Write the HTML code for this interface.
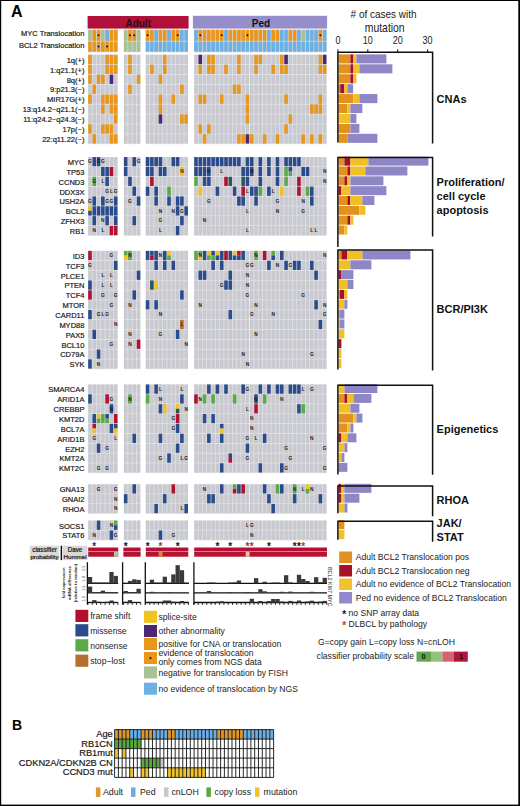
<!DOCTYPE html>
<html><head><meta charset="utf-8"><title>Figure</title>
<style>
html,body{margin:0;padding:0;background:#fff;}
body{width:520px;height:806px;overflow:hidden;position:relative;font-family:"Liberation Sans", sans-serif;}
svg{position:absolute;left:0;top:0;display:block;}
svg text{font-family:"Liberation Sans", sans-serif;}
.lb{stroke:#1a1a1a;stroke-width:0.2px;}
</style></head>
<body>
<svg width="520" height="806" viewBox="0 0 520 806">
<rect x="0" y="0" width="520" height="806" fill="#fff"/>
<rect x="87.60" y="16.00" width="101.00" height="12.60" fill="#b1103b"/>
<text x="138.20" y="27.20" font-size="10" text-anchor="middle" font-weight="bold" fill="#2a0a10">Adult</text>
<rect x="192.90" y="15.80" width="134.20" height="12.80" fill="#958ecb"/>
<text x="261.00" y="27.20" font-size="10" text-anchor="middle" font-weight="bold" fill="#111">Ped</text>
<rect x="88.20" y="29.70" width="29.29" height="11.75" fill="#e2e2e8"/>
<rect x="123.90" y="29.70" width="16.42" height="11.75" fill="#e2e2e8"/>
<rect x="145.80" y="29.70" width="42.16" height="11.75" fill="#e2e2e8"/>
<rect x="194.20" y="29.70" width="132.25" height="11.75" fill="#e2e2e8"/>
<rect x="249.13" y="29.70" width="0.94" height="11.75" fill="#f6f6f8"/>
<rect x="88.20" y="29.80" width="3.55" height="11.00" fill="#c9c9d0"/>
<rect x="92.49" y="29.80" width="3.55" height="11.00" fill="#c9c9d0"/>
<rect x="96.78" y="29.80" width="3.55" height="11.00" fill="#c9c9d0"/>
<rect x="101.07" y="29.80" width="3.55" height="11.00" fill="#c9c9d0"/>
<rect x="105.36" y="29.80" width="3.55" height="11.00" fill="#c9c9d0"/>
<rect x="109.65" y="29.80" width="3.55" height="11.00" fill="#c9c9d0"/>
<rect x="113.94" y="29.80" width="3.55" height="11.00" fill="#c9c9d0"/>
<rect x="123.90" y="29.80" width="3.55" height="11.00" fill="#c9c9d0"/>
<rect x="128.19" y="29.80" width="3.55" height="11.00" fill="#c9c9d0"/>
<rect x="132.48" y="29.80" width="3.55" height="11.00" fill="#c9c9d0"/>
<rect x="136.77" y="29.80" width="3.55" height="11.00" fill="#c9c9d0"/>
<rect x="145.80" y="29.80" width="3.55" height="11.00" fill="#c9c9d0"/>
<rect x="150.09" y="29.80" width="3.55" height="11.00" fill="#c9c9d0"/>
<rect x="154.38" y="29.80" width="3.55" height="11.00" fill="#c9c9d0"/>
<rect x="158.67" y="29.80" width="3.55" height="11.00" fill="#c9c9d0"/>
<rect x="162.96" y="29.80" width="3.55" height="11.00" fill="#c9c9d0"/>
<rect x="167.25" y="29.80" width="3.55" height="11.00" fill="#c9c9d0"/>
<rect x="171.54" y="29.80" width="3.55" height="11.00" fill="#c9c9d0"/>
<rect x="175.83" y="29.80" width="3.55" height="11.00" fill="#c9c9d0"/>
<rect x="180.12" y="29.80" width="3.55" height="11.00" fill="#c9c9d0"/>
<rect x="184.41" y="29.80" width="3.55" height="11.00" fill="#c9c9d0"/>
<rect x="194.20" y="29.80" width="3.55" height="11.00" fill="#c9c9d0"/>
<rect x="198.49" y="29.80" width="3.55" height="11.00" fill="#c9c9d0"/>
<rect x="202.78" y="29.80" width="3.55" height="11.00" fill="#c9c9d0"/>
<rect x="207.07" y="29.80" width="3.55" height="11.00" fill="#c9c9d0"/>
<rect x="211.36" y="29.80" width="3.55" height="11.00" fill="#c9c9d0"/>
<rect x="215.65" y="29.80" width="3.55" height="11.00" fill="#c9c9d0"/>
<rect x="219.94" y="29.80" width="3.55" height="11.00" fill="#c9c9d0"/>
<rect x="224.23" y="29.80" width="3.55" height="11.00" fill="#c9c9d0"/>
<rect x="228.52" y="29.80" width="3.55" height="11.00" fill="#c9c9d0"/>
<rect x="232.81" y="29.80" width="3.55" height="11.00" fill="#c9c9d0"/>
<rect x="237.10" y="29.80" width="3.55" height="11.00" fill="#c9c9d0"/>
<rect x="241.39" y="29.80" width="3.55" height="11.00" fill="#c9c9d0"/>
<rect x="245.68" y="29.80" width="3.55" height="11.00" fill="#c9c9d0"/>
<rect x="249.97" y="29.80" width="3.55" height="11.00" fill="#c9c9d0"/>
<rect x="254.26" y="29.80" width="3.55" height="11.00" fill="#c9c9d0"/>
<rect x="258.55" y="29.80" width="3.55" height="11.00" fill="#c9c9d0"/>
<rect x="262.84" y="29.80" width="3.55" height="11.00" fill="#c9c9d0"/>
<rect x="267.13" y="29.80" width="3.55" height="11.00" fill="#c9c9d0"/>
<rect x="271.42" y="29.80" width="3.55" height="11.00" fill="#c9c9d0"/>
<rect x="275.71" y="29.80" width="3.55" height="11.00" fill="#c9c9d0"/>
<rect x="280.00" y="29.80" width="3.55" height="11.00" fill="#c9c9d0"/>
<rect x="284.29" y="29.80" width="3.55" height="11.00" fill="#c9c9d0"/>
<rect x="288.58" y="29.80" width="3.55" height="11.00" fill="#c9c9d0"/>
<rect x="292.87" y="29.80" width="3.55" height="11.00" fill="#c9c9d0"/>
<rect x="297.16" y="29.80" width="3.55" height="11.00" fill="#c9c9d0"/>
<rect x="301.45" y="29.80" width="3.55" height="11.00" fill="#c9c9d0"/>
<rect x="305.74" y="29.80" width="3.55" height="11.00" fill="#c9c9d0"/>
<rect x="310.03" y="29.80" width="3.55" height="11.00" fill="#c9c9d0"/>
<rect x="314.32" y="29.80" width="3.55" height="11.00" fill="#c9c9d0"/>
<rect x="318.61" y="29.80" width="3.55" height="11.00" fill="#c9c9d0"/>
<rect x="322.90" y="29.80" width="3.55" height="11.00" fill="#c9c9d0"/>
<rect x="88.20" y="29.80" width="3.55" height="11.00" fill="#a9c293"/>
<rect x="92.49" y="29.80" width="3.55" height="11.00" fill="#e8961c"/>
<rect x="96.78" y="29.80" width="3.55" height="11.00" fill="#e8961c"/>
<circle cx="98.56" cy="35.30" r="1.0" fill="#201010"/>
<rect x="101.07" y="29.80" width="3.55" height="11.00" fill="#a9c293"/>
<rect x="105.36" y="29.80" width="3.55" height="11.00" fill="#6cb0e4"/>
<rect x="109.65" y="29.80" width="3.55" height="11.00" fill="#e8961c"/>
<rect x="113.94" y="29.80" width="3.55" height="11.00" fill="#e8961c"/>
<rect x="123.90" y="29.80" width="3.55" height="11.00" fill="#a9c293"/>
<rect x="128.19" y="29.80" width="3.55" height="11.00" fill="#e8961c"/>
<circle cx="129.97" cy="35.30" r="1.0" fill="#201010"/>
<rect x="132.48" y="29.80" width="3.55" height="11.00" fill="#e8961c"/>
<circle cx="134.26" cy="35.30" r="1.0" fill="#201010"/>
<rect x="136.77" y="29.80" width="3.55" height="11.00" fill="#a9c293"/>
<rect x="145.80" y="29.80" width="3.55" height="11.00" fill="#e8961c"/>
<circle cx="147.58" cy="35.30" r="1.0" fill="#201010"/>
<rect x="150.09" y="29.80" width="3.55" height="11.00" fill="#e8961c"/>
<rect x="154.38" y="29.80" width="3.55" height="11.00" fill="#6cb0e4"/>
<rect x="158.67" y="29.80" width="3.55" height="11.00" fill="#e8961c"/>
<rect x="162.96" y="29.80" width="3.55" height="11.00" fill="#e8961c"/>
<rect x="167.25" y="29.80" width="3.55" height="11.00" fill="#6cb0e4"/>
<rect x="171.54" y="29.80" width="3.55" height="11.00" fill="#e8961c"/>
<rect x="175.83" y="29.80" width="3.55" height="11.00" fill="#e8961c"/>
<circle cx="177.61" cy="35.30" r="1.0" fill="#201010"/>
<rect x="180.12" y="29.80" width="3.55" height="11.00" fill="#6cb0e4"/>
<rect x="184.41" y="29.80" width="3.55" height="11.00" fill="#6cb0e4"/>
<rect x="194.20" y="29.80" width="3.55" height="11.00" fill="#6cb0e4"/>
<rect x="198.49" y="29.80" width="3.55" height="11.00" fill="#e8961c"/>
<circle cx="200.26" cy="35.30" r="1.0" fill="#201010"/>
<rect x="202.78" y="29.80" width="3.55" height="11.00" fill="#e8961c"/>
<rect x="207.07" y="29.80" width="3.55" height="11.00" fill="#e8961c"/>
<rect x="211.36" y="29.80" width="3.55" height="11.00" fill="#e8961c"/>
<rect x="215.65" y="29.80" width="3.55" height="11.00" fill="#e8961c"/>
<rect x="219.94" y="29.80" width="3.55" height="11.00" fill="#e8961c"/>
<circle cx="221.72" cy="35.30" r="1.0" fill="#201010"/>
<rect x="224.23" y="29.80" width="3.55" height="11.00" fill="#6cb0e4"/>
<rect x="228.52" y="29.80" width="3.55" height="11.00" fill="#e8961c"/>
<rect x="232.81" y="29.80" width="3.55" height="11.00" fill="#e8961c"/>
<rect x="237.10" y="29.80" width="3.55" height="11.00" fill="#e8961c"/>
<rect x="241.39" y="29.80" width="3.55" height="11.00" fill="#e8961c"/>
<rect x="245.68" y="29.80" width="3.55" height="11.00" fill="#e8961c"/>
<circle cx="247.46" cy="35.30" r="1.0" fill="#201010"/>
<rect x="249.97" y="29.80" width="3.55" height="11.00" fill="#e8961c"/>
<rect x="254.26" y="29.80" width="3.55" height="11.00" fill="#e8961c"/>
<rect x="258.55" y="29.80" width="3.55" height="11.00" fill="#e8961c"/>
<rect x="262.84" y="29.80" width="3.55" height="11.00" fill="#e8961c"/>
<rect x="267.13" y="29.80" width="3.55" height="11.00" fill="#6cb0e4"/>
<rect x="271.42" y="29.80" width="3.55" height="11.00" fill="#e8961c"/>
<rect x="275.71" y="29.80" width="3.55" height="11.00" fill="#e8961c"/>
<rect x="280.00" y="29.80" width="3.55" height="11.00" fill="#6cb0e4"/>
<rect x="284.29" y="29.80" width="3.55" height="11.00" fill="#6cb0e4"/>
<rect x="288.58" y="29.80" width="3.55" height="11.00" fill="#e8961c"/>
<rect x="292.87" y="29.80" width="3.55" height="11.00" fill="#e8961c"/>
<rect x="297.16" y="29.80" width="3.55" height="11.00" fill="#6cb0e4"/>
<rect x="301.45" y="29.80" width="3.55" height="11.00" fill="#a9c293"/>
<rect x="305.74" y="29.80" width="3.55" height="11.00" fill="#6cb0e4"/>
<rect x="310.03" y="29.80" width="3.55" height="11.00" fill="#6cb0e4"/>
<rect x="314.32" y="29.80" width="3.55" height="11.00" fill="#6cb0e4"/>
<rect x="318.61" y="29.80" width="3.55" height="11.00" fill="#e8961c"/>
<circle cx="320.38" cy="35.30" r="1.0" fill="#201010"/>
<rect x="322.90" y="29.80" width="3.55" height="11.00" fill="#6cb0e4"/>
<text x="84.40" y="36.00" font-size="7.5" text-anchor="end" fill="#1a1a1a" class="lb">MYC Translocation</text>
<rect x="88.20" y="41.40" width="29.29" height="10.95" fill="#e2e2e8"/>
<rect x="123.90" y="41.40" width="16.42" height="10.95" fill="#e2e2e8"/>
<rect x="145.80" y="41.40" width="42.16" height="10.95" fill="#e2e2e8"/>
<rect x="194.20" y="41.40" width="132.25" height="10.95" fill="#e2e2e8"/>
<rect x="249.13" y="41.40" width="0.94" height="10.95" fill="#f6f6f8"/>
<rect x="88.20" y="41.50" width="3.55" height="10.20" fill="#c9c9d0"/>
<rect x="92.49" y="41.50" width="3.55" height="10.20" fill="#c9c9d0"/>
<rect x="96.78" y="41.50" width="3.55" height="10.20" fill="#c9c9d0"/>
<rect x="101.07" y="41.50" width="3.55" height="10.20" fill="#c9c9d0"/>
<rect x="105.36" y="41.50" width="3.55" height="10.20" fill="#c9c9d0"/>
<rect x="109.65" y="41.50" width="3.55" height="10.20" fill="#c9c9d0"/>
<rect x="113.94" y="41.50" width="3.55" height="10.20" fill="#c9c9d0"/>
<rect x="123.90" y="41.50" width="3.55" height="10.20" fill="#c9c9d0"/>
<rect x="128.19" y="41.50" width="3.55" height="10.20" fill="#c9c9d0"/>
<rect x="132.48" y="41.50" width="3.55" height="10.20" fill="#c9c9d0"/>
<rect x="136.77" y="41.50" width="3.55" height="10.20" fill="#c9c9d0"/>
<rect x="145.80" y="41.50" width="3.55" height="10.20" fill="#c9c9d0"/>
<rect x="150.09" y="41.50" width="3.55" height="10.20" fill="#c9c9d0"/>
<rect x="154.38" y="41.50" width="3.55" height="10.20" fill="#c9c9d0"/>
<rect x="158.67" y="41.50" width="3.55" height="10.20" fill="#c9c9d0"/>
<rect x="162.96" y="41.50" width="3.55" height="10.20" fill="#c9c9d0"/>
<rect x="167.25" y="41.50" width="3.55" height="10.20" fill="#c9c9d0"/>
<rect x="171.54" y="41.50" width="3.55" height="10.20" fill="#c9c9d0"/>
<rect x="175.83" y="41.50" width="3.55" height="10.20" fill="#c9c9d0"/>
<rect x="180.12" y="41.50" width="3.55" height="10.20" fill="#c9c9d0"/>
<rect x="184.41" y="41.50" width="3.55" height="10.20" fill="#c9c9d0"/>
<rect x="194.20" y="41.50" width="3.55" height="10.20" fill="#c9c9d0"/>
<rect x="198.49" y="41.50" width="3.55" height="10.20" fill="#c9c9d0"/>
<rect x="202.78" y="41.50" width="3.55" height="10.20" fill="#c9c9d0"/>
<rect x="207.07" y="41.50" width="3.55" height="10.20" fill="#c9c9d0"/>
<rect x="211.36" y="41.50" width="3.55" height="10.20" fill="#c9c9d0"/>
<rect x="215.65" y="41.50" width="3.55" height="10.20" fill="#c9c9d0"/>
<rect x="219.94" y="41.50" width="3.55" height="10.20" fill="#c9c9d0"/>
<rect x="224.23" y="41.50" width="3.55" height="10.20" fill="#c9c9d0"/>
<rect x="228.52" y="41.50" width="3.55" height="10.20" fill="#c9c9d0"/>
<rect x="232.81" y="41.50" width="3.55" height="10.20" fill="#c9c9d0"/>
<rect x="237.10" y="41.50" width="3.55" height="10.20" fill="#c9c9d0"/>
<rect x="241.39" y="41.50" width="3.55" height="10.20" fill="#c9c9d0"/>
<rect x="245.68" y="41.50" width="3.55" height="10.20" fill="#c9c9d0"/>
<rect x="249.97" y="41.50" width="3.55" height="10.20" fill="#c9c9d0"/>
<rect x="254.26" y="41.50" width="3.55" height="10.20" fill="#c9c9d0"/>
<rect x="258.55" y="41.50" width="3.55" height="10.20" fill="#c9c9d0"/>
<rect x="262.84" y="41.50" width="3.55" height="10.20" fill="#c9c9d0"/>
<rect x="267.13" y="41.50" width="3.55" height="10.20" fill="#c9c9d0"/>
<rect x="271.42" y="41.50" width="3.55" height="10.20" fill="#c9c9d0"/>
<rect x="275.71" y="41.50" width="3.55" height="10.20" fill="#c9c9d0"/>
<rect x="280.00" y="41.50" width="3.55" height="10.20" fill="#c9c9d0"/>
<rect x="284.29" y="41.50" width="3.55" height="10.20" fill="#c9c9d0"/>
<rect x="288.58" y="41.50" width="3.55" height="10.20" fill="#c9c9d0"/>
<rect x="292.87" y="41.50" width="3.55" height="10.20" fill="#c9c9d0"/>
<rect x="297.16" y="41.50" width="3.55" height="10.20" fill="#c9c9d0"/>
<rect x="301.45" y="41.50" width="3.55" height="10.20" fill="#c9c9d0"/>
<rect x="305.74" y="41.50" width="3.55" height="10.20" fill="#c9c9d0"/>
<rect x="310.03" y="41.50" width="3.55" height="10.20" fill="#c9c9d0"/>
<rect x="314.32" y="41.50" width="3.55" height="10.20" fill="#c9c9d0"/>
<rect x="318.61" y="41.50" width="3.55" height="10.20" fill="#c9c9d0"/>
<rect x="322.90" y="41.50" width="3.55" height="10.20" fill="#c9c9d0"/>
<rect x="88.20" y="41.50" width="3.55" height="10.20" fill="#e8961c"/>
<rect x="92.49" y="41.50" width="3.55" height="10.20" fill="#e8961c"/>
<rect x="96.78" y="41.50" width="3.55" height="10.20" fill="#e8961c"/>
<circle cx="98.56" cy="46.60" r="1.0" fill="#201010"/>
<rect x="101.07" y="41.50" width="3.55" height="10.20" fill="#e8961c"/>
<rect x="105.36" y="41.50" width="3.55" height="10.20" fill="#e8961c"/>
<circle cx="107.14" cy="46.60" r="1.0" fill="#201010"/>
<rect x="109.65" y="41.50" width="3.55" height="10.20" fill="#e8961c"/>
<rect x="113.94" y="41.50" width="3.55" height="10.20" fill="#e8961c"/>
<rect x="123.90" y="41.50" width="3.55" height="10.20" fill="#a9c293"/>
<rect x="128.19" y="41.50" width="3.55" height="10.20" fill="#a9c293"/>
<rect x="132.48" y="41.50" width="3.55" height="10.20" fill="#a9c293"/>
<rect x="136.77" y="41.50" width="3.55" height="10.20" fill="#a9c293"/>
<rect x="145.80" y="41.50" width="3.55" height="10.20" fill="#6cb0e4"/>
<rect x="150.09" y="41.50" width="3.55" height="10.20" fill="#6cb0e4"/>
<rect x="154.38" y="41.50" width="3.55" height="10.20" fill="#6cb0e4"/>
<rect x="158.67" y="41.50" width="3.55" height="10.20" fill="#6cb0e4"/>
<rect x="162.96" y="41.50" width="3.55" height="10.20" fill="#6cb0e4"/>
<rect x="167.25" y="41.50" width="3.55" height="10.20" fill="#6cb0e4"/>
<rect x="171.54" y="41.50" width="3.55" height="10.20" fill="#6cb0e4"/>
<rect x="175.83" y="41.50" width="3.55" height="10.20" fill="#6cb0e4"/>
<rect x="180.12" y="41.50" width="3.55" height="10.20" fill="#6cb0e4"/>
<rect x="184.41" y="41.50" width="3.55" height="10.20" fill="#6cb0e4"/>
<rect x="194.20" y="41.50" width="3.55" height="10.20" fill="#6cb0e4"/>
<rect x="198.49" y="41.50" width="3.55" height="10.20" fill="#6cb0e4"/>
<rect x="202.78" y="41.50" width="3.55" height="10.20" fill="#6cb0e4"/>
<rect x="207.07" y="41.50" width="3.55" height="10.20" fill="#6cb0e4"/>
<rect x="211.36" y="41.50" width="3.55" height="10.20" fill="#6cb0e4"/>
<rect x="215.65" y="41.50" width="3.55" height="10.20" fill="#6cb0e4"/>
<rect x="219.94" y="41.50" width="3.55" height="10.20" fill="#6cb0e4"/>
<rect x="224.23" y="41.50" width="3.55" height="10.20" fill="#6cb0e4"/>
<rect x="228.52" y="41.50" width="3.55" height="10.20" fill="#6cb0e4"/>
<rect x="232.81" y="41.50" width="3.55" height="10.20" fill="#6cb0e4"/>
<rect x="237.10" y="41.50" width="3.55" height="10.20" fill="#6cb0e4"/>
<rect x="241.39" y="41.50" width="3.55" height="10.20" fill="#6cb0e4"/>
<rect x="245.68" y="41.50" width="3.55" height="10.20" fill="#6cb0e4"/>
<rect x="249.97" y="41.50" width="3.55" height="10.20" fill="#6cb0e4"/>
<rect x="254.26" y="41.50" width="3.55" height="10.20" fill="#6cb0e4"/>
<rect x="258.55" y="41.50" width="3.55" height="10.20" fill="#6cb0e4"/>
<rect x="262.84" y="41.50" width="3.55" height="10.20" fill="#6cb0e4"/>
<rect x="267.13" y="41.50" width="3.55" height="10.20" fill="#6cb0e4"/>
<rect x="271.42" y="41.50" width="3.55" height="10.20" fill="#6cb0e4"/>
<rect x="275.71" y="41.50" width="3.55" height="10.20" fill="#6cb0e4"/>
<rect x="280.00" y="41.50" width="3.55" height="10.20" fill="#6cb0e4"/>
<rect x="284.29" y="41.50" width="3.55" height="10.20" fill="#6cb0e4"/>
<rect x="288.58" y="41.50" width="3.55" height="10.20" fill="#6cb0e4"/>
<rect x="292.87" y="41.50" width="3.55" height="10.20" fill="#6cb0e4"/>
<rect x="297.16" y="41.50" width="3.55" height="10.20" fill="#6cb0e4"/>
<rect x="301.45" y="41.50" width="3.55" height="10.20" fill="#6cb0e4"/>
<rect x="305.74" y="41.50" width="3.55" height="10.20" fill="#6cb0e4"/>
<rect x="310.03" y="41.50" width="3.55" height="10.20" fill="#6cb0e4"/>
<rect x="314.32" y="41.50" width="3.55" height="10.20" fill="#6cb0e4"/>
<rect x="318.61" y="41.50" width="3.55" height="10.20" fill="#6cb0e4"/>
<rect x="322.90" y="41.50" width="3.55" height="10.20" fill="#6cb0e4"/>
<text x="84.40" y="47.70" font-size="7.5" text-anchor="end" fill="#1a1a1a" class="lb">BCL2 Translocation</text>
<rect x="88.20" y="54.70" width="29.29" height="10.03" fill="#e2e2e8"/>
<rect x="123.90" y="54.70" width="16.42" height="10.03" fill="#e2e2e8"/>
<rect x="145.80" y="54.70" width="42.16" height="10.03" fill="#e2e2e8"/>
<rect x="194.20" y="54.70" width="132.25" height="10.03" fill="#e2e2e8"/>
<rect x="249.13" y="54.70" width="0.94" height="10.03" fill="#f6f6f8"/>
<rect x="88.20" y="54.80" width="3.55" height="9.28" fill="#c9c9d0"/>
<rect x="92.49" y="54.80" width="3.55" height="9.28" fill="#c9c9d0"/>
<rect x="96.78" y="54.80" width="3.55" height="9.28" fill="#c9c9d0"/>
<rect x="101.07" y="54.80" width="3.55" height="9.28" fill="#c9c9d0"/>
<rect x="105.36" y="54.80" width="3.55" height="9.28" fill="#c9c9d0"/>
<rect x="109.65" y="54.80" width="3.55" height="9.28" fill="#c9c9d0"/>
<rect x="113.94" y="54.80" width="3.55" height="9.28" fill="#c9c9d0"/>
<rect x="123.90" y="54.80" width="3.55" height="9.28" fill="#c9c9d0"/>
<rect x="128.19" y="54.80" width="3.55" height="9.28" fill="#c9c9d0"/>
<rect x="132.48" y="54.80" width="3.55" height="9.28" fill="#c9c9d0"/>
<rect x="136.77" y="54.80" width="3.55" height="9.28" fill="#c9c9d0"/>
<rect x="145.80" y="54.80" width="3.55" height="9.28" fill="#c9c9d0"/>
<rect x="150.09" y="54.80" width="3.55" height="9.28" fill="#c9c9d0"/>
<rect x="154.38" y="54.80" width="3.55" height="9.28" fill="#c9c9d0"/>
<rect x="158.67" y="54.80" width="3.55" height="9.28" fill="#c9c9d0"/>
<rect x="162.96" y="54.80" width="3.55" height="9.28" fill="#c9c9d0"/>
<rect x="167.25" y="54.80" width="3.55" height="9.28" fill="#c9c9d0"/>
<rect x="171.54" y="54.80" width="3.55" height="9.28" fill="#c9c9d0"/>
<rect x="175.83" y="54.80" width="3.55" height="9.28" fill="#c9c9d0"/>
<rect x="180.12" y="54.80" width="3.55" height="9.28" fill="#c9c9d0"/>
<rect x="184.41" y="54.80" width="3.55" height="9.28" fill="#c9c9d0"/>
<rect x="194.20" y="54.80" width="3.55" height="9.28" fill="#c9c9d0"/>
<rect x="198.49" y="54.80" width="3.55" height="9.28" fill="#c9c9d0"/>
<rect x="202.78" y="54.80" width="3.55" height="9.28" fill="#c9c9d0"/>
<rect x="207.07" y="54.80" width="3.55" height="9.28" fill="#c9c9d0"/>
<rect x="211.36" y="54.80" width="3.55" height="9.28" fill="#c9c9d0"/>
<rect x="215.65" y="54.80" width="3.55" height="9.28" fill="#c9c9d0"/>
<rect x="219.94" y="54.80" width="3.55" height="9.28" fill="#c9c9d0"/>
<rect x="224.23" y="54.80" width="3.55" height="9.28" fill="#c9c9d0"/>
<rect x="228.52" y="54.80" width="3.55" height="9.28" fill="#c9c9d0"/>
<rect x="232.81" y="54.80" width="3.55" height="9.28" fill="#c9c9d0"/>
<rect x="237.10" y="54.80" width="3.55" height="9.28" fill="#c9c9d0"/>
<rect x="241.39" y="54.80" width="3.55" height="9.28" fill="#c9c9d0"/>
<rect x="245.68" y="54.80" width="3.55" height="9.28" fill="#c9c9d0"/>
<rect x="249.97" y="54.80" width="3.55" height="9.28" fill="#c9c9d0"/>
<rect x="254.26" y="54.80" width="3.55" height="9.28" fill="#c9c9d0"/>
<rect x="258.55" y="54.80" width="3.55" height="9.28" fill="#c9c9d0"/>
<rect x="262.84" y="54.80" width="3.55" height="9.28" fill="#c9c9d0"/>
<rect x="267.13" y="54.80" width="3.55" height="9.28" fill="#c9c9d0"/>
<rect x="271.42" y="54.80" width="3.55" height="9.28" fill="#c9c9d0"/>
<rect x="275.71" y="54.80" width="3.55" height="9.28" fill="#c9c9d0"/>
<rect x="280.00" y="54.80" width="3.55" height="9.28" fill="#c9c9d0"/>
<rect x="284.29" y="54.80" width="3.55" height="9.28" fill="#c9c9d0"/>
<rect x="288.58" y="54.80" width="3.55" height="9.28" fill="#c9c9d0"/>
<rect x="292.87" y="54.80" width="3.55" height="9.28" fill="#c9c9d0"/>
<rect x="297.16" y="54.80" width="3.55" height="9.28" fill="#c9c9d0"/>
<rect x="301.45" y="54.80" width="3.55" height="9.28" fill="#c9c9d0"/>
<rect x="305.74" y="54.80" width="3.55" height="9.28" fill="#c9c9d0"/>
<rect x="310.03" y="54.80" width="3.55" height="9.28" fill="#c9c9d0"/>
<rect x="314.32" y="54.80" width="3.55" height="9.28" fill="#c9c9d0"/>
<rect x="318.61" y="54.80" width="3.55" height="9.28" fill="#c9c9d0"/>
<rect x="322.90" y="54.80" width="3.55" height="9.28" fill="#c9c9d0"/>
<rect x="88.20" y="54.80" width="3.55" height="9.28" fill="#e8961c"/>
<rect x="105.36" y="54.80" width="3.55" height="9.28" fill="#e8961c"/>
<rect x="109.65" y="54.80" width="3.55" height="9.28" fill="#e8961c"/>
<rect x="113.94" y="54.80" width="3.55" height="9.28" fill="#e8961c"/>
<rect x="128.19" y="54.80" width="3.55" height="9.28" fill="#e8961c"/>
<rect x="162.96" y="54.80" width="3.55" height="9.28" fill="#e8961c"/>
<rect x="198.49" y="54.80" width="3.55" height="9.28" fill="#4a2674"/>
<rect x="207.07" y="54.80" width="3.55" height="9.28" fill="#e8961c"/>
<rect x="211.36" y="54.80" width="3.55" height="9.28" fill="#e8961c"/>
<rect x="237.10" y="54.80" width="3.55" height="9.28" fill="#e8961c"/>
<rect x="254.26" y="54.80" width="3.55" height="9.28" fill="#e8961c"/>
<rect x="258.55" y="54.80" width="3.55" height="9.28" fill="#e8961c"/>
<rect x="280.00" y="54.80" width="3.55" height="9.28" fill="#e8961c"/>
<rect x="284.29" y="54.80" width="3.55" height="9.28" fill="#4a2674"/>
<rect x="318.61" y="54.80" width="3.55" height="9.28" fill="#e8961c"/>
<rect x="322.90" y="54.80" width="3.55" height="9.28" fill="#4a2674"/>
<text x="84.40" y="62.70" font-size="7.5" text-anchor="end" fill="#1a1a1a" class="lb">1q(+)</text>
<rect x="338.40" y="54.35" width="12.00" height="9.08" fill="#e4921f"/>
<rect x="350.40" y="54.35" width="3.00" height="9.08" fill="#a8102a"/>
<rect x="353.40" y="54.35" width="3.00" height="9.08" fill="#f0c026"/>
<rect x="356.40" y="54.35" width="30.00" height="9.08" fill="#8f87c5"/>
<rect x="88.20" y="64.63" width="29.29" height="10.03" fill="#e2e2e8"/>
<rect x="123.90" y="64.63" width="16.42" height="10.03" fill="#e2e2e8"/>
<rect x="145.80" y="64.63" width="42.16" height="10.03" fill="#e2e2e8"/>
<rect x="194.20" y="64.63" width="132.25" height="10.03" fill="#e2e2e8"/>
<rect x="249.13" y="64.63" width="0.94" height="10.03" fill="#f6f6f8"/>
<rect x="88.20" y="64.73" width="3.55" height="9.28" fill="#c9c9d0"/>
<rect x="92.49" y="64.73" width="3.55" height="9.28" fill="#c9c9d0"/>
<rect x="96.78" y="64.73" width="3.55" height="9.28" fill="#c9c9d0"/>
<rect x="101.07" y="64.73" width="3.55" height="9.28" fill="#c9c9d0"/>
<rect x="105.36" y="64.73" width="3.55" height="9.28" fill="#c9c9d0"/>
<rect x="109.65" y="64.73" width="3.55" height="9.28" fill="#c9c9d0"/>
<rect x="113.94" y="64.73" width="3.55" height="9.28" fill="#c9c9d0"/>
<rect x="123.90" y="64.73" width="3.55" height="9.28" fill="#c9c9d0"/>
<rect x="128.19" y="64.73" width="3.55" height="9.28" fill="#c9c9d0"/>
<rect x="132.48" y="64.73" width="3.55" height="9.28" fill="#c9c9d0"/>
<rect x="136.77" y="64.73" width="3.55" height="9.28" fill="#c9c9d0"/>
<rect x="145.80" y="64.73" width="3.55" height="9.28" fill="#c9c9d0"/>
<rect x="150.09" y="64.73" width="3.55" height="9.28" fill="#c9c9d0"/>
<rect x="154.38" y="64.73" width="3.55" height="9.28" fill="#c9c9d0"/>
<rect x="158.67" y="64.73" width="3.55" height="9.28" fill="#c9c9d0"/>
<rect x="162.96" y="64.73" width="3.55" height="9.28" fill="#c9c9d0"/>
<rect x="167.25" y="64.73" width="3.55" height="9.28" fill="#c9c9d0"/>
<rect x="171.54" y="64.73" width="3.55" height="9.28" fill="#c9c9d0"/>
<rect x="175.83" y="64.73" width="3.55" height="9.28" fill="#c9c9d0"/>
<rect x="180.12" y="64.73" width="3.55" height="9.28" fill="#c9c9d0"/>
<rect x="184.41" y="64.73" width="3.55" height="9.28" fill="#c9c9d0"/>
<rect x="194.20" y="64.73" width="3.55" height="9.28" fill="#c9c9d0"/>
<rect x="198.49" y="64.73" width="3.55" height="9.28" fill="#c9c9d0"/>
<rect x="202.78" y="64.73" width="3.55" height="9.28" fill="#c9c9d0"/>
<rect x="207.07" y="64.73" width="3.55" height="9.28" fill="#c9c9d0"/>
<rect x="211.36" y="64.73" width="3.55" height="9.28" fill="#c9c9d0"/>
<rect x="215.65" y="64.73" width="3.55" height="9.28" fill="#c9c9d0"/>
<rect x="219.94" y="64.73" width="3.55" height="9.28" fill="#c9c9d0"/>
<rect x="224.23" y="64.73" width="3.55" height="9.28" fill="#c9c9d0"/>
<rect x="228.52" y="64.73" width="3.55" height="9.28" fill="#c9c9d0"/>
<rect x="232.81" y="64.73" width="3.55" height="9.28" fill="#c9c9d0"/>
<rect x="237.10" y="64.73" width="3.55" height="9.28" fill="#c9c9d0"/>
<rect x="241.39" y="64.73" width="3.55" height="9.28" fill="#c9c9d0"/>
<rect x="245.68" y="64.73" width="3.55" height="9.28" fill="#c9c9d0"/>
<rect x="249.97" y="64.73" width="3.55" height="9.28" fill="#c9c9d0"/>
<rect x="254.26" y="64.73" width="3.55" height="9.28" fill="#c9c9d0"/>
<rect x="258.55" y="64.73" width="3.55" height="9.28" fill="#c9c9d0"/>
<rect x="262.84" y="64.73" width="3.55" height="9.28" fill="#c9c9d0"/>
<rect x="267.13" y="64.73" width="3.55" height="9.28" fill="#c9c9d0"/>
<rect x="271.42" y="64.73" width="3.55" height="9.28" fill="#c9c9d0"/>
<rect x="275.71" y="64.73" width="3.55" height="9.28" fill="#c9c9d0"/>
<rect x="280.00" y="64.73" width="3.55" height="9.28" fill="#c9c9d0"/>
<rect x="284.29" y="64.73" width="3.55" height="9.28" fill="#c9c9d0"/>
<rect x="288.58" y="64.73" width="3.55" height="9.28" fill="#c9c9d0"/>
<rect x="292.87" y="64.73" width="3.55" height="9.28" fill="#c9c9d0"/>
<rect x="297.16" y="64.73" width="3.55" height="9.28" fill="#c9c9d0"/>
<rect x="301.45" y="64.73" width="3.55" height="9.28" fill="#c9c9d0"/>
<rect x="305.74" y="64.73" width="3.55" height="9.28" fill="#c9c9d0"/>
<rect x="310.03" y="64.73" width="3.55" height="9.28" fill="#c9c9d0"/>
<rect x="314.32" y="64.73" width="3.55" height="9.28" fill="#c9c9d0"/>
<rect x="318.61" y="64.73" width="3.55" height="9.28" fill="#c9c9d0"/>
<rect x="322.90" y="64.73" width="3.55" height="9.28" fill="#c9c9d0"/>
<rect x="88.20" y="64.73" width="3.55" height="9.28" fill="#e8961c"/>
<rect x="105.36" y="64.73" width="3.55" height="9.28" fill="#e8961c"/>
<rect x="109.65" y="64.73" width="3.55" height="9.28" fill="#e8961c"/>
<rect x="113.94" y="64.73" width="3.55" height="9.28" fill="#e8961c"/>
<rect x="128.19" y="64.73" width="3.55" height="9.28" fill="#e8961c"/>
<rect x="150.09" y="64.73" width="3.55" height="9.28" fill="#e8961c"/>
<rect x="162.96" y="64.73" width="3.55" height="9.28" fill="#e8961c"/>
<rect x="198.49" y="64.73" width="3.55" height="9.28" fill="#e8961c"/>
<rect x="207.07" y="64.73" width="3.55" height="9.28" fill="#e8961c"/>
<rect x="211.36" y="64.73" width="3.55" height="9.28" fill="#e8961c"/>
<rect x="224.23" y="64.73" width="3.55" height="9.28" fill="#e8961c"/>
<rect x="237.10" y="64.73" width="3.55" height="9.28" fill="#e8961c"/>
<rect x="254.26" y="64.73" width="3.55" height="9.28" fill="#e8961c"/>
<rect x="271.42" y="64.73" width="3.55" height="9.28" fill="#e8961c"/>
<rect x="280.00" y="64.73" width="3.55" height="9.28" fill="#e8961c"/>
<rect x="284.29" y="64.73" width="3.55" height="9.28" fill="#e8961c"/>
<rect x="318.61" y="64.73" width="3.55" height="9.28" fill="#e8961c"/>
<rect x="322.90" y="64.73" width="3.55" height="9.28" fill="#e8961c"/>
<text x="84.40" y="72.63" font-size="7.5" text-anchor="end" fill="#1a1a1a" class="lb">1:q21.1(+)</text>
<rect x="338.40" y="64.28" width="12.00" height="9.08" fill="#e4921f"/>
<rect x="350.40" y="64.28" width="3.00" height="9.08" fill="#a8102a"/>
<rect x="353.40" y="64.28" width="6.00" height="9.08" fill="#f0c026"/>
<rect x="359.40" y="64.28" width="33.00" height="9.08" fill="#8f87c5"/>
<rect x="88.20" y="74.56" width="29.29" height="10.03" fill="#e2e2e8"/>
<rect x="123.90" y="74.56" width="16.42" height="10.03" fill="#e2e2e8"/>
<rect x="145.80" y="74.56" width="42.16" height="10.03" fill="#e2e2e8"/>
<rect x="194.20" y="74.56" width="132.25" height="10.03" fill="#e2e2e8"/>
<rect x="249.13" y="74.56" width="0.94" height="10.03" fill="#f6f6f8"/>
<rect x="88.20" y="74.66" width="3.55" height="9.28" fill="#c9c9d0"/>
<rect x="92.49" y="74.66" width="3.55" height="9.28" fill="#c9c9d0"/>
<rect x="96.78" y="74.66" width="3.55" height="9.28" fill="#c9c9d0"/>
<rect x="101.07" y="74.66" width="3.55" height="9.28" fill="#c9c9d0"/>
<rect x="105.36" y="74.66" width="3.55" height="9.28" fill="#c9c9d0"/>
<rect x="109.65" y="74.66" width="3.55" height="9.28" fill="#c9c9d0"/>
<rect x="113.94" y="74.66" width="3.55" height="9.28" fill="#c9c9d0"/>
<rect x="123.90" y="74.66" width="3.55" height="9.28" fill="#c9c9d0"/>
<rect x="128.19" y="74.66" width="3.55" height="9.28" fill="#c9c9d0"/>
<rect x="132.48" y="74.66" width="3.55" height="9.28" fill="#c9c9d0"/>
<rect x="136.77" y="74.66" width="3.55" height="9.28" fill="#c9c9d0"/>
<rect x="145.80" y="74.66" width="3.55" height="9.28" fill="#c9c9d0"/>
<rect x="150.09" y="74.66" width="3.55" height="9.28" fill="#c9c9d0"/>
<rect x="154.38" y="74.66" width="3.55" height="9.28" fill="#c9c9d0"/>
<rect x="158.67" y="74.66" width="3.55" height="9.28" fill="#c9c9d0"/>
<rect x="162.96" y="74.66" width="3.55" height="9.28" fill="#c9c9d0"/>
<rect x="167.25" y="74.66" width="3.55" height="9.28" fill="#c9c9d0"/>
<rect x="171.54" y="74.66" width="3.55" height="9.28" fill="#c9c9d0"/>
<rect x="175.83" y="74.66" width="3.55" height="9.28" fill="#c9c9d0"/>
<rect x="180.12" y="74.66" width="3.55" height="9.28" fill="#c9c9d0"/>
<rect x="184.41" y="74.66" width="3.55" height="9.28" fill="#c9c9d0"/>
<rect x="194.20" y="74.66" width="3.55" height="9.28" fill="#c9c9d0"/>
<rect x="198.49" y="74.66" width="3.55" height="9.28" fill="#c9c9d0"/>
<rect x="202.78" y="74.66" width="3.55" height="9.28" fill="#c9c9d0"/>
<rect x="207.07" y="74.66" width="3.55" height="9.28" fill="#c9c9d0"/>
<rect x="211.36" y="74.66" width="3.55" height="9.28" fill="#c9c9d0"/>
<rect x="215.65" y="74.66" width="3.55" height="9.28" fill="#c9c9d0"/>
<rect x="219.94" y="74.66" width="3.55" height="9.28" fill="#c9c9d0"/>
<rect x="224.23" y="74.66" width="3.55" height="9.28" fill="#c9c9d0"/>
<rect x="228.52" y="74.66" width="3.55" height="9.28" fill="#c9c9d0"/>
<rect x="232.81" y="74.66" width="3.55" height="9.28" fill="#c9c9d0"/>
<rect x="237.10" y="74.66" width="3.55" height="9.28" fill="#c9c9d0"/>
<rect x="241.39" y="74.66" width="3.55" height="9.28" fill="#c9c9d0"/>
<rect x="245.68" y="74.66" width="3.55" height="9.28" fill="#c9c9d0"/>
<rect x="249.97" y="74.66" width="3.55" height="9.28" fill="#c9c9d0"/>
<rect x="254.26" y="74.66" width="3.55" height="9.28" fill="#c9c9d0"/>
<rect x="258.55" y="74.66" width="3.55" height="9.28" fill="#c9c9d0"/>
<rect x="262.84" y="74.66" width="3.55" height="9.28" fill="#c9c9d0"/>
<rect x="267.13" y="74.66" width="3.55" height="9.28" fill="#c9c9d0"/>
<rect x="271.42" y="74.66" width="3.55" height="9.28" fill="#c9c9d0"/>
<rect x="275.71" y="74.66" width="3.55" height="9.28" fill="#c9c9d0"/>
<rect x="280.00" y="74.66" width="3.55" height="9.28" fill="#c9c9d0"/>
<rect x="284.29" y="74.66" width="3.55" height="9.28" fill="#c9c9d0"/>
<rect x="288.58" y="74.66" width="3.55" height="9.28" fill="#c9c9d0"/>
<rect x="292.87" y="74.66" width="3.55" height="9.28" fill="#c9c9d0"/>
<rect x="297.16" y="74.66" width="3.55" height="9.28" fill="#c9c9d0"/>
<rect x="301.45" y="74.66" width="3.55" height="9.28" fill="#c9c9d0"/>
<rect x="305.74" y="74.66" width="3.55" height="9.28" fill="#c9c9d0"/>
<rect x="310.03" y="74.66" width="3.55" height="9.28" fill="#c9c9d0"/>
<rect x="314.32" y="74.66" width="3.55" height="9.28" fill="#c9c9d0"/>
<rect x="318.61" y="74.66" width="3.55" height="9.28" fill="#c9c9d0"/>
<rect x="322.90" y="74.66" width="3.55" height="9.28" fill="#c9c9d0"/>
<rect x="88.20" y="74.66" width="3.55" height="9.28" fill="#e8961c"/>
<rect x="96.78" y="74.66" width="3.55" height="9.28" fill="#e8961c"/>
<rect x="101.07" y="74.66" width="3.55" height="9.28" fill="#e8961c"/>
<rect x="109.65" y="74.66" width="3.55" height="9.28" fill="#4a2674"/>
<rect x="136.77" y="74.66" width="3.55" height="9.28" fill="#e8961c"/>
<rect x="158.67" y="74.66" width="3.55" height="9.28" fill="#e8961c"/>
<text x="84.40" y="82.56" font-size="7.5" text-anchor="end" fill="#1a1a1a" class="lb">8q(+)</text>
<rect x="338.40" y="74.21" width="12.00" height="9.08" fill="#e4921f"/>
<rect x="350.40" y="74.21" width="3.00" height="9.08" fill="#a8102a"/>
<rect x="353.40" y="74.21" width="3.00" height="9.08" fill="#f0c026"/>
<rect x="88.20" y="84.49" width="29.29" height="10.03" fill="#e2e2e8"/>
<rect x="123.90" y="84.49" width="16.42" height="10.03" fill="#e2e2e8"/>
<rect x="145.80" y="84.49" width="42.16" height="10.03" fill="#e2e2e8"/>
<rect x="194.20" y="84.49" width="132.25" height="10.03" fill="#e2e2e8"/>
<rect x="249.13" y="84.49" width="0.94" height="10.03" fill="#f6f6f8"/>
<rect x="88.20" y="84.59" width="3.55" height="9.28" fill="#c9c9d0"/>
<rect x="92.49" y="84.59" width="3.55" height="9.28" fill="#c9c9d0"/>
<rect x="96.78" y="84.59" width="3.55" height="9.28" fill="#c9c9d0"/>
<rect x="101.07" y="84.59" width="3.55" height="9.28" fill="#c9c9d0"/>
<rect x="105.36" y="84.59" width="3.55" height="9.28" fill="#c9c9d0"/>
<rect x="109.65" y="84.59" width="3.55" height="9.28" fill="#c9c9d0"/>
<rect x="113.94" y="84.59" width="3.55" height="9.28" fill="#c9c9d0"/>
<rect x="123.90" y="84.59" width="3.55" height="9.28" fill="#c9c9d0"/>
<rect x="128.19" y="84.59" width="3.55" height="9.28" fill="#c9c9d0"/>
<rect x="132.48" y="84.59" width="3.55" height="9.28" fill="#c9c9d0"/>
<rect x="136.77" y="84.59" width="3.55" height="9.28" fill="#c9c9d0"/>
<rect x="145.80" y="84.59" width="3.55" height="9.28" fill="#c9c9d0"/>
<rect x="150.09" y="84.59" width="3.55" height="9.28" fill="#c9c9d0"/>
<rect x="154.38" y="84.59" width="3.55" height="9.28" fill="#c9c9d0"/>
<rect x="158.67" y="84.59" width="3.55" height="9.28" fill="#c9c9d0"/>
<rect x="162.96" y="84.59" width="3.55" height="9.28" fill="#c9c9d0"/>
<rect x="167.25" y="84.59" width="3.55" height="9.28" fill="#c9c9d0"/>
<rect x="171.54" y="84.59" width="3.55" height="9.28" fill="#c9c9d0"/>
<rect x="175.83" y="84.59" width="3.55" height="9.28" fill="#c9c9d0"/>
<rect x="180.12" y="84.59" width="3.55" height="9.28" fill="#c9c9d0"/>
<rect x="184.41" y="84.59" width="3.55" height="9.28" fill="#c9c9d0"/>
<rect x="194.20" y="84.59" width="3.55" height="9.28" fill="#c9c9d0"/>
<rect x="198.49" y="84.59" width="3.55" height="9.28" fill="#c9c9d0"/>
<rect x="202.78" y="84.59" width="3.55" height="9.28" fill="#c9c9d0"/>
<rect x="207.07" y="84.59" width="3.55" height="9.28" fill="#c9c9d0"/>
<rect x="211.36" y="84.59" width="3.55" height="9.28" fill="#c9c9d0"/>
<rect x="215.65" y="84.59" width="3.55" height="9.28" fill="#c9c9d0"/>
<rect x="219.94" y="84.59" width="3.55" height="9.28" fill="#c9c9d0"/>
<rect x="224.23" y="84.59" width="3.55" height="9.28" fill="#c9c9d0"/>
<rect x="228.52" y="84.59" width="3.55" height="9.28" fill="#c9c9d0"/>
<rect x="232.81" y="84.59" width="3.55" height="9.28" fill="#c9c9d0"/>
<rect x="237.10" y="84.59" width="3.55" height="9.28" fill="#c9c9d0"/>
<rect x="241.39" y="84.59" width="3.55" height="9.28" fill="#c9c9d0"/>
<rect x="245.68" y="84.59" width="3.55" height="9.28" fill="#c9c9d0"/>
<rect x="249.97" y="84.59" width="3.55" height="9.28" fill="#c9c9d0"/>
<rect x="254.26" y="84.59" width="3.55" height="9.28" fill="#c9c9d0"/>
<rect x="258.55" y="84.59" width="3.55" height="9.28" fill="#c9c9d0"/>
<rect x="262.84" y="84.59" width="3.55" height="9.28" fill="#c9c9d0"/>
<rect x="267.13" y="84.59" width="3.55" height="9.28" fill="#c9c9d0"/>
<rect x="271.42" y="84.59" width="3.55" height="9.28" fill="#c9c9d0"/>
<rect x="275.71" y="84.59" width="3.55" height="9.28" fill="#c9c9d0"/>
<rect x="280.00" y="84.59" width="3.55" height="9.28" fill="#c9c9d0"/>
<rect x="284.29" y="84.59" width="3.55" height="9.28" fill="#c9c9d0"/>
<rect x="288.58" y="84.59" width="3.55" height="9.28" fill="#c9c9d0"/>
<rect x="292.87" y="84.59" width="3.55" height="9.28" fill="#c9c9d0"/>
<rect x="297.16" y="84.59" width="3.55" height="9.28" fill="#c9c9d0"/>
<rect x="301.45" y="84.59" width="3.55" height="9.28" fill="#c9c9d0"/>
<rect x="305.74" y="84.59" width="3.55" height="9.28" fill="#c9c9d0"/>
<rect x="310.03" y="84.59" width="3.55" height="9.28" fill="#c9c9d0"/>
<rect x="314.32" y="84.59" width="3.55" height="9.28" fill="#c9c9d0"/>
<rect x="318.61" y="84.59" width="3.55" height="9.28" fill="#c9c9d0"/>
<rect x="322.90" y="84.59" width="3.55" height="9.28" fill="#c9c9d0"/>
<rect x="92.49" y="84.59" width="3.55" height="9.28" fill="#e8961c"/>
<rect x="128.19" y="84.59" width="3.55" height="9.28" fill="#e8961c"/>
<rect x="180.12" y="84.59" width="3.55" height="9.28" fill="#e8961c"/>
<rect x="232.81" y="84.59" width="3.55" height="9.28" fill="#e8961c"/>
<rect x="237.10" y="84.59" width="3.55" height="9.28" fill="#e8961c"/>
<text x="84.40" y="92.49" font-size="7.5" text-anchor="end" fill="#1a1a1a" class="lb">9:p21.3(−)</text>
<rect x="338.40" y="84.14" width="1.80" height="9.08" fill="#e4921f"/>
<rect x="340.20" y="84.14" width="4.20" height="9.08" fill="#a8102a"/>
<rect x="344.40" y="84.14" width="3.00" height="9.08" fill="#f0c026"/>
<rect x="347.40" y="84.14" width="5.70" height="9.08" fill="#8f87c5"/>
<rect x="88.20" y="94.42" width="29.29" height="10.03" fill="#e2e2e8"/>
<rect x="123.90" y="94.42" width="16.42" height="10.03" fill="#e2e2e8"/>
<rect x="145.80" y="94.42" width="42.16" height="10.03" fill="#e2e2e8"/>
<rect x="194.20" y="94.42" width="132.25" height="10.03" fill="#e2e2e8"/>
<rect x="249.13" y="94.42" width="0.94" height="10.03" fill="#f6f6f8"/>
<rect x="88.20" y="94.52" width="3.55" height="9.28" fill="#c9c9d0"/>
<rect x="92.49" y="94.52" width="3.55" height="9.28" fill="#c9c9d0"/>
<rect x="96.78" y="94.52" width="3.55" height="9.28" fill="#c9c9d0"/>
<rect x="101.07" y="94.52" width="3.55" height="9.28" fill="#c9c9d0"/>
<rect x="105.36" y="94.52" width="3.55" height="9.28" fill="#c9c9d0"/>
<rect x="109.65" y="94.52" width="3.55" height="9.28" fill="#c9c9d0"/>
<rect x="113.94" y="94.52" width="3.55" height="9.28" fill="#c9c9d0"/>
<rect x="123.90" y="94.52" width="3.55" height="9.28" fill="#c9c9d0"/>
<rect x="128.19" y="94.52" width="3.55" height="9.28" fill="#c9c9d0"/>
<rect x="132.48" y="94.52" width="3.55" height="9.28" fill="#c9c9d0"/>
<rect x="136.77" y="94.52" width="3.55" height="9.28" fill="#c9c9d0"/>
<rect x="145.80" y="94.52" width="3.55" height="9.28" fill="#c9c9d0"/>
<rect x="150.09" y="94.52" width="3.55" height="9.28" fill="#c9c9d0"/>
<rect x="154.38" y="94.52" width="3.55" height="9.28" fill="#c9c9d0"/>
<rect x="158.67" y="94.52" width="3.55" height="9.28" fill="#c9c9d0"/>
<rect x="162.96" y="94.52" width="3.55" height="9.28" fill="#c9c9d0"/>
<rect x="167.25" y="94.52" width="3.55" height="9.28" fill="#c9c9d0"/>
<rect x="171.54" y="94.52" width="3.55" height="9.28" fill="#c9c9d0"/>
<rect x="175.83" y="94.52" width="3.55" height="9.28" fill="#c9c9d0"/>
<rect x="180.12" y="94.52" width="3.55" height="9.28" fill="#c9c9d0"/>
<rect x="184.41" y="94.52" width="3.55" height="9.28" fill="#c9c9d0"/>
<rect x="194.20" y="94.52" width="3.55" height="9.28" fill="#c9c9d0"/>
<rect x="198.49" y="94.52" width="3.55" height="9.28" fill="#c9c9d0"/>
<rect x="202.78" y="94.52" width="3.55" height="9.28" fill="#c9c9d0"/>
<rect x="207.07" y="94.52" width="3.55" height="9.28" fill="#c9c9d0"/>
<rect x="211.36" y="94.52" width="3.55" height="9.28" fill="#c9c9d0"/>
<rect x="215.65" y="94.52" width="3.55" height="9.28" fill="#c9c9d0"/>
<rect x="219.94" y="94.52" width="3.55" height="9.28" fill="#c9c9d0"/>
<rect x="224.23" y="94.52" width="3.55" height="9.28" fill="#c9c9d0"/>
<rect x="228.52" y="94.52" width="3.55" height="9.28" fill="#c9c9d0"/>
<rect x="232.81" y="94.52" width="3.55" height="9.28" fill="#c9c9d0"/>
<rect x="237.10" y="94.52" width="3.55" height="9.28" fill="#c9c9d0"/>
<rect x="241.39" y="94.52" width="3.55" height="9.28" fill="#c9c9d0"/>
<rect x="245.68" y="94.52" width="3.55" height="9.28" fill="#c9c9d0"/>
<rect x="249.97" y="94.52" width="3.55" height="9.28" fill="#c9c9d0"/>
<rect x="254.26" y="94.52" width="3.55" height="9.28" fill="#c9c9d0"/>
<rect x="258.55" y="94.52" width="3.55" height="9.28" fill="#c9c9d0"/>
<rect x="262.84" y="94.52" width="3.55" height="9.28" fill="#c9c9d0"/>
<rect x="267.13" y="94.52" width="3.55" height="9.28" fill="#c9c9d0"/>
<rect x="271.42" y="94.52" width="3.55" height="9.28" fill="#c9c9d0"/>
<rect x="275.71" y="94.52" width="3.55" height="9.28" fill="#c9c9d0"/>
<rect x="280.00" y="94.52" width="3.55" height="9.28" fill="#c9c9d0"/>
<rect x="284.29" y="94.52" width="3.55" height="9.28" fill="#c9c9d0"/>
<rect x="288.58" y="94.52" width="3.55" height="9.28" fill="#c9c9d0"/>
<rect x="292.87" y="94.52" width="3.55" height="9.28" fill="#c9c9d0"/>
<rect x="297.16" y="94.52" width="3.55" height="9.28" fill="#c9c9d0"/>
<rect x="301.45" y="94.52" width="3.55" height="9.28" fill="#c9c9d0"/>
<rect x="305.74" y="94.52" width="3.55" height="9.28" fill="#c9c9d0"/>
<rect x="310.03" y="94.52" width="3.55" height="9.28" fill="#c9c9d0"/>
<rect x="314.32" y="94.52" width="3.55" height="9.28" fill="#c9c9d0"/>
<rect x="318.61" y="94.52" width="3.55" height="9.28" fill="#c9c9d0"/>
<rect x="322.90" y="94.52" width="3.55" height="9.28" fill="#c9c9d0"/>
<rect x="88.20" y="94.52" width="3.55" height="9.28" fill="#e8961c"/>
<rect x="101.07" y="94.52" width="3.55" height="9.28" fill="#e8961c"/>
<rect x="105.36" y="94.52" width="3.55" height="9.28" fill="#e8961c"/>
<rect x="109.65" y="94.52" width="3.55" height="9.28" fill="#e8961c"/>
<rect x="113.94" y="94.52" width="3.55" height="9.28" fill="#e8961c"/>
<rect x="158.67" y="94.52" width="3.55" height="9.28" fill="#e8961c"/>
<rect x="171.54" y="94.52" width="3.55" height="9.28" fill="#e8961c"/>
<rect x="198.49" y="94.52" width="3.55" height="9.28" fill="#e8961c"/>
<rect x="202.78" y="94.52" width="3.55" height="9.28" fill="#e8961c"/>
<rect x="219.94" y="94.52" width="3.55" height="9.28" fill="#e8961c"/>
<rect x="245.68" y="94.52" width="3.55" height="9.28" fill="#e8961c"/>
<rect x="284.29" y="94.52" width="3.55" height="9.28" fill="#e8961c"/>
<rect x="318.61" y="94.52" width="3.55" height="9.28" fill="#e8961c"/>
<text x="84.40" y="102.42" font-size="7.5" text-anchor="end" fill="#1a1a1a" class="lb">MIR17G(+)</text>
<rect x="338.40" y="94.07" width="15.00" height="9.08" fill="#e4921f"/>
<rect x="353.40" y="94.07" width="6.00" height="9.08" fill="#f0c026"/>
<rect x="359.40" y="94.07" width="18.00" height="9.08" fill="#8f87c5"/>
<rect x="88.20" y="104.35" width="29.29" height="10.03" fill="#e2e2e8"/>
<rect x="123.90" y="104.35" width="16.42" height="10.03" fill="#e2e2e8"/>
<rect x="145.80" y="104.35" width="42.16" height="10.03" fill="#e2e2e8"/>
<rect x="194.20" y="104.35" width="132.25" height="10.03" fill="#e2e2e8"/>
<rect x="249.13" y="104.35" width="0.94" height="10.03" fill="#f6f6f8"/>
<rect x="88.20" y="104.45" width="3.55" height="9.28" fill="#c9c9d0"/>
<rect x="92.49" y="104.45" width="3.55" height="9.28" fill="#c9c9d0"/>
<rect x="96.78" y="104.45" width="3.55" height="9.28" fill="#c9c9d0"/>
<rect x="101.07" y="104.45" width="3.55" height="9.28" fill="#c9c9d0"/>
<rect x="105.36" y="104.45" width="3.55" height="9.28" fill="#c9c9d0"/>
<rect x="109.65" y="104.45" width="3.55" height="9.28" fill="#c9c9d0"/>
<rect x="113.94" y="104.45" width="3.55" height="9.28" fill="#c9c9d0"/>
<rect x="123.90" y="104.45" width="3.55" height="9.28" fill="#c9c9d0"/>
<rect x="128.19" y="104.45" width="3.55" height="9.28" fill="#c9c9d0"/>
<rect x="132.48" y="104.45" width="3.55" height="9.28" fill="#c9c9d0"/>
<rect x="136.77" y="104.45" width="3.55" height="9.28" fill="#c9c9d0"/>
<rect x="145.80" y="104.45" width="3.55" height="9.28" fill="#c9c9d0"/>
<rect x="150.09" y="104.45" width="3.55" height="9.28" fill="#c9c9d0"/>
<rect x="154.38" y="104.45" width="3.55" height="9.28" fill="#c9c9d0"/>
<rect x="158.67" y="104.45" width="3.55" height="9.28" fill="#c9c9d0"/>
<rect x="162.96" y="104.45" width="3.55" height="9.28" fill="#c9c9d0"/>
<rect x="167.25" y="104.45" width="3.55" height="9.28" fill="#c9c9d0"/>
<rect x="171.54" y="104.45" width="3.55" height="9.28" fill="#c9c9d0"/>
<rect x="175.83" y="104.45" width="3.55" height="9.28" fill="#c9c9d0"/>
<rect x="180.12" y="104.45" width="3.55" height="9.28" fill="#c9c9d0"/>
<rect x="184.41" y="104.45" width="3.55" height="9.28" fill="#c9c9d0"/>
<rect x="194.20" y="104.45" width="3.55" height="9.28" fill="#c9c9d0"/>
<rect x="198.49" y="104.45" width="3.55" height="9.28" fill="#c9c9d0"/>
<rect x="202.78" y="104.45" width="3.55" height="9.28" fill="#c9c9d0"/>
<rect x="207.07" y="104.45" width="3.55" height="9.28" fill="#c9c9d0"/>
<rect x="211.36" y="104.45" width="3.55" height="9.28" fill="#c9c9d0"/>
<rect x="215.65" y="104.45" width="3.55" height="9.28" fill="#c9c9d0"/>
<rect x="219.94" y="104.45" width="3.55" height="9.28" fill="#c9c9d0"/>
<rect x="224.23" y="104.45" width="3.55" height="9.28" fill="#c9c9d0"/>
<rect x="228.52" y="104.45" width="3.55" height="9.28" fill="#c9c9d0"/>
<rect x="232.81" y="104.45" width="3.55" height="9.28" fill="#c9c9d0"/>
<rect x="237.10" y="104.45" width="3.55" height="9.28" fill="#c9c9d0"/>
<rect x="241.39" y="104.45" width="3.55" height="9.28" fill="#c9c9d0"/>
<rect x="245.68" y="104.45" width="3.55" height="9.28" fill="#c9c9d0"/>
<rect x="249.97" y="104.45" width="3.55" height="9.28" fill="#c9c9d0"/>
<rect x="254.26" y="104.45" width="3.55" height="9.28" fill="#c9c9d0"/>
<rect x="258.55" y="104.45" width="3.55" height="9.28" fill="#c9c9d0"/>
<rect x="262.84" y="104.45" width="3.55" height="9.28" fill="#c9c9d0"/>
<rect x="267.13" y="104.45" width="3.55" height="9.28" fill="#c9c9d0"/>
<rect x="271.42" y="104.45" width="3.55" height="9.28" fill="#c9c9d0"/>
<rect x="275.71" y="104.45" width="3.55" height="9.28" fill="#c9c9d0"/>
<rect x="280.00" y="104.45" width="3.55" height="9.28" fill="#c9c9d0"/>
<rect x="284.29" y="104.45" width="3.55" height="9.28" fill="#c9c9d0"/>
<rect x="288.58" y="104.45" width="3.55" height="9.28" fill="#c9c9d0"/>
<rect x="292.87" y="104.45" width="3.55" height="9.28" fill="#c9c9d0"/>
<rect x="297.16" y="104.45" width="3.55" height="9.28" fill="#c9c9d0"/>
<rect x="301.45" y="104.45" width="3.55" height="9.28" fill="#c9c9d0"/>
<rect x="305.74" y="104.45" width="3.55" height="9.28" fill="#c9c9d0"/>
<rect x="310.03" y="104.45" width="3.55" height="9.28" fill="#c9c9d0"/>
<rect x="314.32" y="104.45" width="3.55" height="9.28" fill="#c9c9d0"/>
<rect x="318.61" y="104.45" width="3.55" height="9.28" fill="#c9c9d0"/>
<rect x="322.90" y="104.45" width="3.55" height="9.28" fill="#c9c9d0"/>
<rect x="101.07" y="104.45" width="3.55" height="9.28" fill="#e8961c"/>
<rect x="109.65" y="104.45" width="3.55" height="9.28" fill="#e8961c"/>
<rect x="113.94" y="104.45" width="3.55" height="9.28" fill="#e8961c"/>
<rect x="158.67" y="104.45" width="3.55" height="9.28" fill="#e8961c"/>
<rect x="245.68" y="104.45" width="3.55" height="9.28" fill="#e8961c"/>
<rect x="310.03" y="104.45" width="3.55" height="9.28" fill="#e8961c"/>
<rect x="314.32" y="104.45" width="3.55" height="9.28" fill="#e8961c"/>
<rect x="318.61" y="104.45" width="3.55" height="9.28" fill="#e8961c"/>
<text x="84.40" y="112.35" font-size="7.5" text-anchor="end" fill="#1a1a1a" class="lb">13:q14.2−q21.1(−)</text>
<rect x="338.40" y="104.00" width="9.00" height="9.08" fill="#e4921f"/>
<rect x="347.40" y="104.00" width="3.00" height="9.08" fill="#f0c026"/>
<rect x="350.40" y="104.00" width="12.00" height="9.08" fill="#8f87c5"/>
<rect x="88.20" y="114.28" width="29.29" height="10.03" fill="#e2e2e8"/>
<rect x="123.90" y="114.28" width="16.42" height="10.03" fill="#e2e2e8"/>
<rect x="145.80" y="114.28" width="42.16" height="10.03" fill="#e2e2e8"/>
<rect x="194.20" y="114.28" width="132.25" height="10.03" fill="#e2e2e8"/>
<rect x="249.13" y="114.28" width="0.94" height="10.03" fill="#f6f6f8"/>
<rect x="88.20" y="114.38" width="3.55" height="9.28" fill="#c9c9d0"/>
<rect x="92.49" y="114.38" width="3.55" height="9.28" fill="#c9c9d0"/>
<rect x="96.78" y="114.38" width="3.55" height="9.28" fill="#c9c9d0"/>
<rect x="101.07" y="114.38" width="3.55" height="9.28" fill="#c9c9d0"/>
<rect x="105.36" y="114.38" width="3.55" height="9.28" fill="#c9c9d0"/>
<rect x="109.65" y="114.38" width="3.55" height="9.28" fill="#c9c9d0"/>
<rect x="113.94" y="114.38" width="3.55" height="9.28" fill="#c9c9d0"/>
<rect x="123.90" y="114.38" width="3.55" height="9.28" fill="#c9c9d0"/>
<rect x="128.19" y="114.38" width="3.55" height="9.28" fill="#c9c9d0"/>
<rect x="132.48" y="114.38" width="3.55" height="9.28" fill="#c9c9d0"/>
<rect x="136.77" y="114.38" width="3.55" height="9.28" fill="#c9c9d0"/>
<rect x="145.80" y="114.38" width="3.55" height="9.28" fill="#c9c9d0"/>
<rect x="150.09" y="114.38" width="3.55" height="9.28" fill="#c9c9d0"/>
<rect x="154.38" y="114.38" width="3.55" height="9.28" fill="#c9c9d0"/>
<rect x="158.67" y="114.38" width="3.55" height="9.28" fill="#c9c9d0"/>
<rect x="162.96" y="114.38" width="3.55" height="9.28" fill="#c9c9d0"/>
<rect x="167.25" y="114.38" width="3.55" height="9.28" fill="#c9c9d0"/>
<rect x="171.54" y="114.38" width="3.55" height="9.28" fill="#c9c9d0"/>
<rect x="175.83" y="114.38" width="3.55" height="9.28" fill="#c9c9d0"/>
<rect x="180.12" y="114.38" width="3.55" height="9.28" fill="#c9c9d0"/>
<rect x="184.41" y="114.38" width="3.55" height="9.28" fill="#c9c9d0"/>
<rect x="194.20" y="114.38" width="3.55" height="9.28" fill="#c9c9d0"/>
<rect x="198.49" y="114.38" width="3.55" height="9.28" fill="#c9c9d0"/>
<rect x="202.78" y="114.38" width="3.55" height="9.28" fill="#c9c9d0"/>
<rect x="207.07" y="114.38" width="3.55" height="9.28" fill="#c9c9d0"/>
<rect x="211.36" y="114.38" width="3.55" height="9.28" fill="#c9c9d0"/>
<rect x="215.65" y="114.38" width="3.55" height="9.28" fill="#c9c9d0"/>
<rect x="219.94" y="114.38" width="3.55" height="9.28" fill="#c9c9d0"/>
<rect x="224.23" y="114.38" width="3.55" height="9.28" fill="#c9c9d0"/>
<rect x="228.52" y="114.38" width="3.55" height="9.28" fill="#c9c9d0"/>
<rect x="232.81" y="114.38" width="3.55" height="9.28" fill="#c9c9d0"/>
<rect x="237.10" y="114.38" width="3.55" height="9.28" fill="#c9c9d0"/>
<rect x="241.39" y="114.38" width="3.55" height="9.28" fill="#c9c9d0"/>
<rect x="245.68" y="114.38" width="3.55" height="9.28" fill="#c9c9d0"/>
<rect x="249.97" y="114.38" width="3.55" height="9.28" fill="#c9c9d0"/>
<rect x="254.26" y="114.38" width="3.55" height="9.28" fill="#c9c9d0"/>
<rect x="258.55" y="114.38" width="3.55" height="9.28" fill="#c9c9d0"/>
<rect x="262.84" y="114.38" width="3.55" height="9.28" fill="#c9c9d0"/>
<rect x="267.13" y="114.38" width="3.55" height="9.28" fill="#c9c9d0"/>
<rect x="271.42" y="114.38" width="3.55" height="9.28" fill="#c9c9d0"/>
<rect x="275.71" y="114.38" width="3.55" height="9.28" fill="#c9c9d0"/>
<rect x="280.00" y="114.38" width="3.55" height="9.28" fill="#c9c9d0"/>
<rect x="284.29" y="114.38" width="3.55" height="9.28" fill="#c9c9d0"/>
<rect x="288.58" y="114.38" width="3.55" height="9.28" fill="#c9c9d0"/>
<rect x="292.87" y="114.38" width="3.55" height="9.28" fill="#c9c9d0"/>
<rect x="297.16" y="114.38" width="3.55" height="9.28" fill="#c9c9d0"/>
<rect x="301.45" y="114.38" width="3.55" height="9.28" fill="#c9c9d0"/>
<rect x="305.74" y="114.38" width="3.55" height="9.28" fill="#c9c9d0"/>
<rect x="310.03" y="114.38" width="3.55" height="9.28" fill="#c9c9d0"/>
<rect x="314.32" y="114.38" width="3.55" height="9.28" fill="#c9c9d0"/>
<rect x="318.61" y="114.38" width="3.55" height="9.28" fill="#c9c9d0"/>
<rect x="322.90" y="114.38" width="3.55" height="9.28" fill="#c9c9d0"/>
<rect x="113.94" y="114.38" width="3.55" height="9.28" fill="#e8961c"/>
<rect x="158.67" y="114.38" width="3.55" height="9.28" fill="#4a2674"/>
<rect x="180.12" y="114.38" width="3.55" height="9.28" fill="#e8961c"/>
<rect x="184.41" y="114.38" width="3.55" height="9.28" fill="#e8961c"/>
<rect x="245.68" y="114.38" width="3.55" height="9.28" fill="#e8961c"/>
<rect x="288.58" y="114.38" width="3.55" height="9.28" fill="#e8961c"/>
<text x="84.40" y="122.28" font-size="7.5" text-anchor="end" fill="#1a1a1a" class="lb">11:q24.2−q24.3(−)</text>
<rect x="338.40" y="113.93" width="1.20" height="9.08" fill="#e4921f"/>
<rect x="339.60" y="113.93" width="10.80" height="9.08" fill="#f0c026"/>
<rect x="350.40" y="113.93" width="6.00" height="9.08" fill="#8f87c5"/>
<rect x="88.20" y="124.21" width="29.29" height="10.03" fill="#e2e2e8"/>
<rect x="123.90" y="124.21" width="16.42" height="10.03" fill="#e2e2e8"/>
<rect x="145.80" y="124.21" width="42.16" height="10.03" fill="#e2e2e8"/>
<rect x="194.20" y="124.21" width="132.25" height="10.03" fill="#e2e2e8"/>
<rect x="249.13" y="124.21" width="0.94" height="10.03" fill="#f6f6f8"/>
<rect x="88.20" y="124.31" width="3.55" height="9.28" fill="#c9c9d0"/>
<rect x="92.49" y="124.31" width="3.55" height="9.28" fill="#c9c9d0"/>
<rect x="96.78" y="124.31" width="3.55" height="9.28" fill="#c9c9d0"/>
<rect x="101.07" y="124.31" width="3.55" height="9.28" fill="#c9c9d0"/>
<rect x="105.36" y="124.31" width="3.55" height="9.28" fill="#c9c9d0"/>
<rect x="109.65" y="124.31" width="3.55" height="9.28" fill="#c9c9d0"/>
<rect x="113.94" y="124.31" width="3.55" height="9.28" fill="#c9c9d0"/>
<rect x="123.90" y="124.31" width="3.55" height="9.28" fill="#c9c9d0"/>
<rect x="128.19" y="124.31" width="3.55" height="9.28" fill="#c9c9d0"/>
<rect x="132.48" y="124.31" width="3.55" height="9.28" fill="#c9c9d0"/>
<rect x="136.77" y="124.31" width="3.55" height="9.28" fill="#c9c9d0"/>
<rect x="145.80" y="124.31" width="3.55" height="9.28" fill="#c9c9d0"/>
<rect x="150.09" y="124.31" width="3.55" height="9.28" fill="#c9c9d0"/>
<rect x="154.38" y="124.31" width="3.55" height="9.28" fill="#c9c9d0"/>
<rect x="158.67" y="124.31" width="3.55" height="9.28" fill="#c9c9d0"/>
<rect x="162.96" y="124.31" width="3.55" height="9.28" fill="#c9c9d0"/>
<rect x="167.25" y="124.31" width="3.55" height="9.28" fill="#c9c9d0"/>
<rect x="171.54" y="124.31" width="3.55" height="9.28" fill="#c9c9d0"/>
<rect x="175.83" y="124.31" width="3.55" height="9.28" fill="#c9c9d0"/>
<rect x="180.12" y="124.31" width="3.55" height="9.28" fill="#c9c9d0"/>
<rect x="184.41" y="124.31" width="3.55" height="9.28" fill="#c9c9d0"/>
<rect x="194.20" y="124.31" width="3.55" height="9.28" fill="#c9c9d0"/>
<rect x="198.49" y="124.31" width="3.55" height="9.28" fill="#c9c9d0"/>
<rect x="202.78" y="124.31" width="3.55" height="9.28" fill="#c9c9d0"/>
<rect x="207.07" y="124.31" width="3.55" height="9.28" fill="#c9c9d0"/>
<rect x="211.36" y="124.31" width="3.55" height="9.28" fill="#c9c9d0"/>
<rect x="215.65" y="124.31" width="3.55" height="9.28" fill="#c9c9d0"/>
<rect x="219.94" y="124.31" width="3.55" height="9.28" fill="#c9c9d0"/>
<rect x="224.23" y="124.31" width="3.55" height="9.28" fill="#c9c9d0"/>
<rect x="228.52" y="124.31" width="3.55" height="9.28" fill="#c9c9d0"/>
<rect x="232.81" y="124.31" width="3.55" height="9.28" fill="#c9c9d0"/>
<rect x="237.10" y="124.31" width="3.55" height="9.28" fill="#c9c9d0"/>
<rect x="241.39" y="124.31" width="3.55" height="9.28" fill="#c9c9d0"/>
<rect x="245.68" y="124.31" width="3.55" height="9.28" fill="#c9c9d0"/>
<rect x="249.97" y="124.31" width="3.55" height="9.28" fill="#c9c9d0"/>
<rect x="254.26" y="124.31" width="3.55" height="9.28" fill="#c9c9d0"/>
<rect x="258.55" y="124.31" width="3.55" height="9.28" fill="#c9c9d0"/>
<rect x="262.84" y="124.31" width="3.55" height="9.28" fill="#c9c9d0"/>
<rect x="267.13" y="124.31" width="3.55" height="9.28" fill="#c9c9d0"/>
<rect x="271.42" y="124.31" width="3.55" height="9.28" fill="#c9c9d0"/>
<rect x="275.71" y="124.31" width="3.55" height="9.28" fill="#c9c9d0"/>
<rect x="280.00" y="124.31" width="3.55" height="9.28" fill="#c9c9d0"/>
<rect x="284.29" y="124.31" width="3.55" height="9.28" fill="#c9c9d0"/>
<rect x="288.58" y="124.31" width="3.55" height="9.28" fill="#c9c9d0"/>
<rect x="292.87" y="124.31" width="3.55" height="9.28" fill="#c9c9d0"/>
<rect x="297.16" y="124.31" width="3.55" height="9.28" fill="#c9c9d0"/>
<rect x="301.45" y="124.31" width="3.55" height="9.28" fill="#c9c9d0"/>
<rect x="305.74" y="124.31" width="3.55" height="9.28" fill="#c9c9d0"/>
<rect x="310.03" y="124.31" width="3.55" height="9.28" fill="#c9c9d0"/>
<rect x="314.32" y="124.31" width="3.55" height="9.28" fill="#c9c9d0"/>
<rect x="318.61" y="124.31" width="3.55" height="9.28" fill="#c9c9d0"/>
<rect x="322.90" y="124.31" width="3.55" height="9.28" fill="#c9c9d0"/>
<rect x="88.20" y="124.31" width="3.55" height="9.28" fill="#e8961c"/>
<rect x="101.07" y="124.31" width="3.55" height="9.28" fill="#e8961c"/>
<rect x="105.36" y="124.31" width="3.55" height="9.28" fill="#e8961c"/>
<rect x="109.65" y="124.31" width="3.55" height="9.28" fill="#e8961c"/>
<rect x="198.49" y="124.31" width="3.55" height="9.28" fill="#e8961c"/>
<rect x="207.07" y="124.31" width="3.55" height="9.28" fill="#e8961c"/>
<rect x="284.29" y="124.31" width="3.55" height="9.28" fill="#e8961c"/>
<text x="84.40" y="132.21" font-size="7.5" text-anchor="end" fill="#1a1a1a" class="lb">17p(−)</text>
<rect x="338.40" y="123.86" width="12.00" height="9.08" fill="#e4921f"/>
<rect x="350.40" y="123.86" width="9.00" height="9.08" fill="#8f87c5"/>
<rect x="88.20" y="134.14" width="29.29" height="10.03" fill="#e2e2e8"/>
<rect x="123.90" y="134.14" width="16.42" height="10.03" fill="#e2e2e8"/>
<rect x="145.80" y="134.14" width="42.16" height="10.03" fill="#e2e2e8"/>
<rect x="194.20" y="134.14" width="132.25" height="10.03" fill="#e2e2e8"/>
<rect x="249.13" y="134.14" width="0.94" height="10.03" fill="#f6f6f8"/>
<rect x="88.20" y="134.24" width="3.55" height="9.28" fill="#c9c9d0"/>
<rect x="92.49" y="134.24" width="3.55" height="9.28" fill="#c9c9d0"/>
<rect x="96.78" y="134.24" width="3.55" height="9.28" fill="#c9c9d0"/>
<rect x="101.07" y="134.24" width="3.55" height="9.28" fill="#c9c9d0"/>
<rect x="105.36" y="134.24" width="3.55" height="9.28" fill="#c9c9d0"/>
<rect x="109.65" y="134.24" width="3.55" height="9.28" fill="#c9c9d0"/>
<rect x="113.94" y="134.24" width="3.55" height="9.28" fill="#c9c9d0"/>
<rect x="123.90" y="134.24" width="3.55" height="9.28" fill="#c9c9d0"/>
<rect x="128.19" y="134.24" width="3.55" height="9.28" fill="#c9c9d0"/>
<rect x="132.48" y="134.24" width="3.55" height="9.28" fill="#c9c9d0"/>
<rect x="136.77" y="134.24" width="3.55" height="9.28" fill="#c9c9d0"/>
<rect x="145.80" y="134.24" width="3.55" height="9.28" fill="#c9c9d0"/>
<rect x="150.09" y="134.24" width="3.55" height="9.28" fill="#c9c9d0"/>
<rect x="154.38" y="134.24" width="3.55" height="9.28" fill="#c9c9d0"/>
<rect x="158.67" y="134.24" width="3.55" height="9.28" fill="#c9c9d0"/>
<rect x="162.96" y="134.24" width="3.55" height="9.28" fill="#c9c9d0"/>
<rect x="167.25" y="134.24" width="3.55" height="9.28" fill="#c9c9d0"/>
<rect x="171.54" y="134.24" width="3.55" height="9.28" fill="#c9c9d0"/>
<rect x="175.83" y="134.24" width="3.55" height="9.28" fill="#c9c9d0"/>
<rect x="180.12" y="134.24" width="3.55" height="9.28" fill="#c9c9d0"/>
<rect x="184.41" y="134.24" width="3.55" height="9.28" fill="#c9c9d0"/>
<rect x="194.20" y="134.24" width="3.55" height="9.28" fill="#c9c9d0"/>
<rect x="198.49" y="134.24" width="3.55" height="9.28" fill="#c9c9d0"/>
<rect x="202.78" y="134.24" width="3.55" height="9.28" fill="#c9c9d0"/>
<rect x="207.07" y="134.24" width="3.55" height="9.28" fill="#c9c9d0"/>
<rect x="211.36" y="134.24" width="3.55" height="9.28" fill="#c9c9d0"/>
<rect x="215.65" y="134.24" width="3.55" height="9.28" fill="#c9c9d0"/>
<rect x="219.94" y="134.24" width="3.55" height="9.28" fill="#c9c9d0"/>
<rect x="224.23" y="134.24" width="3.55" height="9.28" fill="#c9c9d0"/>
<rect x="228.52" y="134.24" width="3.55" height="9.28" fill="#c9c9d0"/>
<rect x="232.81" y="134.24" width="3.55" height="9.28" fill="#c9c9d0"/>
<rect x="237.10" y="134.24" width="3.55" height="9.28" fill="#c9c9d0"/>
<rect x="241.39" y="134.24" width="3.55" height="9.28" fill="#c9c9d0"/>
<rect x="245.68" y="134.24" width="3.55" height="9.28" fill="#c9c9d0"/>
<rect x="249.97" y="134.24" width="3.55" height="9.28" fill="#c9c9d0"/>
<rect x="254.26" y="134.24" width="3.55" height="9.28" fill="#c9c9d0"/>
<rect x="258.55" y="134.24" width="3.55" height="9.28" fill="#c9c9d0"/>
<rect x="262.84" y="134.24" width="3.55" height="9.28" fill="#c9c9d0"/>
<rect x="267.13" y="134.24" width="3.55" height="9.28" fill="#c9c9d0"/>
<rect x="271.42" y="134.24" width="3.55" height="9.28" fill="#c9c9d0"/>
<rect x="275.71" y="134.24" width="3.55" height="9.28" fill="#c9c9d0"/>
<rect x="280.00" y="134.24" width="3.55" height="9.28" fill="#c9c9d0"/>
<rect x="284.29" y="134.24" width="3.55" height="9.28" fill="#c9c9d0"/>
<rect x="288.58" y="134.24" width="3.55" height="9.28" fill="#c9c9d0"/>
<rect x="292.87" y="134.24" width="3.55" height="9.28" fill="#c9c9d0"/>
<rect x="297.16" y="134.24" width="3.55" height="9.28" fill="#c9c9d0"/>
<rect x="301.45" y="134.24" width="3.55" height="9.28" fill="#c9c9d0"/>
<rect x="305.74" y="134.24" width="3.55" height="9.28" fill="#c9c9d0"/>
<rect x="310.03" y="134.24" width="3.55" height="9.28" fill="#c9c9d0"/>
<rect x="314.32" y="134.24" width="3.55" height="9.28" fill="#c9c9d0"/>
<rect x="318.61" y="134.24" width="3.55" height="9.28" fill="#c9c9d0"/>
<rect x="322.90" y="134.24" width="3.55" height="9.28" fill="#c9c9d0"/>
<rect x="92.49" y="134.24" width="3.55" height="9.28" fill="#e8961c"/>
<rect x="109.65" y="134.24" width="3.55" height="9.28" fill="#e8961c"/>
<rect x="113.94" y="134.24" width="3.55" height="9.28" fill="#e8961c"/>
<rect x="202.78" y="134.24" width="3.55" height="9.28" fill="#e8961c"/>
<rect x="237.10" y="134.24" width="3.55" height="9.28" fill="#e8961c"/>
<rect x="241.39" y="134.24" width="3.55" height="9.28" fill="#e8961c"/>
<rect x="245.68" y="134.24" width="3.55" height="9.28" fill="#4a2674"/>
<rect x="249.97" y="134.24" width="3.55" height="9.28" fill="#e8961c"/>
<rect x="262.84" y="134.24" width="3.55" height="9.28" fill="#e8961c"/>
<rect x="275.71" y="134.24" width="3.55" height="9.28" fill="#e8961c"/>
<rect x="301.45" y="134.24" width="3.55" height="9.28" fill="#e8961c"/>
<rect x="310.03" y="134.24" width="3.55" height="9.28" fill="#e8961c"/>
<rect x="318.61" y="134.24" width="3.55" height="9.28" fill="#e8961c"/>
<text x="84.40" y="142.14" font-size="7.5" text-anchor="end" fill="#1a1a1a" class="lb">22:q11.22(−)</text>
<rect x="338.40" y="133.79" width="9.00" height="9.08" fill="#e4921f"/>
<rect x="347.40" y="133.79" width="30.00" height="9.08" fill="#8f87c5"/>
<path d="M337.9 142.6 V52.3 H432.6 V143.5" fill="none" stroke="#111" stroke-width="1.5"/>
<text x="436.60" y="103.00" font-size="11" text-anchor="start" font-weight="bold" fill="#111">CNAs</text>
<rect x="88.20" y="157.00" width="29.29" height="9.94" fill="#e2e2e8"/>
<rect x="123.90" y="157.00" width="16.42" height="9.94" fill="#e2e2e8"/>
<rect x="145.80" y="157.00" width="42.16" height="9.94" fill="#e2e2e8"/>
<rect x="194.20" y="157.00" width="132.25" height="9.94" fill="#e2e2e8"/>
<rect x="249.13" y="157.00" width="0.94" height="9.94" fill="#f6f6f8"/>
<rect x="88.20" y="157.10" width="3.55" height="9.19" fill="#c9c9d0"/>
<rect x="92.49" y="157.10" width="3.55" height="9.19" fill="#c9c9d0"/>
<rect x="96.78" y="157.10" width="3.55" height="9.19" fill="#c9c9d0"/>
<rect x="101.07" y="157.10" width="3.55" height="9.19" fill="#c9c9d0"/>
<rect x="105.36" y="157.10" width="3.55" height="9.19" fill="#c9c9d0"/>
<rect x="109.65" y="157.10" width="3.55" height="9.19" fill="#c9c9d0"/>
<rect x="113.94" y="157.10" width="3.55" height="9.19" fill="#c9c9d0"/>
<rect x="123.90" y="157.10" width="3.55" height="9.19" fill="#c9c9d0"/>
<rect x="128.19" y="157.10" width="3.55" height="9.19" fill="#c9c9d0"/>
<rect x="132.48" y="157.10" width="3.55" height="9.19" fill="#c9c9d0"/>
<rect x="136.77" y="157.10" width="3.55" height="9.19" fill="#c9c9d0"/>
<rect x="145.80" y="157.10" width="3.55" height="9.19" fill="#c9c9d0"/>
<rect x="150.09" y="157.10" width="3.55" height="9.19" fill="#c9c9d0"/>
<rect x="154.38" y="157.10" width="3.55" height="9.19" fill="#c9c9d0"/>
<rect x="158.67" y="157.10" width="3.55" height="9.19" fill="#c9c9d0"/>
<rect x="162.96" y="157.10" width="3.55" height="9.19" fill="#c9c9d0"/>
<rect x="167.25" y="157.10" width="3.55" height="9.19" fill="#c9c9d0"/>
<rect x="171.54" y="157.10" width="3.55" height="9.19" fill="#c9c9d0"/>
<rect x="175.83" y="157.10" width="3.55" height="9.19" fill="#c9c9d0"/>
<rect x="180.12" y="157.10" width="3.55" height="9.19" fill="#c9c9d0"/>
<rect x="184.41" y="157.10" width="3.55" height="9.19" fill="#c9c9d0"/>
<rect x="194.20" y="157.10" width="3.55" height="9.19" fill="#c9c9d0"/>
<rect x="198.49" y="157.10" width="3.55" height="9.19" fill="#c9c9d0"/>
<rect x="202.78" y="157.10" width="3.55" height="9.19" fill="#c9c9d0"/>
<rect x="207.07" y="157.10" width="3.55" height="9.19" fill="#c9c9d0"/>
<rect x="211.36" y="157.10" width="3.55" height="9.19" fill="#c9c9d0"/>
<rect x="215.65" y="157.10" width="3.55" height="9.19" fill="#c9c9d0"/>
<rect x="219.94" y="157.10" width="3.55" height="9.19" fill="#c9c9d0"/>
<rect x="224.23" y="157.10" width="3.55" height="9.19" fill="#c9c9d0"/>
<rect x="228.52" y="157.10" width="3.55" height="9.19" fill="#c9c9d0"/>
<rect x="232.81" y="157.10" width="3.55" height="9.19" fill="#c9c9d0"/>
<rect x="237.10" y="157.10" width="3.55" height="9.19" fill="#c9c9d0"/>
<rect x="241.39" y="157.10" width="3.55" height="9.19" fill="#c9c9d0"/>
<rect x="245.68" y="157.10" width="3.55" height="9.19" fill="#c9c9d0"/>
<rect x="249.97" y="157.10" width="3.55" height="9.19" fill="#c9c9d0"/>
<rect x="254.26" y="157.10" width="3.55" height="9.19" fill="#c9c9d0"/>
<rect x="258.55" y="157.10" width="3.55" height="9.19" fill="#c9c9d0"/>
<rect x="262.84" y="157.10" width="3.55" height="9.19" fill="#c9c9d0"/>
<rect x="267.13" y="157.10" width="3.55" height="9.19" fill="#c9c9d0"/>
<rect x="271.42" y="157.10" width="3.55" height="9.19" fill="#c9c9d0"/>
<rect x="275.71" y="157.10" width="3.55" height="9.19" fill="#c9c9d0"/>
<rect x="280.00" y="157.10" width="3.55" height="9.19" fill="#c9c9d0"/>
<rect x="284.29" y="157.10" width="3.55" height="9.19" fill="#c9c9d0"/>
<rect x="288.58" y="157.10" width="3.55" height="9.19" fill="#c9c9d0"/>
<rect x="292.87" y="157.10" width="3.55" height="9.19" fill="#c9c9d0"/>
<rect x="297.16" y="157.10" width="3.55" height="9.19" fill="#c9c9d0"/>
<rect x="301.45" y="157.10" width="3.55" height="9.19" fill="#c9c9d0"/>
<rect x="305.74" y="157.10" width="3.55" height="9.19" fill="#c9c9d0"/>
<rect x="310.03" y="157.10" width="3.55" height="9.19" fill="#c9c9d0"/>
<rect x="314.32" y="157.10" width="3.55" height="9.19" fill="#c9c9d0"/>
<rect x="318.61" y="157.10" width="3.55" height="9.19" fill="#c9c9d0"/>
<rect x="322.90" y="157.10" width="3.55" height="9.19" fill="#c9c9d0"/>
<rect x="88.20" y="157.10" width="3.55" height="9.19" fill="#c9c9d0"/>
<text x="89.98" y="163.44" font-size="4.8" text-anchor="middle" font-weight="bold" fill="#1c1c1c">G</text>
<rect x="92.49" y="157.10" width="3.55" height="9.19" fill="#2a4b8c"/>
<rect x="96.78" y="157.10" width="3.55" height="9.19" fill="#2a4b8c"/>
<text x="98.56" y="163.44" font-size="4.8" text-anchor="middle" font-weight="bold" fill="#1c1c1c">G</text>
<rect x="101.07" y="157.10" width="3.55" height="9.19" fill="#c9c9d0"/>
<text x="102.85" y="163.44" font-size="4.8" text-anchor="middle" font-weight="bold" fill="#1c1c1c">G</text>
<rect x="123.90" y="157.10" width="3.55" height="9.19" fill="#2a4b8c"/>
<rect x="132.48" y="157.10" width="3.55" height="9.19" fill="#2a4b8c"/>
<rect x="136.77" y="157.10" width="3.55" height="9.19" fill="#c9c9d0"/>
<text x="138.55" y="163.44" font-size="4.8" text-anchor="middle" font-weight="bold" fill="#1c1c1c">G</text>
<rect x="145.80" y="157.10" width="3.55" height="9.19" fill="#2a4b8c"/>
<rect x="150.09" y="157.10" width="3.55" height="9.19" fill="#2a4b8c"/>
<rect x="154.38" y="157.10" width="3.55" height="9.19" fill="#2a4b8c"/>
<rect x="158.67" y="157.10" width="3.55" height="9.19" fill="#2a4b8c"/>
<rect x="171.54" y="157.10" width="3.55" height="9.19" fill="#2a4b8c"/>
<rect x="175.83" y="157.10" width="3.55" height="9.19" fill="#2a4b8c"/>
<rect x="194.20" y="157.10" width="3.55" height="9.19" fill="#2a4b8c"/>
<rect x="198.49" y="157.10" width="3.55" height="9.19" fill="#2a4b8c"/>
<rect x="202.78" y="157.10" width="3.55" height="9.19" fill="#2a4b8c"/>
<rect x="207.07" y="157.10" width="3.55" height="9.19" fill="#2a4b8c"/>
<rect x="211.36" y="157.10" width="3.55" height="9.19" fill="#2a4b8c"/>
<rect x="215.65" y="157.10" width="3.55" height="9.19" fill="#2a4b8c"/>
<rect x="219.94" y="157.10" width="3.55" height="9.19" fill="#2a4b8c"/>
<rect x="224.23" y="157.10" width="3.55" height="9.19" fill="#2a4b8c"/>
<rect x="228.52" y="157.10" width="3.55" height="9.19" fill="#2a4b8c"/>
<rect x="232.81" y="157.10" width="3.55" height="9.19" fill="#2a4b8c"/>
<rect x="237.10" y="157.10" width="3.55" height="9.19" fill="#2a4b8c"/>
<rect x="245.68" y="157.10" width="3.55" height="9.19" fill="#2a4b8c"/>
<rect x="249.97" y="157.10" width="3.55" height="9.19" fill="#2a4b8c"/>
<rect x="258.55" y="157.10" width="3.55" height="9.19" fill="#2a4b8c"/>
<rect x="267.13" y="157.10" width="3.55" height="9.19" fill="#2a4b8c"/>
<rect x="275.71" y="157.10" width="3.55" height="9.19" fill="#2a4b8c"/>
<rect x="284.29" y="157.10" width="3.55" height="9.19" fill="#2a4b8c"/>
<rect x="288.58" y="157.10" width="3.55" height="9.19" fill="#2a4b8c"/>
<rect x="292.87" y="157.10" width="3.55" height="9.19" fill="#2a4b8c"/>
<rect x="297.16" y="157.10" width="3.55" height="9.19" fill="#2a4b8c"/>
<text x="84.40" y="165.00" font-size="7.5" text-anchor="end" fill="#1a1a1a" class="lb">MYC</text>
<rect x="338.40" y="156.65" width="6.00" height="8.99" fill="#e4921f"/>
<rect x="344.40" y="156.65" width="6.00" height="8.99" fill="#a8102a"/>
<rect x="350.40" y="156.65" width="18.00" height="8.99" fill="#f0c026"/>
<rect x="368.40" y="156.65" width="60.00" height="8.99" fill="#8f87c5"/>
<rect x="88.20" y="166.84" width="29.29" height="9.94" fill="#e2e2e8"/>
<rect x="123.90" y="166.84" width="16.42" height="9.94" fill="#e2e2e8"/>
<rect x="145.80" y="166.84" width="42.16" height="9.94" fill="#e2e2e8"/>
<rect x="194.20" y="166.84" width="132.25" height="9.94" fill="#e2e2e8"/>
<rect x="249.13" y="166.84" width="0.94" height="9.94" fill="#f6f6f8"/>
<rect x="88.20" y="166.94" width="3.55" height="9.19" fill="#c9c9d0"/>
<rect x="92.49" y="166.94" width="3.55" height="9.19" fill="#c9c9d0"/>
<rect x="96.78" y="166.94" width="3.55" height="9.19" fill="#c9c9d0"/>
<rect x="101.07" y="166.94" width="3.55" height="9.19" fill="#c9c9d0"/>
<rect x="105.36" y="166.94" width="3.55" height="9.19" fill="#c9c9d0"/>
<rect x="109.65" y="166.94" width="3.55" height="9.19" fill="#c9c9d0"/>
<rect x="113.94" y="166.94" width="3.55" height="9.19" fill="#c9c9d0"/>
<rect x="123.90" y="166.94" width="3.55" height="9.19" fill="#c9c9d0"/>
<rect x="128.19" y="166.94" width="3.55" height="9.19" fill="#c9c9d0"/>
<rect x="132.48" y="166.94" width="3.55" height="9.19" fill="#c9c9d0"/>
<rect x="136.77" y="166.94" width="3.55" height="9.19" fill="#c9c9d0"/>
<rect x="145.80" y="166.94" width="3.55" height="9.19" fill="#c9c9d0"/>
<rect x="150.09" y="166.94" width="3.55" height="9.19" fill="#c9c9d0"/>
<rect x="154.38" y="166.94" width="3.55" height="9.19" fill="#c9c9d0"/>
<rect x="158.67" y="166.94" width="3.55" height="9.19" fill="#c9c9d0"/>
<rect x="162.96" y="166.94" width="3.55" height="9.19" fill="#c9c9d0"/>
<rect x="167.25" y="166.94" width="3.55" height="9.19" fill="#c9c9d0"/>
<rect x="171.54" y="166.94" width="3.55" height="9.19" fill="#c9c9d0"/>
<rect x="175.83" y="166.94" width="3.55" height="9.19" fill="#c9c9d0"/>
<rect x="180.12" y="166.94" width="3.55" height="9.19" fill="#c9c9d0"/>
<rect x="184.41" y="166.94" width="3.55" height="9.19" fill="#c9c9d0"/>
<rect x="194.20" y="166.94" width="3.55" height="9.19" fill="#c9c9d0"/>
<rect x="198.49" y="166.94" width="3.55" height="9.19" fill="#c9c9d0"/>
<rect x="202.78" y="166.94" width="3.55" height="9.19" fill="#c9c9d0"/>
<rect x="207.07" y="166.94" width="3.55" height="9.19" fill="#c9c9d0"/>
<rect x="211.36" y="166.94" width="3.55" height="9.19" fill="#c9c9d0"/>
<rect x="215.65" y="166.94" width="3.55" height="9.19" fill="#c9c9d0"/>
<rect x="219.94" y="166.94" width="3.55" height="9.19" fill="#c9c9d0"/>
<rect x="224.23" y="166.94" width="3.55" height="9.19" fill="#c9c9d0"/>
<rect x="228.52" y="166.94" width="3.55" height="9.19" fill="#c9c9d0"/>
<rect x="232.81" y="166.94" width="3.55" height="9.19" fill="#c9c9d0"/>
<rect x="237.10" y="166.94" width="3.55" height="9.19" fill="#c9c9d0"/>
<rect x="241.39" y="166.94" width="3.55" height="9.19" fill="#c9c9d0"/>
<rect x="245.68" y="166.94" width="3.55" height="9.19" fill="#c9c9d0"/>
<rect x="249.97" y="166.94" width="3.55" height="9.19" fill="#c9c9d0"/>
<rect x="254.26" y="166.94" width="3.55" height="9.19" fill="#c9c9d0"/>
<rect x="258.55" y="166.94" width="3.55" height="9.19" fill="#c9c9d0"/>
<rect x="262.84" y="166.94" width="3.55" height="9.19" fill="#c9c9d0"/>
<rect x="267.13" y="166.94" width="3.55" height="9.19" fill="#c9c9d0"/>
<rect x="271.42" y="166.94" width="3.55" height="9.19" fill="#c9c9d0"/>
<rect x="275.71" y="166.94" width="3.55" height="9.19" fill="#c9c9d0"/>
<rect x="280.00" y="166.94" width="3.55" height="9.19" fill="#c9c9d0"/>
<rect x="284.29" y="166.94" width="3.55" height="9.19" fill="#c9c9d0"/>
<rect x="288.58" y="166.94" width="3.55" height="9.19" fill="#c9c9d0"/>
<rect x="292.87" y="166.94" width="3.55" height="9.19" fill="#c9c9d0"/>
<rect x="297.16" y="166.94" width="3.55" height="9.19" fill="#c9c9d0"/>
<rect x="301.45" y="166.94" width="3.55" height="9.19" fill="#c9c9d0"/>
<rect x="305.74" y="166.94" width="3.55" height="9.19" fill="#c9c9d0"/>
<rect x="310.03" y="166.94" width="3.55" height="9.19" fill="#c9c9d0"/>
<rect x="314.32" y="166.94" width="3.55" height="9.19" fill="#c9c9d0"/>
<rect x="318.61" y="166.94" width="3.55" height="9.19" fill="#c9c9d0"/>
<rect x="322.90" y="166.94" width="3.55" height="9.19" fill="#c9c9d0"/>
<rect x="101.07" y="166.94" width="3.55" height="9.19" fill="#2a4b8c"/>
<rect x="105.36" y="166.94" width="3.55" height="9.19" fill="#2a4b8c"/>
<rect x="109.65" y="166.94" width="3.55" height="9.19" fill="#b3102e"/>
<rect x="123.90" y="166.94" width="3.55" height="9.19" fill="#2a4b8c"/>
<rect x="145.80" y="166.94" width="3.55" height="9.19" fill="#2a4b8c"/>
<rect x="150.09" y="166.94" width="3.55" height="9.19" fill="#2a4b8c"/>
<rect x="158.67" y="166.94" width="3.55" height="9.19" fill="#2a4b8c"/>
<rect x="162.96" y="166.94" width="3.55" height="9.19" fill="#2a4b8c"/>
<rect x="180.12" y="166.94" width="3.55" height="9.19" fill="#f2c31e"/>
<text x="181.90" y="173.28" font-size="4.8" text-anchor="middle" font-weight="bold" fill="#1c1c1c">N</text>
<rect x="194.20" y="166.94" width="3.55" height="9.19" fill="#2a4b8c"/>
<rect x="198.49" y="166.94" width="3.55" height="9.19" fill="#2a4b8c"/>
<rect x="202.78" y="166.94" width="3.55" height="9.19" fill="#2a4b8c"/>
<rect x="207.07" y="166.94" width="3.55" height="9.19" fill="#2a4b8c"/>
<text x="208.84" y="173.28" font-size="4.8" text-anchor="middle" font-weight="bold" fill="#1c1c1c">N</text>
<rect x="219.94" y="166.94" width="3.55" height="9.19" fill="#c9c9d0"/>
<text x="221.72" y="173.28" font-size="4.8" text-anchor="middle" font-weight="bold" fill="#1c1c1c">L</text>
<rect x="241.39" y="166.94" width="3.55" height="9.19" fill="#2a4b8c"/>
<rect x="245.68" y="166.94" width="3.55" height="9.19" fill="#2a4b8c"/>
<rect x="249.97" y="166.94" width="3.55" height="9.19" fill="#2a4b8c"/>
<text x="251.75" y="173.28" font-size="4.8" text-anchor="middle" font-weight="bold" fill="#1c1c1c">N</text>
<rect x="258.55" y="166.94" width="3.55" height="9.19" fill="#2a4b8c"/>
<rect x="267.13" y="166.94" width="3.55" height="9.19" fill="#2a4b8c"/>
<rect x="275.71" y="166.94" width="3.55" height="9.19" fill="#2a4b8c"/>
<rect x="284.29" y="166.94" width="3.55" height="9.19" fill="#5aab47"/>
<rect x="288.58" y="166.94" width="3.55" height="4.59" fill="#2a4b8c"/>
<rect x="288.58" y="171.53" width="3.55" height="4.59" fill="#5aab47"/>
<rect x="301.45" y="166.94" width="3.55" height="9.19" fill="#2a4b8c"/>
<rect x="305.74" y="166.94" width="3.55" height="9.19" fill="#2a4b8c"/>
<rect x="322.90" y="166.94" width="3.55" height="9.19" fill="#c9c9d0"/>
<text x="324.67" y="173.28" font-size="4.8" text-anchor="middle" font-weight="bold" fill="#1c1c1c">N</text>
<text x="84.40" y="174.84" font-size="7.5" text-anchor="end" fill="#1a1a1a" class="lb">TP53</text>
<rect x="338.40" y="166.49" width="9.00" height="8.99" fill="#e4921f"/>
<rect x="347.40" y="166.49" width="3.00" height="8.99" fill="#a8102a"/>
<rect x="350.40" y="166.49" width="15.00" height="8.99" fill="#f0c026"/>
<rect x="365.40" y="166.49" width="42.00" height="8.99" fill="#8f87c5"/>
<rect x="88.20" y="176.68" width="29.29" height="9.94" fill="#e2e2e8"/>
<rect x="123.90" y="176.68" width="16.42" height="9.94" fill="#e2e2e8"/>
<rect x="145.80" y="176.68" width="42.16" height="9.94" fill="#e2e2e8"/>
<rect x="194.20" y="176.68" width="132.25" height="9.94" fill="#e2e2e8"/>
<rect x="249.13" y="176.68" width="0.94" height="9.94" fill="#f6f6f8"/>
<rect x="88.20" y="176.78" width="3.55" height="9.19" fill="#c9c9d0"/>
<rect x="92.49" y="176.78" width="3.55" height="9.19" fill="#c9c9d0"/>
<rect x="96.78" y="176.78" width="3.55" height="9.19" fill="#c9c9d0"/>
<rect x="101.07" y="176.78" width="3.55" height="9.19" fill="#c9c9d0"/>
<rect x="105.36" y="176.78" width="3.55" height="9.19" fill="#c9c9d0"/>
<rect x="109.65" y="176.78" width="3.55" height="9.19" fill="#c9c9d0"/>
<rect x="113.94" y="176.78" width="3.55" height="9.19" fill="#c9c9d0"/>
<rect x="123.90" y="176.78" width="3.55" height="9.19" fill="#c9c9d0"/>
<rect x="128.19" y="176.78" width="3.55" height="9.19" fill="#c9c9d0"/>
<rect x="132.48" y="176.78" width="3.55" height="9.19" fill="#c9c9d0"/>
<rect x="136.77" y="176.78" width="3.55" height="9.19" fill="#c9c9d0"/>
<rect x="145.80" y="176.78" width="3.55" height="9.19" fill="#c9c9d0"/>
<rect x="150.09" y="176.78" width="3.55" height="9.19" fill="#c9c9d0"/>
<rect x="154.38" y="176.78" width="3.55" height="9.19" fill="#c9c9d0"/>
<rect x="158.67" y="176.78" width="3.55" height="9.19" fill="#c9c9d0"/>
<rect x="162.96" y="176.78" width="3.55" height="9.19" fill="#c9c9d0"/>
<rect x="167.25" y="176.78" width="3.55" height="9.19" fill="#c9c9d0"/>
<rect x="171.54" y="176.78" width="3.55" height="9.19" fill="#c9c9d0"/>
<rect x="175.83" y="176.78" width="3.55" height="9.19" fill="#c9c9d0"/>
<rect x="180.12" y="176.78" width="3.55" height="9.19" fill="#c9c9d0"/>
<rect x="184.41" y="176.78" width="3.55" height="9.19" fill="#c9c9d0"/>
<rect x="194.20" y="176.78" width="3.55" height="9.19" fill="#c9c9d0"/>
<rect x="198.49" y="176.78" width="3.55" height="9.19" fill="#c9c9d0"/>
<rect x="202.78" y="176.78" width="3.55" height="9.19" fill="#c9c9d0"/>
<rect x="207.07" y="176.78" width="3.55" height="9.19" fill="#c9c9d0"/>
<rect x="211.36" y="176.78" width="3.55" height="9.19" fill="#c9c9d0"/>
<rect x="215.65" y="176.78" width="3.55" height="9.19" fill="#c9c9d0"/>
<rect x="219.94" y="176.78" width="3.55" height="9.19" fill="#c9c9d0"/>
<rect x="224.23" y="176.78" width="3.55" height="9.19" fill="#c9c9d0"/>
<rect x="228.52" y="176.78" width="3.55" height="9.19" fill="#c9c9d0"/>
<rect x="232.81" y="176.78" width="3.55" height="9.19" fill="#c9c9d0"/>
<rect x="237.10" y="176.78" width="3.55" height="9.19" fill="#c9c9d0"/>
<rect x="241.39" y="176.78" width="3.55" height="9.19" fill="#c9c9d0"/>
<rect x="245.68" y="176.78" width="3.55" height="9.19" fill="#c9c9d0"/>
<rect x="249.97" y="176.78" width="3.55" height="9.19" fill="#c9c9d0"/>
<rect x="254.26" y="176.78" width="3.55" height="9.19" fill="#c9c9d0"/>
<rect x="258.55" y="176.78" width="3.55" height="9.19" fill="#c9c9d0"/>
<rect x="262.84" y="176.78" width="3.55" height="9.19" fill="#c9c9d0"/>
<rect x="267.13" y="176.78" width="3.55" height="9.19" fill="#c9c9d0"/>
<rect x="271.42" y="176.78" width="3.55" height="9.19" fill="#c9c9d0"/>
<rect x="275.71" y="176.78" width="3.55" height="9.19" fill="#c9c9d0"/>
<rect x="280.00" y="176.78" width="3.55" height="9.19" fill="#c9c9d0"/>
<rect x="284.29" y="176.78" width="3.55" height="9.19" fill="#c9c9d0"/>
<rect x="288.58" y="176.78" width="3.55" height="9.19" fill="#c9c9d0"/>
<rect x="292.87" y="176.78" width="3.55" height="9.19" fill="#c9c9d0"/>
<rect x="297.16" y="176.78" width="3.55" height="9.19" fill="#c9c9d0"/>
<rect x="301.45" y="176.78" width="3.55" height="9.19" fill="#c9c9d0"/>
<rect x="305.74" y="176.78" width="3.55" height="9.19" fill="#c9c9d0"/>
<rect x="310.03" y="176.78" width="3.55" height="9.19" fill="#c9c9d0"/>
<rect x="314.32" y="176.78" width="3.55" height="9.19" fill="#c9c9d0"/>
<rect x="318.61" y="176.78" width="3.55" height="9.19" fill="#c9c9d0"/>
<rect x="322.90" y="176.78" width="3.55" height="9.19" fill="#c9c9d0"/>
<rect x="92.49" y="176.78" width="3.55" height="9.19" fill="#5aab47"/>
<text x="94.27" y="183.12" font-size="4.8" text-anchor="middle" font-weight="bold" fill="#1c1c1c">G</text>
<rect x="101.07" y="176.78" width="3.55" height="9.19" fill="#c9c9d0"/>
<text x="102.85" y="183.12" font-size="4.8" text-anchor="middle" font-weight="bold" fill="#1c1c1c">L</text>
<rect x="105.36" y="176.78" width="3.55" height="9.19" fill="#2a4b8c"/>
<rect x="128.19" y="176.78" width="3.55" height="9.19" fill="#2a4b8c"/>
<rect x="150.09" y="176.78" width="3.55" height="9.19" fill="#b3102e"/>
<rect x="194.20" y="176.78" width="3.55" height="9.19" fill="#5aab47"/>
<rect x="202.78" y="176.78" width="3.55" height="9.19" fill="#2a4b8c"/>
<rect x="207.07" y="176.78" width="3.55" height="9.19" fill="#2a4b8c"/>
<rect x="224.23" y="176.78" width="3.55" height="9.19" fill="#b3102e"/>
<rect x="228.52" y="176.78" width="3.55" height="9.19" fill="#27575f"/>
<rect x="241.39" y="176.78" width="3.55" height="9.19" fill="#27575f"/>
<rect x="245.68" y="176.78" width="3.55" height="9.19" fill="#2a4b8c"/>
<rect x="258.55" y="176.78" width="3.55" height="9.19" fill="#2a4b8c"/>
<rect x="275.71" y="176.78" width="3.55" height="9.19" fill="#2a4b8c"/>
<rect x="284.29" y="176.78" width="3.55" height="9.19" fill="#5aab47"/>
<rect x="297.16" y="176.78" width="3.55" height="9.19" fill="#b3102e"/>
<rect x="322.90" y="176.78" width="3.55" height="9.19" fill="#c9c9d0"/>
<text x="324.67" y="183.12" font-size="4.8" text-anchor="middle" font-weight="bold" fill="#1c1c1c">N</text>
<text x="84.40" y="184.68" font-size="7.5" text-anchor="end" fill="#1a1a1a" class="lb">CCND3</text>
<rect x="338.40" y="176.33" width="6.00" height="8.99" fill="#e4921f"/>
<rect x="344.40" y="176.33" width="3.00" height="8.99" fill="#a8102a"/>
<rect x="347.40" y="176.33" width="3.00" height="8.99" fill="#f0c026"/>
<rect x="350.40" y="176.33" width="33.00" height="8.99" fill="#8f87c5"/>
<rect x="88.20" y="186.52" width="29.29" height="9.94" fill="#e2e2e8"/>
<rect x="123.90" y="186.52" width="16.42" height="9.94" fill="#e2e2e8"/>
<rect x="145.80" y="186.52" width="42.16" height="9.94" fill="#e2e2e8"/>
<rect x="194.20" y="186.52" width="132.25" height="9.94" fill="#e2e2e8"/>
<rect x="249.13" y="186.52" width="0.94" height="9.94" fill="#f6f6f8"/>
<rect x="88.20" y="186.62" width="3.55" height="9.19" fill="#c9c9d0"/>
<rect x="92.49" y="186.62" width="3.55" height="9.19" fill="#c9c9d0"/>
<rect x="96.78" y="186.62" width="3.55" height="9.19" fill="#c9c9d0"/>
<rect x="101.07" y="186.62" width="3.55" height="9.19" fill="#c9c9d0"/>
<rect x="105.36" y="186.62" width="3.55" height="9.19" fill="#c9c9d0"/>
<rect x="109.65" y="186.62" width="3.55" height="9.19" fill="#c9c9d0"/>
<rect x="113.94" y="186.62" width="3.55" height="9.19" fill="#c9c9d0"/>
<rect x="123.90" y="186.62" width="3.55" height="9.19" fill="#c9c9d0"/>
<rect x="128.19" y="186.62" width="3.55" height="9.19" fill="#c9c9d0"/>
<rect x="132.48" y="186.62" width="3.55" height="9.19" fill="#c9c9d0"/>
<rect x="136.77" y="186.62" width="3.55" height="9.19" fill="#c9c9d0"/>
<rect x="145.80" y="186.62" width="3.55" height="9.19" fill="#c9c9d0"/>
<rect x="150.09" y="186.62" width="3.55" height="9.19" fill="#c9c9d0"/>
<rect x="154.38" y="186.62" width="3.55" height="9.19" fill="#c9c9d0"/>
<rect x="158.67" y="186.62" width="3.55" height="9.19" fill="#c9c9d0"/>
<rect x="162.96" y="186.62" width="3.55" height="9.19" fill="#c9c9d0"/>
<rect x="167.25" y="186.62" width="3.55" height="9.19" fill="#c9c9d0"/>
<rect x="171.54" y="186.62" width="3.55" height="9.19" fill="#c9c9d0"/>
<rect x="175.83" y="186.62" width="3.55" height="9.19" fill="#c9c9d0"/>
<rect x="180.12" y="186.62" width="3.55" height="9.19" fill="#c9c9d0"/>
<rect x="184.41" y="186.62" width="3.55" height="9.19" fill="#c9c9d0"/>
<rect x="194.20" y="186.62" width="3.55" height="9.19" fill="#c9c9d0"/>
<rect x="198.49" y="186.62" width="3.55" height="9.19" fill="#c9c9d0"/>
<rect x="202.78" y="186.62" width="3.55" height="9.19" fill="#c9c9d0"/>
<rect x="207.07" y="186.62" width="3.55" height="9.19" fill="#c9c9d0"/>
<rect x="211.36" y="186.62" width="3.55" height="9.19" fill="#c9c9d0"/>
<rect x="215.65" y="186.62" width="3.55" height="9.19" fill="#c9c9d0"/>
<rect x="219.94" y="186.62" width="3.55" height="9.19" fill="#c9c9d0"/>
<rect x="224.23" y="186.62" width="3.55" height="9.19" fill="#c9c9d0"/>
<rect x="228.52" y="186.62" width="3.55" height="9.19" fill="#c9c9d0"/>
<rect x="232.81" y="186.62" width="3.55" height="9.19" fill="#c9c9d0"/>
<rect x="237.10" y="186.62" width="3.55" height="9.19" fill="#c9c9d0"/>
<rect x="241.39" y="186.62" width="3.55" height="9.19" fill="#c9c9d0"/>
<rect x="245.68" y="186.62" width="3.55" height="9.19" fill="#c9c9d0"/>
<rect x="249.97" y="186.62" width="3.55" height="9.19" fill="#c9c9d0"/>
<rect x="254.26" y="186.62" width="3.55" height="9.19" fill="#c9c9d0"/>
<rect x="258.55" y="186.62" width="3.55" height="9.19" fill="#c9c9d0"/>
<rect x="262.84" y="186.62" width="3.55" height="9.19" fill="#c9c9d0"/>
<rect x="267.13" y="186.62" width="3.55" height="9.19" fill="#c9c9d0"/>
<rect x="271.42" y="186.62" width="3.55" height="9.19" fill="#c9c9d0"/>
<rect x="275.71" y="186.62" width="3.55" height="9.19" fill="#c9c9d0"/>
<rect x="280.00" y="186.62" width="3.55" height="9.19" fill="#c9c9d0"/>
<rect x="284.29" y="186.62" width="3.55" height="9.19" fill="#c9c9d0"/>
<rect x="288.58" y="186.62" width="3.55" height="9.19" fill="#c9c9d0"/>
<rect x="292.87" y="186.62" width="3.55" height="9.19" fill="#c9c9d0"/>
<rect x="297.16" y="186.62" width="3.55" height="9.19" fill="#c9c9d0"/>
<rect x="301.45" y="186.62" width="3.55" height="9.19" fill="#c9c9d0"/>
<rect x="305.74" y="186.62" width="3.55" height="9.19" fill="#c9c9d0"/>
<rect x="310.03" y="186.62" width="3.55" height="9.19" fill="#c9c9d0"/>
<rect x="314.32" y="186.62" width="3.55" height="9.19" fill="#c9c9d0"/>
<rect x="318.61" y="186.62" width="3.55" height="9.19" fill="#c9c9d0"/>
<rect x="322.90" y="186.62" width="3.55" height="9.19" fill="#c9c9d0"/>
<rect x="105.36" y="186.62" width="3.55" height="9.19" fill="#c9c9d0"/>
<text x="107.14" y="192.97" font-size="4.8" text-anchor="middle" font-weight="bold" fill="#1c1c1c">G</text>
<rect x="109.65" y="186.62" width="3.55" height="9.19" fill="#c9c9d0"/>
<text x="111.43" y="192.97" font-size="4.8" text-anchor="middle" font-weight="bold" fill="#1c1c1c">L</text>
<rect x="113.94" y="186.62" width="3.55" height="9.19" fill="#c9c9d0"/>
<text x="115.72" y="192.97" font-size="4.8" text-anchor="middle" font-weight="bold" fill="#1c1c1c">G</text>
<rect x="132.48" y="186.62" width="3.55" height="9.19" fill="#2a4b8c"/>
<rect x="145.80" y="186.62" width="3.55" height="9.19" fill="#2a4b8c"/>
<rect x="154.38" y="186.62" width="3.55" height="9.19" fill="#2a4b8c"/>
<rect x="167.25" y="186.62" width="3.55" height="9.19" fill="#5aab47"/>
<rect x="198.49" y="186.62" width="3.55" height="9.19" fill="#f2c31e"/>
<rect x="215.65" y="186.62" width="3.55" height="9.19" fill="#2a4b8c"/>
<rect x="232.81" y="186.62" width="3.55" height="9.19" fill="#2a4b8c"/>
<rect x="241.39" y="186.62" width="3.55" height="9.19" fill="#b3102e"/>
<rect x="245.68" y="186.62" width="3.55" height="9.19" fill="#c9c9d0"/>
<text x="247.46" y="192.97" font-size="4.8" text-anchor="middle" font-weight="bold" fill="#1c1c1c">L</text>
<rect x="249.97" y="186.62" width="3.55" height="9.19" fill="#2a4b8c"/>
<rect x="254.26" y="186.62" width="3.55" height="9.19" fill="#2a4b8c"/>
<rect x="258.55" y="186.62" width="3.55" height="9.19" fill="#5aab47"/>
<rect x="267.13" y="186.62" width="3.55" height="9.19" fill="#2a4b8c"/>
<rect x="271.42" y="186.62" width="3.55" height="9.19" fill="#c9c9d0"/>
<text x="273.19" y="192.97" font-size="4.8" text-anchor="middle" font-weight="bold" fill="#1c1c1c">L</text>
<rect x="280.00" y="186.62" width="3.55" height="9.19" fill="#f2c31e"/>
<rect x="297.16" y="186.62" width="3.55" height="9.19" fill="#b3102e"/>
<rect x="305.74" y="186.62" width="3.55" height="9.19" fill="#5aab47"/>
<rect x="310.03" y="186.62" width="3.55" height="9.19" fill="#2a4b8c"/>
<text x="84.40" y="194.52" font-size="7.5" text-anchor="end" fill="#1a1a1a" class="lb">DDX3X</text>
<rect x="338.40" y="186.17" width="3.00" height="8.99" fill="#a8102a"/>
<rect x="341.40" y="186.17" width="9.00" height="8.99" fill="#f0c026"/>
<rect x="350.40" y="186.17" width="36.00" height="8.99" fill="#8f87c5"/>
<rect x="88.20" y="196.36" width="29.29" height="9.94" fill="#e2e2e8"/>
<rect x="123.90" y="196.36" width="16.42" height="9.94" fill="#e2e2e8"/>
<rect x="145.80" y="196.36" width="42.16" height="9.94" fill="#e2e2e8"/>
<rect x="194.20" y="196.36" width="132.25" height="9.94" fill="#e2e2e8"/>
<rect x="249.13" y="196.36" width="0.94" height="9.94" fill="#f6f6f8"/>
<rect x="88.20" y="196.46" width="3.55" height="9.19" fill="#c9c9d0"/>
<rect x="92.49" y="196.46" width="3.55" height="9.19" fill="#c9c9d0"/>
<rect x="96.78" y="196.46" width="3.55" height="9.19" fill="#c9c9d0"/>
<rect x="101.07" y="196.46" width="3.55" height="9.19" fill="#c9c9d0"/>
<rect x="105.36" y="196.46" width="3.55" height="9.19" fill="#c9c9d0"/>
<rect x="109.65" y="196.46" width="3.55" height="9.19" fill="#c9c9d0"/>
<rect x="113.94" y="196.46" width="3.55" height="9.19" fill="#c9c9d0"/>
<rect x="123.90" y="196.46" width="3.55" height="9.19" fill="#c9c9d0"/>
<rect x="128.19" y="196.46" width="3.55" height="9.19" fill="#c9c9d0"/>
<rect x="132.48" y="196.46" width="3.55" height="9.19" fill="#c9c9d0"/>
<rect x="136.77" y="196.46" width="3.55" height="9.19" fill="#c9c9d0"/>
<rect x="145.80" y="196.46" width="3.55" height="9.19" fill="#c9c9d0"/>
<rect x="150.09" y="196.46" width="3.55" height="9.19" fill="#c9c9d0"/>
<rect x="154.38" y="196.46" width="3.55" height="9.19" fill="#c9c9d0"/>
<rect x="158.67" y="196.46" width="3.55" height="9.19" fill="#c9c9d0"/>
<rect x="162.96" y="196.46" width="3.55" height="9.19" fill="#c9c9d0"/>
<rect x="167.25" y="196.46" width="3.55" height="9.19" fill="#c9c9d0"/>
<rect x="171.54" y="196.46" width="3.55" height="9.19" fill="#c9c9d0"/>
<rect x="175.83" y="196.46" width="3.55" height="9.19" fill="#c9c9d0"/>
<rect x="180.12" y="196.46" width="3.55" height="9.19" fill="#c9c9d0"/>
<rect x="184.41" y="196.46" width="3.55" height="9.19" fill="#c9c9d0"/>
<rect x="194.20" y="196.46" width="3.55" height="9.19" fill="#c9c9d0"/>
<rect x="198.49" y="196.46" width="3.55" height="9.19" fill="#c9c9d0"/>
<rect x="202.78" y="196.46" width="3.55" height="9.19" fill="#c9c9d0"/>
<rect x="207.07" y="196.46" width="3.55" height="9.19" fill="#c9c9d0"/>
<rect x="211.36" y="196.46" width="3.55" height="9.19" fill="#c9c9d0"/>
<rect x="215.65" y="196.46" width="3.55" height="9.19" fill="#c9c9d0"/>
<rect x="219.94" y="196.46" width="3.55" height="9.19" fill="#c9c9d0"/>
<rect x="224.23" y="196.46" width="3.55" height="9.19" fill="#c9c9d0"/>
<rect x="228.52" y="196.46" width="3.55" height="9.19" fill="#c9c9d0"/>
<rect x="232.81" y="196.46" width="3.55" height="9.19" fill="#c9c9d0"/>
<rect x="237.10" y="196.46" width="3.55" height="9.19" fill="#c9c9d0"/>
<rect x="241.39" y="196.46" width="3.55" height="9.19" fill="#c9c9d0"/>
<rect x="245.68" y="196.46" width="3.55" height="9.19" fill="#c9c9d0"/>
<rect x="249.97" y="196.46" width="3.55" height="9.19" fill="#c9c9d0"/>
<rect x="254.26" y="196.46" width="3.55" height="9.19" fill="#c9c9d0"/>
<rect x="258.55" y="196.46" width="3.55" height="9.19" fill="#c9c9d0"/>
<rect x="262.84" y="196.46" width="3.55" height="9.19" fill="#c9c9d0"/>
<rect x="267.13" y="196.46" width="3.55" height="9.19" fill="#c9c9d0"/>
<rect x="271.42" y="196.46" width="3.55" height="9.19" fill="#c9c9d0"/>
<rect x="275.71" y="196.46" width="3.55" height="9.19" fill="#c9c9d0"/>
<rect x="280.00" y="196.46" width="3.55" height="9.19" fill="#c9c9d0"/>
<rect x="284.29" y="196.46" width="3.55" height="9.19" fill="#c9c9d0"/>
<rect x="288.58" y="196.46" width="3.55" height="9.19" fill="#c9c9d0"/>
<rect x="292.87" y="196.46" width="3.55" height="9.19" fill="#c9c9d0"/>
<rect x="297.16" y="196.46" width="3.55" height="9.19" fill="#c9c9d0"/>
<rect x="301.45" y="196.46" width="3.55" height="9.19" fill="#c9c9d0"/>
<rect x="305.74" y="196.46" width="3.55" height="9.19" fill="#c9c9d0"/>
<rect x="310.03" y="196.46" width="3.55" height="9.19" fill="#c9c9d0"/>
<rect x="314.32" y="196.46" width="3.55" height="9.19" fill="#c9c9d0"/>
<rect x="318.61" y="196.46" width="3.55" height="9.19" fill="#c9c9d0"/>
<rect x="322.90" y="196.46" width="3.55" height="9.19" fill="#c9c9d0"/>
<rect x="88.20" y="196.46" width="3.55" height="9.19" fill="#c9c9d0"/>
<text x="89.98" y="202.80" font-size="4.8" text-anchor="middle" font-weight="bold" fill="#1c1c1c">G</text>
<rect x="92.49" y="196.46" width="3.55" height="9.19" fill="#2a4b8c"/>
<rect x="101.07" y="196.46" width="3.55" height="9.19" fill="#2a4b8c"/>
<rect x="105.36" y="196.46" width="3.55" height="9.19" fill="#c9c9d0"/>
<text x="107.14" y="202.80" font-size="4.8" text-anchor="middle" font-weight="bold" fill="#1c1c1c">G</text>
<rect x="109.65" y="196.46" width="3.55" height="9.19" fill="#c9c9d0"/>
<text x="111.43" y="202.80" font-size="4.8" text-anchor="middle" font-weight="bold" fill="#1c1c1c">G</text>
<rect x="113.94" y="196.46" width="3.55" height="9.19" fill="#2a4b8c"/>
<rect x="128.19" y="196.46" width="3.55" height="9.19" fill="#c9c9d0"/>
<text x="129.97" y="202.80" font-size="4.8" text-anchor="middle" font-weight="bold" fill="#1c1c1c">G</text>
<rect x="136.77" y="196.46" width="3.55" height="9.19" fill="#2a4b8c"/>
<rect x="154.38" y="196.46" width="3.55" height="9.19" fill="#2a4b8c"/>
<rect x="167.25" y="196.46" width="3.55" height="9.19" fill="#2a4b8c"/>
<rect x="175.83" y="196.46" width="3.55" height="9.19" fill="#2a4b8c"/>
<rect x="180.12" y="196.46" width="3.55" height="9.19" fill="#2a4b8c"/>
<rect x="207.07" y="196.46" width="3.55" height="9.19" fill="#c9c9d0"/>
<text x="208.84" y="202.80" font-size="4.8" text-anchor="middle" font-weight="bold" fill="#1c1c1c">G</text>
<rect x="237.10" y="196.46" width="3.55" height="9.19" fill="#2a4b8c"/>
<rect x="241.39" y="196.46" width="3.55" height="9.19" fill="#2a4b8c"/>
<rect x="254.26" y="196.46" width="3.55" height="9.19" fill="#2a4b8c"/>
<rect x="275.71" y="196.46" width="3.55" height="9.19" fill="#c9c9d0"/>
<text x="277.48" y="202.80" font-size="4.8" text-anchor="middle" font-weight="bold" fill="#1c1c1c">G</text>
<rect x="301.45" y="196.46" width="3.55" height="9.19" fill="#c9c9d0"/>
<text x="303.22" y="202.80" font-size="4.8" text-anchor="middle" font-weight="bold" fill="#1c1c1c">N</text>
<rect x="310.03" y="196.46" width="3.55" height="9.19" fill="#2a4b8c"/>
<text x="84.40" y="204.36" font-size="7.5" text-anchor="end" fill="#1a1a1a" class="lb">USH2A</text>
<rect x="338.40" y="196.01" width="9.00" height="8.99" fill="#e4921f"/>
<rect x="347.40" y="196.01" width="3.00" height="8.99" fill="#a8102a"/>
<rect x="350.40" y="196.01" width="12.00" height="8.99" fill="#f0c026"/>
<rect x="362.40" y="196.01" width="12.00" height="8.99" fill="#8f87c5"/>
<rect x="88.20" y="206.20" width="29.29" height="9.94" fill="#e2e2e8"/>
<rect x="123.90" y="206.20" width="16.42" height="9.94" fill="#e2e2e8"/>
<rect x="145.80" y="206.20" width="42.16" height="9.94" fill="#e2e2e8"/>
<rect x="194.20" y="206.20" width="132.25" height="9.94" fill="#e2e2e8"/>
<rect x="249.13" y="206.20" width="0.94" height="9.94" fill="#f6f6f8"/>
<rect x="88.20" y="206.30" width="3.55" height="9.19" fill="#c9c9d0"/>
<rect x="92.49" y="206.30" width="3.55" height="9.19" fill="#c9c9d0"/>
<rect x="96.78" y="206.30" width="3.55" height="9.19" fill="#c9c9d0"/>
<rect x="101.07" y="206.30" width="3.55" height="9.19" fill="#c9c9d0"/>
<rect x="105.36" y="206.30" width="3.55" height="9.19" fill="#c9c9d0"/>
<rect x="109.65" y="206.30" width="3.55" height="9.19" fill="#c9c9d0"/>
<rect x="113.94" y="206.30" width="3.55" height="9.19" fill="#c9c9d0"/>
<rect x="123.90" y="206.30" width="3.55" height="9.19" fill="#c9c9d0"/>
<rect x="128.19" y="206.30" width="3.55" height="9.19" fill="#c9c9d0"/>
<rect x="132.48" y="206.30" width="3.55" height="9.19" fill="#c9c9d0"/>
<rect x="136.77" y="206.30" width="3.55" height="9.19" fill="#c9c9d0"/>
<rect x="145.80" y="206.30" width="3.55" height="9.19" fill="#c9c9d0"/>
<rect x="150.09" y="206.30" width="3.55" height="9.19" fill="#c9c9d0"/>
<rect x="154.38" y="206.30" width="3.55" height="9.19" fill="#c9c9d0"/>
<rect x="158.67" y="206.30" width="3.55" height="9.19" fill="#c9c9d0"/>
<rect x="162.96" y="206.30" width="3.55" height="9.19" fill="#c9c9d0"/>
<rect x="167.25" y="206.30" width="3.55" height="9.19" fill="#c9c9d0"/>
<rect x="171.54" y="206.30" width="3.55" height="9.19" fill="#c9c9d0"/>
<rect x="175.83" y="206.30" width="3.55" height="9.19" fill="#c9c9d0"/>
<rect x="180.12" y="206.30" width="3.55" height="9.19" fill="#c9c9d0"/>
<rect x="184.41" y="206.30" width="3.55" height="9.19" fill="#c9c9d0"/>
<rect x="194.20" y="206.30" width="3.55" height="9.19" fill="#c9c9d0"/>
<rect x="198.49" y="206.30" width="3.55" height="9.19" fill="#c9c9d0"/>
<rect x="202.78" y="206.30" width="3.55" height="9.19" fill="#c9c9d0"/>
<rect x="207.07" y="206.30" width="3.55" height="9.19" fill="#c9c9d0"/>
<rect x="211.36" y="206.30" width="3.55" height="9.19" fill="#c9c9d0"/>
<rect x="215.65" y="206.30" width="3.55" height="9.19" fill="#c9c9d0"/>
<rect x="219.94" y="206.30" width="3.55" height="9.19" fill="#c9c9d0"/>
<rect x="224.23" y="206.30" width="3.55" height="9.19" fill="#c9c9d0"/>
<rect x="228.52" y="206.30" width="3.55" height="9.19" fill="#c9c9d0"/>
<rect x="232.81" y="206.30" width="3.55" height="9.19" fill="#c9c9d0"/>
<rect x="237.10" y="206.30" width="3.55" height="9.19" fill="#c9c9d0"/>
<rect x="241.39" y="206.30" width="3.55" height="9.19" fill="#c9c9d0"/>
<rect x="245.68" y="206.30" width="3.55" height="9.19" fill="#c9c9d0"/>
<rect x="249.97" y="206.30" width="3.55" height="9.19" fill="#c9c9d0"/>
<rect x="254.26" y="206.30" width="3.55" height="9.19" fill="#c9c9d0"/>
<rect x="258.55" y="206.30" width="3.55" height="9.19" fill="#c9c9d0"/>
<rect x="262.84" y="206.30" width="3.55" height="9.19" fill="#c9c9d0"/>
<rect x="267.13" y="206.30" width="3.55" height="9.19" fill="#c9c9d0"/>
<rect x="271.42" y="206.30" width="3.55" height="9.19" fill="#c9c9d0"/>
<rect x="275.71" y="206.30" width="3.55" height="9.19" fill="#c9c9d0"/>
<rect x="280.00" y="206.30" width="3.55" height="9.19" fill="#c9c9d0"/>
<rect x="284.29" y="206.30" width="3.55" height="9.19" fill="#c9c9d0"/>
<rect x="288.58" y="206.30" width="3.55" height="9.19" fill="#c9c9d0"/>
<rect x="292.87" y="206.30" width="3.55" height="9.19" fill="#c9c9d0"/>
<rect x="297.16" y="206.30" width="3.55" height="9.19" fill="#c9c9d0"/>
<rect x="301.45" y="206.30" width="3.55" height="9.19" fill="#c9c9d0"/>
<rect x="305.74" y="206.30" width="3.55" height="9.19" fill="#c9c9d0"/>
<rect x="310.03" y="206.30" width="3.55" height="9.19" fill="#c9c9d0"/>
<rect x="314.32" y="206.30" width="3.55" height="9.19" fill="#c9c9d0"/>
<rect x="318.61" y="206.30" width="3.55" height="9.19" fill="#c9c9d0"/>
<rect x="322.90" y="206.30" width="3.55" height="9.19" fill="#c9c9d0"/>
<rect x="88.20" y="206.30" width="3.55" height="4.59" fill="#f2c31e"/>
<rect x="88.20" y="210.90" width="3.55" height="4.59" fill="#2a4b8c"/>
<rect x="92.49" y="206.30" width="3.55" height="9.19" fill="#2a4b8c"/>
<rect x="96.78" y="206.30" width="3.55" height="9.19" fill="#2a4b8c"/>
<rect x="101.07" y="206.30" width="3.55" height="9.19" fill="#2a4b8c"/>
<rect x="105.36" y="206.30" width="3.55" height="9.19" fill="#2a4b8c"/>
<rect x="109.65" y="206.30" width="3.55" height="9.19" fill="#2a4b8c"/>
<rect x="113.94" y="206.30" width="3.55" height="9.19" fill="#2a4b8c"/>
<rect x="158.67" y="206.30" width="3.55" height="9.19" fill="#c9c9d0"/>
<text x="160.45" y="212.65" font-size="4.8" text-anchor="middle" font-weight="bold" fill="#1c1c1c">N</text>
<rect x="171.54" y="206.30" width="3.55" height="9.19" fill="#c9c9d0"/>
<text x="173.32" y="212.65" font-size="4.8" text-anchor="middle" font-weight="bold" fill="#1c1c1c">N</text>
<rect x="175.83" y="206.30" width="3.55" height="9.19" fill="#2a4b8c"/>
<rect x="180.12" y="206.30" width="3.55" height="9.19" fill="#c9c9d0"/>
<text x="181.90" y="212.65" font-size="4.8" text-anchor="middle" font-weight="bold" fill="#1c1c1c">G</text>
<rect x="184.41" y="206.30" width="3.55" height="9.19" fill="#2a4b8c"/>
<rect x="245.68" y="206.30" width="3.55" height="9.19" fill="#c9c9d0"/>
<text x="247.46" y="212.65" font-size="4.8" text-anchor="middle" font-weight="bold" fill="#1c1c1c">L</text>
<rect x="275.71" y="206.30" width="3.55" height="9.19" fill="#c9c9d0"/>
<text x="277.48" y="212.65" font-size="4.8" text-anchor="middle" font-weight="bold" fill="#1c1c1c">N</text>
<rect x="301.45" y="206.30" width="3.55" height="9.19" fill="#c9c9d0"/>
<text x="303.22" y="212.65" font-size="4.8" text-anchor="middle" font-weight="bold" fill="#1c1c1c">G</text>
<text x="84.40" y="214.20" font-size="7.5" text-anchor="end" fill="#1a1a1a" class="lb">BCL2</text>
<rect x="338.40" y="205.85" width="21.00" height="8.99" fill="#e4921f"/>
<rect x="359.40" y="205.85" width="6.00" height="8.99" fill="#f0c026"/>
<rect x="88.20" y="216.04" width="29.29" height="9.94" fill="#e2e2e8"/>
<rect x="123.90" y="216.04" width="16.42" height="9.94" fill="#e2e2e8"/>
<rect x="145.80" y="216.04" width="42.16" height="9.94" fill="#e2e2e8"/>
<rect x="194.20" y="216.04" width="132.25" height="9.94" fill="#e2e2e8"/>
<rect x="249.13" y="216.04" width="0.94" height="9.94" fill="#f6f6f8"/>
<rect x="88.20" y="216.14" width="3.55" height="9.19" fill="#c9c9d0"/>
<rect x="92.49" y="216.14" width="3.55" height="9.19" fill="#c9c9d0"/>
<rect x="96.78" y="216.14" width="3.55" height="9.19" fill="#c9c9d0"/>
<rect x="101.07" y="216.14" width="3.55" height="9.19" fill="#c9c9d0"/>
<rect x="105.36" y="216.14" width="3.55" height="9.19" fill="#c9c9d0"/>
<rect x="109.65" y="216.14" width="3.55" height="9.19" fill="#c9c9d0"/>
<rect x="113.94" y="216.14" width="3.55" height="9.19" fill="#c9c9d0"/>
<rect x="123.90" y="216.14" width="3.55" height="9.19" fill="#c9c9d0"/>
<rect x="128.19" y="216.14" width="3.55" height="9.19" fill="#c9c9d0"/>
<rect x="132.48" y="216.14" width="3.55" height="9.19" fill="#c9c9d0"/>
<rect x="136.77" y="216.14" width="3.55" height="9.19" fill="#c9c9d0"/>
<rect x="145.80" y="216.14" width="3.55" height="9.19" fill="#c9c9d0"/>
<rect x="150.09" y="216.14" width="3.55" height="9.19" fill="#c9c9d0"/>
<rect x="154.38" y="216.14" width="3.55" height="9.19" fill="#c9c9d0"/>
<rect x="158.67" y="216.14" width="3.55" height="9.19" fill="#c9c9d0"/>
<rect x="162.96" y="216.14" width="3.55" height="9.19" fill="#c9c9d0"/>
<rect x="167.25" y="216.14" width="3.55" height="9.19" fill="#c9c9d0"/>
<rect x="171.54" y="216.14" width="3.55" height="9.19" fill="#c9c9d0"/>
<rect x="175.83" y="216.14" width="3.55" height="9.19" fill="#c9c9d0"/>
<rect x="180.12" y="216.14" width="3.55" height="9.19" fill="#c9c9d0"/>
<rect x="184.41" y="216.14" width="3.55" height="9.19" fill="#c9c9d0"/>
<rect x="194.20" y="216.14" width="3.55" height="9.19" fill="#c9c9d0"/>
<rect x="198.49" y="216.14" width="3.55" height="9.19" fill="#c9c9d0"/>
<rect x="202.78" y="216.14" width="3.55" height="9.19" fill="#c9c9d0"/>
<rect x="207.07" y="216.14" width="3.55" height="9.19" fill="#c9c9d0"/>
<rect x="211.36" y="216.14" width="3.55" height="9.19" fill="#c9c9d0"/>
<rect x="215.65" y="216.14" width="3.55" height="9.19" fill="#c9c9d0"/>
<rect x="219.94" y="216.14" width="3.55" height="9.19" fill="#c9c9d0"/>
<rect x="224.23" y="216.14" width="3.55" height="9.19" fill="#c9c9d0"/>
<rect x="228.52" y="216.14" width="3.55" height="9.19" fill="#c9c9d0"/>
<rect x="232.81" y="216.14" width="3.55" height="9.19" fill="#c9c9d0"/>
<rect x="237.10" y="216.14" width="3.55" height="9.19" fill="#c9c9d0"/>
<rect x="241.39" y="216.14" width="3.55" height="9.19" fill="#c9c9d0"/>
<rect x="245.68" y="216.14" width="3.55" height="9.19" fill="#c9c9d0"/>
<rect x="249.97" y="216.14" width="3.55" height="9.19" fill="#c9c9d0"/>
<rect x="254.26" y="216.14" width="3.55" height="9.19" fill="#c9c9d0"/>
<rect x="258.55" y="216.14" width="3.55" height="9.19" fill="#c9c9d0"/>
<rect x="262.84" y="216.14" width="3.55" height="9.19" fill="#c9c9d0"/>
<rect x="267.13" y="216.14" width="3.55" height="9.19" fill="#c9c9d0"/>
<rect x="271.42" y="216.14" width="3.55" height="9.19" fill="#c9c9d0"/>
<rect x="275.71" y="216.14" width="3.55" height="9.19" fill="#c9c9d0"/>
<rect x="280.00" y="216.14" width="3.55" height="9.19" fill="#c9c9d0"/>
<rect x="284.29" y="216.14" width="3.55" height="9.19" fill="#c9c9d0"/>
<rect x="288.58" y="216.14" width="3.55" height="9.19" fill="#c9c9d0"/>
<rect x="292.87" y="216.14" width="3.55" height="9.19" fill="#c9c9d0"/>
<rect x="297.16" y="216.14" width="3.55" height="9.19" fill="#c9c9d0"/>
<rect x="301.45" y="216.14" width="3.55" height="9.19" fill="#c9c9d0"/>
<rect x="305.74" y="216.14" width="3.55" height="9.19" fill="#c9c9d0"/>
<rect x="310.03" y="216.14" width="3.55" height="9.19" fill="#c9c9d0"/>
<rect x="314.32" y="216.14" width="3.55" height="9.19" fill="#c9c9d0"/>
<rect x="318.61" y="216.14" width="3.55" height="9.19" fill="#c9c9d0"/>
<rect x="322.90" y="216.14" width="3.55" height="9.19" fill="#c9c9d0"/>
<rect x="92.49" y="216.14" width="3.55" height="9.19" fill="#2a4b8c"/>
<rect x="101.07" y="216.14" width="3.55" height="9.19" fill="#c9c9d0"/>
<text x="102.85" y="222.48" font-size="4.8" text-anchor="middle" font-weight="bold" fill="#1c1c1c">N</text>
<rect x="105.36" y="216.14" width="3.55" height="9.19" fill="#2a4b8c"/>
<rect x="113.94" y="216.14" width="3.55" height="9.19" fill="#2a4b8c"/>
<rect x="132.48" y="216.14" width="3.55" height="9.19" fill="#2a4b8c"/>
<rect x="158.67" y="216.14" width="3.55" height="9.19" fill="#c9c9d0"/>
<text x="160.45" y="222.48" font-size="4.8" text-anchor="middle" font-weight="bold" fill="#1c1c1c">G</text>
<rect x="180.12" y="216.14" width="3.55" height="9.19" fill="#2a4b8c"/>
<rect x="202.78" y="216.14" width="3.55" height="9.19" fill="#c9c9d0"/>
<text x="204.56" y="222.48" font-size="4.8" text-anchor="middle" font-weight="bold" fill="#1c1c1c">N</text>
<text x="84.40" y="224.04" font-size="7.5" text-anchor="end" fill="#1a1a1a" class="lb">ZFHX3</text>
<rect x="338.40" y="215.69" width="9.00" height="8.99" fill="#e4921f"/>
<rect x="347.40" y="215.69" width="3.00" height="8.99" fill="#a8102a"/>
<rect x="350.40" y="215.69" width="3.00" height="8.99" fill="#f0c026"/>
<rect x="88.20" y="225.88" width="29.29" height="9.94" fill="#e2e2e8"/>
<rect x="123.90" y="225.88" width="16.42" height="9.94" fill="#e2e2e8"/>
<rect x="145.80" y="225.88" width="42.16" height="9.94" fill="#e2e2e8"/>
<rect x="194.20" y="225.88" width="132.25" height="9.94" fill="#e2e2e8"/>
<rect x="249.13" y="225.88" width="0.94" height="9.94" fill="#f6f6f8"/>
<rect x="88.20" y="225.98" width="3.55" height="9.19" fill="#c9c9d0"/>
<rect x="92.49" y="225.98" width="3.55" height="9.19" fill="#c9c9d0"/>
<rect x="96.78" y="225.98" width="3.55" height="9.19" fill="#c9c9d0"/>
<rect x="101.07" y="225.98" width="3.55" height="9.19" fill="#c9c9d0"/>
<rect x="105.36" y="225.98" width="3.55" height="9.19" fill="#c9c9d0"/>
<rect x="109.65" y="225.98" width="3.55" height="9.19" fill="#c9c9d0"/>
<rect x="113.94" y="225.98" width="3.55" height="9.19" fill="#c9c9d0"/>
<rect x="123.90" y="225.98" width="3.55" height="9.19" fill="#c9c9d0"/>
<rect x="128.19" y="225.98" width="3.55" height="9.19" fill="#c9c9d0"/>
<rect x="132.48" y="225.98" width="3.55" height="9.19" fill="#c9c9d0"/>
<rect x="136.77" y="225.98" width="3.55" height="9.19" fill="#c9c9d0"/>
<rect x="145.80" y="225.98" width="3.55" height="9.19" fill="#c9c9d0"/>
<rect x="150.09" y="225.98" width="3.55" height="9.19" fill="#c9c9d0"/>
<rect x="154.38" y="225.98" width="3.55" height="9.19" fill="#c9c9d0"/>
<rect x="158.67" y="225.98" width="3.55" height="9.19" fill="#c9c9d0"/>
<rect x="162.96" y="225.98" width="3.55" height="9.19" fill="#c9c9d0"/>
<rect x="167.25" y="225.98" width="3.55" height="9.19" fill="#c9c9d0"/>
<rect x="171.54" y="225.98" width="3.55" height="9.19" fill="#c9c9d0"/>
<rect x="175.83" y="225.98" width="3.55" height="9.19" fill="#c9c9d0"/>
<rect x="180.12" y="225.98" width="3.55" height="9.19" fill="#c9c9d0"/>
<rect x="184.41" y="225.98" width="3.55" height="9.19" fill="#c9c9d0"/>
<rect x="194.20" y="225.98" width="3.55" height="9.19" fill="#c9c9d0"/>
<rect x="198.49" y="225.98" width="3.55" height="9.19" fill="#c9c9d0"/>
<rect x="202.78" y="225.98" width="3.55" height="9.19" fill="#c9c9d0"/>
<rect x="207.07" y="225.98" width="3.55" height="9.19" fill="#c9c9d0"/>
<rect x="211.36" y="225.98" width="3.55" height="9.19" fill="#c9c9d0"/>
<rect x="215.65" y="225.98" width="3.55" height="9.19" fill="#c9c9d0"/>
<rect x="219.94" y="225.98" width="3.55" height="9.19" fill="#c9c9d0"/>
<rect x="224.23" y="225.98" width="3.55" height="9.19" fill="#c9c9d0"/>
<rect x="228.52" y="225.98" width="3.55" height="9.19" fill="#c9c9d0"/>
<rect x="232.81" y="225.98" width="3.55" height="9.19" fill="#c9c9d0"/>
<rect x="237.10" y="225.98" width="3.55" height="9.19" fill="#c9c9d0"/>
<rect x="241.39" y="225.98" width="3.55" height="9.19" fill="#c9c9d0"/>
<rect x="245.68" y="225.98" width="3.55" height="9.19" fill="#c9c9d0"/>
<rect x="249.97" y="225.98" width="3.55" height="9.19" fill="#c9c9d0"/>
<rect x="254.26" y="225.98" width="3.55" height="9.19" fill="#c9c9d0"/>
<rect x="258.55" y="225.98" width="3.55" height="9.19" fill="#c9c9d0"/>
<rect x="262.84" y="225.98" width="3.55" height="9.19" fill="#c9c9d0"/>
<rect x="267.13" y="225.98" width="3.55" height="9.19" fill="#c9c9d0"/>
<rect x="271.42" y="225.98" width="3.55" height="9.19" fill="#c9c9d0"/>
<rect x="275.71" y="225.98" width="3.55" height="9.19" fill="#c9c9d0"/>
<rect x="280.00" y="225.98" width="3.55" height="9.19" fill="#c9c9d0"/>
<rect x="284.29" y="225.98" width="3.55" height="9.19" fill="#c9c9d0"/>
<rect x="288.58" y="225.98" width="3.55" height="9.19" fill="#c9c9d0"/>
<rect x="292.87" y="225.98" width="3.55" height="9.19" fill="#c9c9d0"/>
<rect x="297.16" y="225.98" width="3.55" height="9.19" fill="#c9c9d0"/>
<rect x="301.45" y="225.98" width="3.55" height="9.19" fill="#c9c9d0"/>
<rect x="305.74" y="225.98" width="3.55" height="9.19" fill="#c9c9d0"/>
<rect x="310.03" y="225.98" width="3.55" height="9.19" fill="#c9c9d0"/>
<rect x="314.32" y="225.98" width="3.55" height="9.19" fill="#c9c9d0"/>
<rect x="318.61" y="225.98" width="3.55" height="9.19" fill="#c9c9d0"/>
<rect x="322.90" y="225.98" width="3.55" height="9.19" fill="#c9c9d0"/>
<rect x="92.49" y="225.98" width="3.55" height="9.19" fill="#c9c9d0"/>
<text x="94.27" y="232.32" font-size="4.8" text-anchor="middle" font-weight="bold" fill="#1c1c1c">N</text>
<rect x="101.07" y="225.98" width="3.55" height="9.19" fill="#c9c9d0"/>
<text x="102.85" y="232.32" font-size="4.8" text-anchor="middle" font-weight="bold" fill="#1c1c1c">L</text>
<rect x="109.65" y="225.98" width="3.55" height="9.19" fill="#b3102e"/>
<rect x="113.94" y="225.98" width="3.55" height="9.19" fill="#b3102e"/>
<rect x="158.67" y="225.98" width="3.55" height="9.19" fill="#c9c9d0"/>
<text x="160.45" y="232.32" font-size="4.8" text-anchor="middle" font-weight="bold" fill="#1c1c1c">L</text>
<rect x="175.83" y="225.98" width="3.55" height="9.19" fill="#2a4b8c"/>
<rect x="245.68" y="225.98" width="3.55" height="9.19" fill="#c9c9d0"/>
<text x="247.46" y="232.32" font-size="4.8" text-anchor="middle" font-weight="bold" fill="#1c1c1c">L</text>
<rect x="310.03" y="225.98" width="3.55" height="9.19" fill="#c9c9d0"/>
<text x="311.80" y="232.32" font-size="4.8" text-anchor="middle" font-weight="bold" fill="#1c1c1c">L</text>
<rect x="314.32" y="225.98" width="3.55" height="9.19" fill="#c9c9d0"/>
<text x="316.09" y="232.32" font-size="4.8" text-anchor="middle" font-weight="bold" fill="#1c1c1c">L</text>
<text x="84.40" y="233.88" font-size="7.5" text-anchor="end" fill="#1a1a1a" class="lb">RB1</text>
<rect x="338.40" y="225.53" width="6.00" height="8.99" fill="#e4921f"/>
<rect x="344.40" y="225.53" width="3.00" height="8.99" fill="#f0c026"/>
<path d="M337.9 247.0 V157.4 H432.6 V236.5" fill="none" stroke="#111" stroke-width="1.5"/>
<text x="436.60" y="186.20" font-size="11" text-anchor="start" font-weight="bold" fill="#111">Proliferation/</text>
<text x="436.60" y="199.90" font-size="11" text-anchor="start" font-weight="bold" fill="#111">cell cycle</text>
<text x="436.60" y="213.50" font-size="11" text-anchor="start" font-weight="bold" fill="#111">apoptosis</text>
<rect x="88.20" y="250.80" width="29.29" height="9.96" fill="#e2e2e8"/>
<rect x="123.90" y="250.80" width="16.42" height="9.96" fill="#e2e2e8"/>
<rect x="145.80" y="250.80" width="42.16" height="9.96" fill="#e2e2e8"/>
<rect x="194.20" y="250.80" width="132.25" height="9.96" fill="#e2e2e8"/>
<rect x="249.13" y="250.80" width="0.94" height="9.96" fill="#f6f6f8"/>
<rect x="88.20" y="250.90" width="3.55" height="9.21" fill="#c9c9d0"/>
<rect x="92.49" y="250.90" width="3.55" height="9.21" fill="#c9c9d0"/>
<rect x="96.78" y="250.90" width="3.55" height="9.21" fill="#c9c9d0"/>
<rect x="101.07" y="250.90" width="3.55" height="9.21" fill="#c9c9d0"/>
<rect x="105.36" y="250.90" width="3.55" height="9.21" fill="#c9c9d0"/>
<rect x="109.65" y="250.90" width="3.55" height="9.21" fill="#c9c9d0"/>
<rect x="113.94" y="250.90" width="3.55" height="9.21" fill="#c9c9d0"/>
<rect x="123.90" y="250.90" width="3.55" height="9.21" fill="#c9c9d0"/>
<rect x="128.19" y="250.90" width="3.55" height="9.21" fill="#c9c9d0"/>
<rect x="132.48" y="250.90" width="3.55" height="9.21" fill="#c9c9d0"/>
<rect x="136.77" y="250.90" width="3.55" height="9.21" fill="#c9c9d0"/>
<rect x="145.80" y="250.90" width="3.55" height="9.21" fill="#c9c9d0"/>
<rect x="150.09" y="250.90" width="3.55" height="9.21" fill="#c9c9d0"/>
<rect x="154.38" y="250.90" width="3.55" height="9.21" fill="#c9c9d0"/>
<rect x="158.67" y="250.90" width="3.55" height="9.21" fill="#c9c9d0"/>
<rect x="162.96" y="250.90" width="3.55" height="9.21" fill="#c9c9d0"/>
<rect x="167.25" y="250.90" width="3.55" height="9.21" fill="#c9c9d0"/>
<rect x="171.54" y="250.90" width="3.55" height="9.21" fill="#c9c9d0"/>
<rect x="175.83" y="250.90" width="3.55" height="9.21" fill="#c9c9d0"/>
<rect x="180.12" y="250.90" width="3.55" height="9.21" fill="#c9c9d0"/>
<rect x="184.41" y="250.90" width="3.55" height="9.21" fill="#c9c9d0"/>
<rect x="194.20" y="250.90" width="3.55" height="9.21" fill="#c9c9d0"/>
<rect x="198.49" y="250.90" width="3.55" height="9.21" fill="#c9c9d0"/>
<rect x="202.78" y="250.90" width="3.55" height="9.21" fill="#c9c9d0"/>
<rect x="207.07" y="250.90" width="3.55" height="9.21" fill="#c9c9d0"/>
<rect x="211.36" y="250.90" width="3.55" height="9.21" fill="#c9c9d0"/>
<rect x="215.65" y="250.90" width="3.55" height="9.21" fill="#c9c9d0"/>
<rect x="219.94" y="250.90" width="3.55" height="9.21" fill="#c9c9d0"/>
<rect x="224.23" y="250.90" width="3.55" height="9.21" fill="#c9c9d0"/>
<rect x="228.52" y="250.90" width="3.55" height="9.21" fill="#c9c9d0"/>
<rect x="232.81" y="250.90" width="3.55" height="9.21" fill="#c9c9d0"/>
<rect x="237.10" y="250.90" width="3.55" height="9.21" fill="#c9c9d0"/>
<rect x="241.39" y="250.90" width="3.55" height="9.21" fill="#c9c9d0"/>
<rect x="245.68" y="250.90" width="3.55" height="9.21" fill="#c9c9d0"/>
<rect x="249.97" y="250.90" width="3.55" height="9.21" fill="#c9c9d0"/>
<rect x="254.26" y="250.90" width="3.55" height="9.21" fill="#c9c9d0"/>
<rect x="258.55" y="250.90" width="3.55" height="9.21" fill="#c9c9d0"/>
<rect x="262.84" y="250.90" width="3.55" height="9.21" fill="#c9c9d0"/>
<rect x="267.13" y="250.90" width="3.55" height="9.21" fill="#c9c9d0"/>
<rect x="271.42" y="250.90" width="3.55" height="9.21" fill="#c9c9d0"/>
<rect x="275.71" y="250.90" width="3.55" height="9.21" fill="#c9c9d0"/>
<rect x="280.00" y="250.90" width="3.55" height="9.21" fill="#c9c9d0"/>
<rect x="284.29" y="250.90" width="3.55" height="9.21" fill="#c9c9d0"/>
<rect x="288.58" y="250.90" width="3.55" height="9.21" fill="#c9c9d0"/>
<rect x="292.87" y="250.90" width="3.55" height="9.21" fill="#c9c9d0"/>
<rect x="297.16" y="250.90" width="3.55" height="9.21" fill="#c9c9d0"/>
<rect x="301.45" y="250.90" width="3.55" height="9.21" fill="#c9c9d0"/>
<rect x="305.74" y="250.90" width="3.55" height="9.21" fill="#c9c9d0"/>
<rect x="310.03" y="250.90" width="3.55" height="9.21" fill="#c9c9d0"/>
<rect x="314.32" y="250.90" width="3.55" height="9.21" fill="#c9c9d0"/>
<rect x="318.61" y="250.90" width="3.55" height="9.21" fill="#c9c9d0"/>
<rect x="322.90" y="250.90" width="3.55" height="9.21" fill="#c9c9d0"/>
<rect x="88.20" y="250.90" width="3.55" height="9.21" fill="#b3102e"/>
<rect x="109.65" y="250.90" width="3.55" height="9.21" fill="#c9c9d0"/>
<text x="111.43" y="257.25" font-size="4.8" text-anchor="middle" font-weight="bold" fill="#1c1c1c">G</text>
<rect x="123.90" y="250.90" width="3.55" height="4.60" fill="#5aab47"/>
<rect x="123.90" y="255.50" width="3.55" height="4.60" fill="#f2c31e"/>
<rect x="128.19" y="250.90" width="3.55" height="9.21" fill="#5aab47"/>
<text x="129.97" y="257.25" font-size="4.8" text-anchor="middle" font-weight="bold" fill="#1c1c1c">N</text>
<rect x="145.80" y="250.90" width="3.55" height="9.21" fill="#2a4b8c"/>
<rect x="150.09" y="250.90" width="3.55" height="4.60" fill="#2a4b8c"/>
<rect x="150.09" y="255.50" width="3.55" height="4.60" fill="#b3102e"/>
<rect x="154.38" y="250.90" width="3.55" height="9.21" fill="#2a4b8c"/>
<rect x="158.67" y="250.90" width="3.55" height="9.21" fill="#c9c9d0"/>
<text x="160.45" y="257.25" font-size="4.8" text-anchor="middle" font-weight="bold" fill="#1c1c1c">N</text>
<rect x="162.96" y="250.90" width="3.55" height="9.21" fill="#2a4b8c"/>
<rect x="167.25" y="250.90" width="3.55" height="4.60" fill="#f2c31e"/>
<rect x="167.25" y="255.50" width="3.55" height="4.60" fill="#5aab47"/>
<rect x="194.20" y="250.90" width="3.55" height="9.21" fill="#5aab47"/>
<rect x="198.49" y="250.90" width="3.55" height="4.60" fill="#5aab47"/>
<rect x="198.49" y="255.50" width="3.55" height="4.60" fill="#f2c31e"/>
<text x="200.26" y="257.25" font-size="4.8" text-anchor="middle" font-weight="bold" fill="#1c1c1c">N</text>
<rect x="202.78" y="250.90" width="3.55" height="9.21" fill="#2a4b8c"/>
<rect x="207.07" y="250.90" width="3.55" height="4.60" fill="#f2c31e"/>
<rect x="207.07" y="255.50" width="3.55" height="4.60" fill="#5aab47"/>
<rect x="211.36" y="250.90" width="3.55" height="4.60" fill="#2a4b8c"/>
<rect x="211.36" y="255.50" width="3.55" height="4.60" fill="#5aab47"/>
<rect x="215.65" y="250.90" width="3.55" height="4.60" fill="#f2c31e"/>
<rect x="215.65" y="255.50" width="3.55" height="4.60" fill="#2a4b8c"/>
<rect x="219.94" y="250.90" width="3.55" height="9.21" fill="#2a4b8c"/>
<rect x="224.23" y="250.90" width="3.55" height="9.21" fill="#b3102e"/>
<rect x="228.52" y="250.90" width="3.55" height="9.21" fill="#2a4b8c"/>
<rect x="232.81" y="250.90" width="3.55" height="4.60" fill="#f2c31e"/>
<rect x="232.81" y="255.50" width="3.55" height="4.60" fill="#2a4b8c"/>
<rect x="237.10" y="250.90" width="3.55" height="4.60" fill="#b3102e"/>
<rect x="237.10" y="255.50" width="3.55" height="4.60" fill="#2a4b8c"/>
<rect x="241.39" y="250.90" width="3.55" height="9.21" fill="#2a4b8c"/>
<rect x="254.26" y="250.90" width="3.55" height="9.21" fill="#5aab47"/>
<text x="256.03" y="257.25" font-size="4.8" text-anchor="middle" font-weight="bold" fill="#1c1c1c">N</text>
<rect x="262.84" y="250.90" width="3.55" height="9.21" fill="#b3102e"/>
<rect x="271.42" y="250.90" width="3.55" height="4.60" fill="#5aab47"/>
<rect x="271.42" y="255.50" width="3.55" height="4.60" fill="#2a4b8c"/>
<rect x="280.00" y="250.90" width="3.55" height="9.21" fill="#2a4b8c"/>
<rect x="322.90" y="250.90" width="3.55" height="9.21" fill="#c9c9d0"/>
<text x="324.67" y="257.25" font-size="4.8" text-anchor="middle" font-weight="bold" fill="#1c1c1c">N</text>
<text x="84.40" y="258.80" font-size="7.5" text-anchor="end" fill="#1a1a1a" class="lb">ID3</text>
<rect x="338.40" y="250.45" width="3.00" height="9.01" fill="#e4921f"/>
<rect x="341.40" y="250.45" width="6.00" height="9.01" fill="#a8102a"/>
<rect x="347.40" y="250.45" width="15.00" height="9.01" fill="#f0c026"/>
<rect x="362.40" y="250.45" width="48.00" height="9.01" fill="#8f87c5"/>
<rect x="88.20" y="260.66" width="29.29" height="9.96" fill="#e2e2e8"/>
<rect x="123.90" y="260.66" width="16.42" height="9.96" fill="#e2e2e8"/>
<rect x="145.80" y="260.66" width="42.16" height="9.96" fill="#e2e2e8"/>
<rect x="194.20" y="260.66" width="132.25" height="9.96" fill="#e2e2e8"/>
<rect x="249.13" y="260.66" width="0.94" height="9.96" fill="#f6f6f8"/>
<rect x="88.20" y="260.76" width="3.55" height="9.21" fill="#c9c9d0"/>
<rect x="92.49" y="260.76" width="3.55" height="9.21" fill="#c9c9d0"/>
<rect x="96.78" y="260.76" width="3.55" height="9.21" fill="#c9c9d0"/>
<rect x="101.07" y="260.76" width="3.55" height="9.21" fill="#c9c9d0"/>
<rect x="105.36" y="260.76" width="3.55" height="9.21" fill="#c9c9d0"/>
<rect x="109.65" y="260.76" width="3.55" height="9.21" fill="#c9c9d0"/>
<rect x="113.94" y="260.76" width="3.55" height="9.21" fill="#c9c9d0"/>
<rect x="123.90" y="260.76" width="3.55" height="9.21" fill="#c9c9d0"/>
<rect x="128.19" y="260.76" width="3.55" height="9.21" fill="#c9c9d0"/>
<rect x="132.48" y="260.76" width="3.55" height="9.21" fill="#c9c9d0"/>
<rect x="136.77" y="260.76" width="3.55" height="9.21" fill="#c9c9d0"/>
<rect x="145.80" y="260.76" width="3.55" height="9.21" fill="#c9c9d0"/>
<rect x="150.09" y="260.76" width="3.55" height="9.21" fill="#c9c9d0"/>
<rect x="154.38" y="260.76" width="3.55" height="9.21" fill="#c9c9d0"/>
<rect x="158.67" y="260.76" width="3.55" height="9.21" fill="#c9c9d0"/>
<rect x="162.96" y="260.76" width="3.55" height="9.21" fill="#c9c9d0"/>
<rect x="167.25" y="260.76" width="3.55" height="9.21" fill="#c9c9d0"/>
<rect x="171.54" y="260.76" width="3.55" height="9.21" fill="#c9c9d0"/>
<rect x="175.83" y="260.76" width="3.55" height="9.21" fill="#c9c9d0"/>
<rect x="180.12" y="260.76" width="3.55" height="9.21" fill="#c9c9d0"/>
<rect x="184.41" y="260.76" width="3.55" height="9.21" fill="#c9c9d0"/>
<rect x="194.20" y="260.76" width="3.55" height="9.21" fill="#c9c9d0"/>
<rect x="198.49" y="260.76" width="3.55" height="9.21" fill="#c9c9d0"/>
<rect x="202.78" y="260.76" width="3.55" height="9.21" fill="#c9c9d0"/>
<rect x="207.07" y="260.76" width="3.55" height="9.21" fill="#c9c9d0"/>
<rect x="211.36" y="260.76" width="3.55" height="9.21" fill="#c9c9d0"/>
<rect x="215.65" y="260.76" width="3.55" height="9.21" fill="#c9c9d0"/>
<rect x="219.94" y="260.76" width="3.55" height="9.21" fill="#c9c9d0"/>
<rect x="224.23" y="260.76" width="3.55" height="9.21" fill="#c9c9d0"/>
<rect x="228.52" y="260.76" width="3.55" height="9.21" fill="#c9c9d0"/>
<rect x="232.81" y="260.76" width="3.55" height="9.21" fill="#c9c9d0"/>
<rect x="237.10" y="260.76" width="3.55" height="9.21" fill="#c9c9d0"/>
<rect x="241.39" y="260.76" width="3.55" height="9.21" fill="#c9c9d0"/>
<rect x="245.68" y="260.76" width="3.55" height="9.21" fill="#c9c9d0"/>
<rect x="249.97" y="260.76" width="3.55" height="9.21" fill="#c9c9d0"/>
<rect x="254.26" y="260.76" width="3.55" height="9.21" fill="#c9c9d0"/>
<rect x="258.55" y="260.76" width="3.55" height="9.21" fill="#c9c9d0"/>
<rect x="262.84" y="260.76" width="3.55" height="9.21" fill="#c9c9d0"/>
<rect x="267.13" y="260.76" width="3.55" height="9.21" fill="#c9c9d0"/>
<rect x="271.42" y="260.76" width="3.55" height="9.21" fill="#c9c9d0"/>
<rect x="275.71" y="260.76" width="3.55" height="9.21" fill="#c9c9d0"/>
<rect x="280.00" y="260.76" width="3.55" height="9.21" fill="#c9c9d0"/>
<rect x="284.29" y="260.76" width="3.55" height="9.21" fill="#c9c9d0"/>
<rect x="288.58" y="260.76" width="3.55" height="9.21" fill="#c9c9d0"/>
<rect x="292.87" y="260.76" width="3.55" height="9.21" fill="#c9c9d0"/>
<rect x="297.16" y="260.76" width="3.55" height="9.21" fill="#c9c9d0"/>
<rect x="301.45" y="260.76" width="3.55" height="9.21" fill="#c9c9d0"/>
<rect x="305.74" y="260.76" width="3.55" height="9.21" fill="#c9c9d0"/>
<rect x="310.03" y="260.76" width="3.55" height="9.21" fill="#c9c9d0"/>
<rect x="314.32" y="260.76" width="3.55" height="9.21" fill="#c9c9d0"/>
<rect x="318.61" y="260.76" width="3.55" height="9.21" fill="#c9c9d0"/>
<rect x="322.90" y="260.76" width="3.55" height="9.21" fill="#c9c9d0"/>
<rect x="88.20" y="260.76" width="3.55" height="9.21" fill="#c9c9d0"/>
<text x="89.98" y="267.12" font-size="4.8" text-anchor="middle" font-weight="bold" fill="#1c1c1c">G</text>
<rect x="113.94" y="260.76" width="3.55" height="9.21" fill="#2a4b8c"/>
<rect x="154.38" y="260.76" width="3.55" height="9.21" fill="#2a4b8c"/>
<rect x="162.96" y="260.76" width="3.55" height="9.21" fill="#2a4b8c"/>
<rect x="171.54" y="260.76" width="3.55" height="9.21" fill="#2a4b8c"/>
<rect x="211.36" y="260.76" width="3.55" height="9.21" fill="#2a4b8c"/>
<rect x="219.94" y="260.76" width="3.55" height="9.21" fill="#2a4b8c"/>
<rect x="245.68" y="260.76" width="3.55" height="9.21" fill="#c9c9d0"/>
<text x="247.46" y="267.12" font-size="4.8" text-anchor="middle" font-weight="bold" fill="#1c1c1c">G</text>
<rect x="249.97" y="260.76" width="3.55" height="9.21" fill="#c9c9d0"/>
<text x="251.75" y="267.12" font-size="4.8" text-anchor="middle" font-weight="bold" fill="#1c1c1c">G</text>
<rect x="267.13" y="260.76" width="3.55" height="9.21" fill="#2a4b8c"/>
<rect x="275.71" y="260.76" width="3.55" height="9.21" fill="#c9c9d0"/>
<text x="277.48" y="267.12" font-size="4.8" text-anchor="middle" font-weight="bold" fill="#1c1c1c">N</text>
<rect x="284.29" y="260.76" width="3.55" height="9.21" fill="#2a4b8c"/>
<rect x="288.58" y="260.76" width="3.55" height="9.21" fill="#c9c9d0"/>
<text x="290.35" y="267.12" font-size="4.8" text-anchor="middle" font-weight="bold" fill="#1c1c1c">G</text>
<rect x="292.87" y="260.76" width="3.55" height="9.21" fill="#2a4b8c"/>
<rect x="297.16" y="260.76" width="3.55" height="9.21" fill="#2a4b8c"/>
<rect x="310.03" y="260.76" width="3.55" height="9.21" fill="#2a4b8c"/>
<text x="84.40" y="268.66" font-size="7.5" text-anchor="end" fill="#1a1a1a" class="lb">TCF3</text>
<rect x="338.40" y="260.31" width="12.00" height="9.01" fill="#f0c026"/>
<rect x="350.40" y="260.31" width="21.00" height="9.01" fill="#8f87c5"/>
<rect x="88.20" y="270.52" width="29.29" height="9.96" fill="#e2e2e8"/>
<rect x="123.90" y="270.52" width="16.42" height="9.96" fill="#e2e2e8"/>
<rect x="145.80" y="270.52" width="42.16" height="9.96" fill="#e2e2e8"/>
<rect x="194.20" y="270.52" width="132.25" height="9.96" fill="#e2e2e8"/>
<rect x="249.13" y="270.52" width="0.94" height="9.96" fill="#f6f6f8"/>
<rect x="88.20" y="270.62" width="3.55" height="9.21" fill="#c9c9d0"/>
<rect x="92.49" y="270.62" width="3.55" height="9.21" fill="#c9c9d0"/>
<rect x="96.78" y="270.62" width="3.55" height="9.21" fill="#c9c9d0"/>
<rect x="101.07" y="270.62" width="3.55" height="9.21" fill="#c9c9d0"/>
<rect x="105.36" y="270.62" width="3.55" height="9.21" fill="#c9c9d0"/>
<rect x="109.65" y="270.62" width="3.55" height="9.21" fill="#c9c9d0"/>
<rect x="113.94" y="270.62" width="3.55" height="9.21" fill="#c9c9d0"/>
<rect x="123.90" y="270.62" width="3.55" height="9.21" fill="#c9c9d0"/>
<rect x="128.19" y="270.62" width="3.55" height="9.21" fill="#c9c9d0"/>
<rect x="132.48" y="270.62" width="3.55" height="9.21" fill="#c9c9d0"/>
<rect x="136.77" y="270.62" width="3.55" height="9.21" fill="#c9c9d0"/>
<rect x="145.80" y="270.62" width="3.55" height="9.21" fill="#c9c9d0"/>
<rect x="150.09" y="270.62" width="3.55" height="9.21" fill="#c9c9d0"/>
<rect x="154.38" y="270.62" width="3.55" height="9.21" fill="#c9c9d0"/>
<rect x="158.67" y="270.62" width="3.55" height="9.21" fill="#c9c9d0"/>
<rect x="162.96" y="270.62" width="3.55" height="9.21" fill="#c9c9d0"/>
<rect x="167.25" y="270.62" width="3.55" height="9.21" fill="#c9c9d0"/>
<rect x="171.54" y="270.62" width="3.55" height="9.21" fill="#c9c9d0"/>
<rect x="175.83" y="270.62" width="3.55" height="9.21" fill="#c9c9d0"/>
<rect x="180.12" y="270.62" width="3.55" height="9.21" fill="#c9c9d0"/>
<rect x="184.41" y="270.62" width="3.55" height="9.21" fill="#c9c9d0"/>
<rect x="194.20" y="270.62" width="3.55" height="9.21" fill="#c9c9d0"/>
<rect x="198.49" y="270.62" width="3.55" height="9.21" fill="#c9c9d0"/>
<rect x="202.78" y="270.62" width="3.55" height="9.21" fill="#c9c9d0"/>
<rect x="207.07" y="270.62" width="3.55" height="9.21" fill="#c9c9d0"/>
<rect x="211.36" y="270.62" width="3.55" height="9.21" fill="#c9c9d0"/>
<rect x="215.65" y="270.62" width="3.55" height="9.21" fill="#c9c9d0"/>
<rect x="219.94" y="270.62" width="3.55" height="9.21" fill="#c9c9d0"/>
<rect x="224.23" y="270.62" width="3.55" height="9.21" fill="#c9c9d0"/>
<rect x="228.52" y="270.62" width="3.55" height="9.21" fill="#c9c9d0"/>
<rect x="232.81" y="270.62" width="3.55" height="9.21" fill="#c9c9d0"/>
<rect x="237.10" y="270.62" width="3.55" height="9.21" fill="#c9c9d0"/>
<rect x="241.39" y="270.62" width="3.55" height="9.21" fill="#c9c9d0"/>
<rect x="245.68" y="270.62" width="3.55" height="9.21" fill="#c9c9d0"/>
<rect x="249.97" y="270.62" width="3.55" height="9.21" fill="#c9c9d0"/>
<rect x="254.26" y="270.62" width="3.55" height="9.21" fill="#c9c9d0"/>
<rect x="258.55" y="270.62" width="3.55" height="9.21" fill="#c9c9d0"/>
<rect x="262.84" y="270.62" width="3.55" height="9.21" fill="#c9c9d0"/>
<rect x="267.13" y="270.62" width="3.55" height="9.21" fill="#c9c9d0"/>
<rect x="271.42" y="270.62" width="3.55" height="9.21" fill="#c9c9d0"/>
<rect x="275.71" y="270.62" width="3.55" height="9.21" fill="#c9c9d0"/>
<rect x="280.00" y="270.62" width="3.55" height="9.21" fill="#c9c9d0"/>
<rect x="284.29" y="270.62" width="3.55" height="9.21" fill="#c9c9d0"/>
<rect x="288.58" y="270.62" width="3.55" height="9.21" fill="#c9c9d0"/>
<rect x="292.87" y="270.62" width="3.55" height="9.21" fill="#c9c9d0"/>
<rect x="297.16" y="270.62" width="3.55" height="9.21" fill="#c9c9d0"/>
<rect x="301.45" y="270.62" width="3.55" height="9.21" fill="#c9c9d0"/>
<rect x="305.74" y="270.62" width="3.55" height="9.21" fill="#c9c9d0"/>
<rect x="310.03" y="270.62" width="3.55" height="9.21" fill="#c9c9d0"/>
<rect x="314.32" y="270.62" width="3.55" height="9.21" fill="#c9c9d0"/>
<rect x="318.61" y="270.62" width="3.55" height="9.21" fill="#c9c9d0"/>
<rect x="322.90" y="270.62" width="3.55" height="9.21" fill="#c9c9d0"/>
<rect x="101.07" y="270.62" width="3.55" height="9.21" fill="#c9c9d0"/>
<text x="102.85" y="276.98" font-size="4.8" text-anchor="middle" font-weight="bold" fill="#1c1c1c">L</text>
<rect x="109.65" y="270.62" width="3.55" height="9.21" fill="#c9c9d0"/>
<text x="111.43" y="276.98" font-size="4.8" text-anchor="middle" font-weight="bold" fill="#1c1c1c">L</text>
<rect x="136.77" y="270.62" width="3.55" height="9.21" fill="#2a4b8c"/>
<rect x="198.49" y="270.62" width="3.55" height="9.21" fill="#2a4b8c"/>
<rect x="202.78" y="270.62" width="3.55" height="9.21" fill="#2a4b8c"/>
<rect x="228.52" y="270.62" width="3.55" height="9.21" fill="#2a4b8c"/>
<rect x="245.68" y="270.62" width="3.55" height="9.21" fill="#c9c9d0"/>
<text x="247.46" y="276.98" font-size="4.8" text-anchor="middle" font-weight="bold" fill="#1c1c1c">N</text>
<rect x="314.32" y="270.62" width="3.55" height="9.21" fill="#2a4b8c"/>
<text x="84.40" y="278.52" font-size="7.5" text-anchor="end" fill="#1a1a1a" class="lb">PLCE1</text>
<rect x="338.40" y="270.17" width="3.00" height="9.01" fill="#a8102a"/>
<rect x="341.40" y="270.17" width="12.00" height="9.01" fill="#8f87c5"/>
<rect x="88.20" y="280.38" width="29.29" height="9.96" fill="#e2e2e8"/>
<rect x="123.90" y="280.38" width="16.42" height="9.96" fill="#e2e2e8"/>
<rect x="145.80" y="280.38" width="42.16" height="9.96" fill="#e2e2e8"/>
<rect x="194.20" y="280.38" width="132.25" height="9.96" fill="#e2e2e8"/>
<rect x="249.13" y="280.38" width="0.94" height="9.96" fill="#f6f6f8"/>
<rect x="88.20" y="280.48" width="3.55" height="9.21" fill="#c9c9d0"/>
<rect x="92.49" y="280.48" width="3.55" height="9.21" fill="#c9c9d0"/>
<rect x="96.78" y="280.48" width="3.55" height="9.21" fill="#c9c9d0"/>
<rect x="101.07" y="280.48" width="3.55" height="9.21" fill="#c9c9d0"/>
<rect x="105.36" y="280.48" width="3.55" height="9.21" fill="#c9c9d0"/>
<rect x="109.65" y="280.48" width="3.55" height="9.21" fill="#c9c9d0"/>
<rect x="113.94" y="280.48" width="3.55" height="9.21" fill="#c9c9d0"/>
<rect x="123.90" y="280.48" width="3.55" height="9.21" fill="#c9c9d0"/>
<rect x="128.19" y="280.48" width="3.55" height="9.21" fill="#c9c9d0"/>
<rect x="132.48" y="280.48" width="3.55" height="9.21" fill="#c9c9d0"/>
<rect x="136.77" y="280.48" width="3.55" height="9.21" fill="#c9c9d0"/>
<rect x="145.80" y="280.48" width="3.55" height="9.21" fill="#c9c9d0"/>
<rect x="150.09" y="280.48" width="3.55" height="9.21" fill="#c9c9d0"/>
<rect x="154.38" y="280.48" width="3.55" height="9.21" fill="#c9c9d0"/>
<rect x="158.67" y="280.48" width="3.55" height="9.21" fill="#c9c9d0"/>
<rect x="162.96" y="280.48" width="3.55" height="9.21" fill="#c9c9d0"/>
<rect x="167.25" y="280.48" width="3.55" height="9.21" fill="#c9c9d0"/>
<rect x="171.54" y="280.48" width="3.55" height="9.21" fill="#c9c9d0"/>
<rect x="175.83" y="280.48" width="3.55" height="9.21" fill="#c9c9d0"/>
<rect x="180.12" y="280.48" width="3.55" height="9.21" fill="#c9c9d0"/>
<rect x="184.41" y="280.48" width="3.55" height="9.21" fill="#c9c9d0"/>
<rect x="194.20" y="280.48" width="3.55" height="9.21" fill="#c9c9d0"/>
<rect x="198.49" y="280.48" width="3.55" height="9.21" fill="#c9c9d0"/>
<rect x="202.78" y="280.48" width="3.55" height="9.21" fill="#c9c9d0"/>
<rect x="207.07" y="280.48" width="3.55" height="9.21" fill="#c9c9d0"/>
<rect x="211.36" y="280.48" width="3.55" height="9.21" fill="#c9c9d0"/>
<rect x="215.65" y="280.48" width="3.55" height="9.21" fill="#c9c9d0"/>
<rect x="219.94" y="280.48" width="3.55" height="9.21" fill="#c9c9d0"/>
<rect x="224.23" y="280.48" width="3.55" height="9.21" fill="#c9c9d0"/>
<rect x="228.52" y="280.48" width="3.55" height="9.21" fill="#c9c9d0"/>
<rect x="232.81" y="280.48" width="3.55" height="9.21" fill="#c9c9d0"/>
<rect x="237.10" y="280.48" width="3.55" height="9.21" fill="#c9c9d0"/>
<rect x="241.39" y="280.48" width="3.55" height="9.21" fill="#c9c9d0"/>
<rect x="245.68" y="280.48" width="3.55" height="9.21" fill="#c9c9d0"/>
<rect x="249.97" y="280.48" width="3.55" height="9.21" fill="#c9c9d0"/>
<rect x="254.26" y="280.48" width="3.55" height="9.21" fill="#c9c9d0"/>
<rect x="258.55" y="280.48" width="3.55" height="9.21" fill="#c9c9d0"/>
<rect x="262.84" y="280.48" width="3.55" height="9.21" fill="#c9c9d0"/>
<rect x="267.13" y="280.48" width="3.55" height="9.21" fill="#c9c9d0"/>
<rect x="271.42" y="280.48" width="3.55" height="9.21" fill="#c9c9d0"/>
<rect x="275.71" y="280.48" width="3.55" height="9.21" fill="#c9c9d0"/>
<rect x="280.00" y="280.48" width="3.55" height="9.21" fill="#c9c9d0"/>
<rect x="284.29" y="280.48" width="3.55" height="9.21" fill="#c9c9d0"/>
<rect x="288.58" y="280.48" width="3.55" height="9.21" fill="#c9c9d0"/>
<rect x="292.87" y="280.48" width="3.55" height="9.21" fill="#c9c9d0"/>
<rect x="297.16" y="280.48" width="3.55" height="9.21" fill="#c9c9d0"/>
<rect x="301.45" y="280.48" width="3.55" height="9.21" fill="#c9c9d0"/>
<rect x="305.74" y="280.48" width="3.55" height="9.21" fill="#c9c9d0"/>
<rect x="310.03" y="280.48" width="3.55" height="9.21" fill="#c9c9d0"/>
<rect x="314.32" y="280.48" width="3.55" height="9.21" fill="#c9c9d0"/>
<rect x="318.61" y="280.48" width="3.55" height="9.21" fill="#c9c9d0"/>
<rect x="322.90" y="280.48" width="3.55" height="9.21" fill="#c9c9d0"/>
<rect x="88.20" y="280.48" width="3.55" height="9.21" fill="#2a4b8c"/>
<rect x="101.07" y="280.48" width="3.55" height="9.21" fill="#c9c9d0"/>
<text x="102.85" y="286.84" font-size="4.8" text-anchor="middle" font-weight="bold" fill="#1c1c1c">L</text>
<rect x="109.65" y="280.48" width="3.55" height="9.21" fill="#c9c9d0"/>
<text x="111.43" y="286.84" font-size="4.8" text-anchor="middle" font-weight="bold" fill="#1c1c1c">L</text>
<rect x="150.09" y="280.48" width="3.55" height="9.21" fill="#27575f"/>
<rect x="154.38" y="280.48" width="3.55" height="9.21" fill="#f2c31e"/>
<rect x="219.94" y="280.48" width="3.55" height="9.21" fill="#c9c9d0"/>
<text x="221.72" y="286.84" font-size="4.8" text-anchor="middle" font-weight="bold" fill="#1c1c1c">G</text>
<rect x="224.23" y="280.48" width="3.55" height="9.21" fill="#2a4b8c"/>
<rect x="228.52" y="280.48" width="3.55" height="9.21" fill="#2a4b8c"/>
<rect x="245.68" y="280.48" width="3.55" height="9.21" fill="#c9c9d0"/>
<text x="247.46" y="286.84" font-size="4.8" text-anchor="middle" font-weight="bold" fill="#1c1c1c">N</text>
<text x="84.40" y="288.38" font-size="7.5" text-anchor="end" fill="#1a1a1a" class="lb">PTEN</text>
<rect x="338.40" y="280.03" width="9.00" height="9.01" fill="#f0c026"/>
<rect x="347.40" y="280.03" width="6.00" height="9.01" fill="#8f87c5"/>
<rect x="88.20" y="290.24" width="29.29" height="9.96" fill="#e2e2e8"/>
<rect x="123.90" y="290.24" width="16.42" height="9.96" fill="#e2e2e8"/>
<rect x="145.80" y="290.24" width="42.16" height="9.96" fill="#e2e2e8"/>
<rect x="194.20" y="290.24" width="132.25" height="9.96" fill="#e2e2e8"/>
<rect x="249.13" y="290.24" width="0.94" height="9.96" fill="#f6f6f8"/>
<rect x="88.20" y="290.34" width="3.55" height="9.21" fill="#c9c9d0"/>
<rect x="92.49" y="290.34" width="3.55" height="9.21" fill="#c9c9d0"/>
<rect x="96.78" y="290.34" width="3.55" height="9.21" fill="#c9c9d0"/>
<rect x="101.07" y="290.34" width="3.55" height="9.21" fill="#c9c9d0"/>
<rect x="105.36" y="290.34" width="3.55" height="9.21" fill="#c9c9d0"/>
<rect x="109.65" y="290.34" width="3.55" height="9.21" fill="#c9c9d0"/>
<rect x="113.94" y="290.34" width="3.55" height="9.21" fill="#c9c9d0"/>
<rect x="123.90" y="290.34" width="3.55" height="9.21" fill="#c9c9d0"/>
<rect x="128.19" y="290.34" width="3.55" height="9.21" fill="#c9c9d0"/>
<rect x="132.48" y="290.34" width="3.55" height="9.21" fill="#c9c9d0"/>
<rect x="136.77" y="290.34" width="3.55" height="9.21" fill="#c9c9d0"/>
<rect x="145.80" y="290.34" width="3.55" height="9.21" fill="#c9c9d0"/>
<rect x="150.09" y="290.34" width="3.55" height="9.21" fill="#c9c9d0"/>
<rect x="154.38" y="290.34" width="3.55" height="9.21" fill="#c9c9d0"/>
<rect x="158.67" y="290.34" width="3.55" height="9.21" fill="#c9c9d0"/>
<rect x="162.96" y="290.34" width="3.55" height="9.21" fill="#c9c9d0"/>
<rect x="167.25" y="290.34" width="3.55" height="9.21" fill="#c9c9d0"/>
<rect x="171.54" y="290.34" width="3.55" height="9.21" fill="#c9c9d0"/>
<rect x="175.83" y="290.34" width="3.55" height="9.21" fill="#c9c9d0"/>
<rect x="180.12" y="290.34" width="3.55" height="9.21" fill="#c9c9d0"/>
<rect x="184.41" y="290.34" width="3.55" height="9.21" fill="#c9c9d0"/>
<rect x="194.20" y="290.34" width="3.55" height="9.21" fill="#c9c9d0"/>
<rect x="198.49" y="290.34" width="3.55" height="9.21" fill="#c9c9d0"/>
<rect x="202.78" y="290.34" width="3.55" height="9.21" fill="#c9c9d0"/>
<rect x="207.07" y="290.34" width="3.55" height="9.21" fill="#c9c9d0"/>
<rect x="211.36" y="290.34" width="3.55" height="9.21" fill="#c9c9d0"/>
<rect x="215.65" y="290.34" width="3.55" height="9.21" fill="#c9c9d0"/>
<rect x="219.94" y="290.34" width="3.55" height="9.21" fill="#c9c9d0"/>
<rect x="224.23" y="290.34" width="3.55" height="9.21" fill="#c9c9d0"/>
<rect x="228.52" y="290.34" width="3.55" height="9.21" fill="#c9c9d0"/>
<rect x="232.81" y="290.34" width="3.55" height="9.21" fill="#c9c9d0"/>
<rect x="237.10" y="290.34" width="3.55" height="9.21" fill="#c9c9d0"/>
<rect x="241.39" y="290.34" width="3.55" height="9.21" fill="#c9c9d0"/>
<rect x="245.68" y="290.34" width="3.55" height="9.21" fill="#c9c9d0"/>
<rect x="249.97" y="290.34" width="3.55" height="9.21" fill="#c9c9d0"/>
<rect x="254.26" y="290.34" width="3.55" height="9.21" fill="#c9c9d0"/>
<rect x="258.55" y="290.34" width="3.55" height="9.21" fill="#c9c9d0"/>
<rect x="262.84" y="290.34" width="3.55" height="9.21" fill="#c9c9d0"/>
<rect x="267.13" y="290.34" width="3.55" height="9.21" fill="#c9c9d0"/>
<rect x="271.42" y="290.34" width="3.55" height="9.21" fill="#c9c9d0"/>
<rect x="275.71" y="290.34" width="3.55" height="9.21" fill="#c9c9d0"/>
<rect x="280.00" y="290.34" width="3.55" height="9.21" fill="#c9c9d0"/>
<rect x="284.29" y="290.34" width="3.55" height="9.21" fill="#c9c9d0"/>
<rect x="288.58" y="290.34" width="3.55" height="9.21" fill="#c9c9d0"/>
<rect x="292.87" y="290.34" width="3.55" height="9.21" fill="#c9c9d0"/>
<rect x="297.16" y="290.34" width="3.55" height="9.21" fill="#c9c9d0"/>
<rect x="301.45" y="290.34" width="3.55" height="9.21" fill="#c9c9d0"/>
<rect x="305.74" y="290.34" width="3.55" height="9.21" fill="#c9c9d0"/>
<rect x="310.03" y="290.34" width="3.55" height="9.21" fill="#c9c9d0"/>
<rect x="314.32" y="290.34" width="3.55" height="9.21" fill="#c9c9d0"/>
<rect x="318.61" y="290.34" width="3.55" height="9.21" fill="#c9c9d0"/>
<rect x="322.90" y="290.34" width="3.55" height="9.21" fill="#c9c9d0"/>
<rect x="88.20" y="290.34" width="3.55" height="9.21" fill="#b3102e"/>
<rect x="101.07" y="290.34" width="3.55" height="9.21" fill="#c9c9d0"/>
<text x="102.85" y="296.70" font-size="4.8" text-anchor="middle" font-weight="bold" fill="#1c1c1c">G</text>
<rect x="113.94" y="290.34" width="3.55" height="9.21" fill="#c9c9d0"/>
<text x="115.72" y="296.70" font-size="4.8" text-anchor="middle" font-weight="bold" fill="#1c1c1c">G</text>
<rect x="132.48" y="290.34" width="3.55" height="9.21" fill="#2a4b8c"/>
<rect x="180.12" y="290.34" width="3.55" height="9.21" fill="#2a4b8c"/>
<rect x="245.68" y="290.34" width="3.55" height="9.21" fill="#c9c9d0"/>
<text x="247.46" y="296.70" font-size="4.8" text-anchor="middle" font-weight="bold" fill="#1c1c1c">G</text>
<rect x="301.45" y="290.34" width="3.55" height="9.21" fill="#c9c9d0"/>
<text x="303.22" y="296.70" font-size="4.8" text-anchor="middle" font-weight="bold" fill="#1c1c1c">G</text>
<text x="84.40" y="298.24" font-size="7.5" text-anchor="end" fill="#1a1a1a" class="lb">TCF4</text>
<rect x="338.40" y="289.89" width="1.50" height="9.01" fill="#e4921f"/>
<rect x="339.90" y="289.89" width="4.50" height="9.01" fill="#a8102a"/>
<rect x="344.40" y="289.89" width="3.00" height="9.01" fill="#f0c026"/>
<rect x="88.20" y="300.10" width="29.29" height="9.96" fill="#e2e2e8"/>
<rect x="123.90" y="300.10" width="16.42" height="9.96" fill="#e2e2e8"/>
<rect x="145.80" y="300.10" width="42.16" height="9.96" fill="#e2e2e8"/>
<rect x="194.20" y="300.10" width="132.25" height="9.96" fill="#e2e2e8"/>
<rect x="249.13" y="300.10" width="0.94" height="9.96" fill="#f6f6f8"/>
<rect x="88.20" y="300.20" width="3.55" height="9.21" fill="#c9c9d0"/>
<rect x="92.49" y="300.20" width="3.55" height="9.21" fill="#c9c9d0"/>
<rect x="96.78" y="300.20" width="3.55" height="9.21" fill="#c9c9d0"/>
<rect x="101.07" y="300.20" width="3.55" height="9.21" fill="#c9c9d0"/>
<rect x="105.36" y="300.20" width="3.55" height="9.21" fill="#c9c9d0"/>
<rect x="109.65" y="300.20" width="3.55" height="9.21" fill="#c9c9d0"/>
<rect x="113.94" y="300.20" width="3.55" height="9.21" fill="#c9c9d0"/>
<rect x="123.90" y="300.20" width="3.55" height="9.21" fill="#c9c9d0"/>
<rect x="128.19" y="300.20" width="3.55" height="9.21" fill="#c9c9d0"/>
<rect x="132.48" y="300.20" width="3.55" height="9.21" fill="#c9c9d0"/>
<rect x="136.77" y="300.20" width="3.55" height="9.21" fill="#c9c9d0"/>
<rect x="145.80" y="300.20" width="3.55" height="9.21" fill="#c9c9d0"/>
<rect x="150.09" y="300.20" width="3.55" height="9.21" fill="#c9c9d0"/>
<rect x="154.38" y="300.20" width="3.55" height="9.21" fill="#c9c9d0"/>
<rect x="158.67" y="300.20" width="3.55" height="9.21" fill="#c9c9d0"/>
<rect x="162.96" y="300.20" width="3.55" height="9.21" fill="#c9c9d0"/>
<rect x="167.25" y="300.20" width="3.55" height="9.21" fill="#c9c9d0"/>
<rect x="171.54" y="300.20" width="3.55" height="9.21" fill="#c9c9d0"/>
<rect x="175.83" y="300.20" width="3.55" height="9.21" fill="#c9c9d0"/>
<rect x="180.12" y="300.20" width="3.55" height="9.21" fill="#c9c9d0"/>
<rect x="184.41" y="300.20" width="3.55" height="9.21" fill="#c9c9d0"/>
<rect x="194.20" y="300.20" width="3.55" height="9.21" fill="#c9c9d0"/>
<rect x="198.49" y="300.20" width="3.55" height="9.21" fill="#c9c9d0"/>
<rect x="202.78" y="300.20" width="3.55" height="9.21" fill="#c9c9d0"/>
<rect x="207.07" y="300.20" width="3.55" height="9.21" fill="#c9c9d0"/>
<rect x="211.36" y="300.20" width="3.55" height="9.21" fill="#c9c9d0"/>
<rect x="215.65" y="300.20" width="3.55" height="9.21" fill="#c9c9d0"/>
<rect x="219.94" y="300.20" width="3.55" height="9.21" fill="#c9c9d0"/>
<rect x="224.23" y="300.20" width="3.55" height="9.21" fill="#c9c9d0"/>
<rect x="228.52" y="300.20" width="3.55" height="9.21" fill="#c9c9d0"/>
<rect x="232.81" y="300.20" width="3.55" height="9.21" fill="#c9c9d0"/>
<rect x="237.10" y="300.20" width="3.55" height="9.21" fill="#c9c9d0"/>
<rect x="241.39" y="300.20" width="3.55" height="9.21" fill="#c9c9d0"/>
<rect x="245.68" y="300.20" width="3.55" height="9.21" fill="#c9c9d0"/>
<rect x="249.97" y="300.20" width="3.55" height="9.21" fill="#c9c9d0"/>
<rect x="254.26" y="300.20" width="3.55" height="9.21" fill="#c9c9d0"/>
<rect x="258.55" y="300.20" width="3.55" height="9.21" fill="#c9c9d0"/>
<rect x="262.84" y="300.20" width="3.55" height="9.21" fill="#c9c9d0"/>
<rect x="267.13" y="300.20" width="3.55" height="9.21" fill="#c9c9d0"/>
<rect x="271.42" y="300.20" width="3.55" height="9.21" fill="#c9c9d0"/>
<rect x="275.71" y="300.20" width="3.55" height="9.21" fill="#c9c9d0"/>
<rect x="280.00" y="300.20" width="3.55" height="9.21" fill="#c9c9d0"/>
<rect x="284.29" y="300.20" width="3.55" height="9.21" fill="#c9c9d0"/>
<rect x="288.58" y="300.20" width="3.55" height="9.21" fill="#c9c9d0"/>
<rect x="292.87" y="300.20" width="3.55" height="9.21" fill="#c9c9d0"/>
<rect x="297.16" y="300.20" width="3.55" height="9.21" fill="#c9c9d0"/>
<rect x="301.45" y="300.20" width="3.55" height="9.21" fill="#c9c9d0"/>
<rect x="305.74" y="300.20" width="3.55" height="9.21" fill="#c9c9d0"/>
<rect x="310.03" y="300.20" width="3.55" height="9.21" fill="#c9c9d0"/>
<rect x="314.32" y="300.20" width="3.55" height="9.21" fill="#c9c9d0"/>
<rect x="318.61" y="300.20" width="3.55" height="9.21" fill="#c9c9d0"/>
<rect x="322.90" y="300.20" width="3.55" height="9.21" fill="#c9c9d0"/>
<rect x="109.65" y="300.20" width="3.55" height="9.21" fill="#c9c9d0"/>
<text x="111.43" y="306.56" font-size="4.8" text-anchor="middle" font-weight="bold" fill="#1c1c1c">G</text>
<rect x="128.19" y="300.20" width="3.55" height="9.21" fill="#c9c9d0"/>
<text x="129.97" y="306.56" font-size="4.8" text-anchor="middle" font-weight="bold" fill="#1c1c1c">N</text>
<rect x="145.80" y="300.20" width="3.55" height="9.21" fill="#2a4b8c"/>
<rect x="154.38" y="300.20" width="3.55" height="9.21" fill="#2a4b8c"/>
<rect x="198.49" y="300.20" width="3.55" height="9.21" fill="#c9c9d0"/>
<text x="200.26" y="306.56" font-size="4.8" text-anchor="middle" font-weight="bold" fill="#1c1c1c">N</text>
<rect x="254.26" y="300.20" width="3.55" height="9.21" fill="#c9c9d0"/>
<text x="256.03" y="306.56" font-size="4.8" text-anchor="middle" font-weight="bold" fill="#1c1c1c">N</text>
<rect x="314.32" y="300.20" width="3.55" height="9.21" fill="#2a4b8c"/>
<rect x="322.90" y="300.20" width="3.55" height="9.21" fill="#c9c9d0"/>
<text x="324.67" y="306.56" font-size="4.8" text-anchor="middle" font-weight="bold" fill="#1c1c1c">N</text>
<text x="84.40" y="308.10" font-size="7.5" text-anchor="end" fill="#1a1a1a" class="lb">MTOR</text>
<rect x="338.40" y="299.75" width="6.00" height="9.01" fill="#f0c026"/>
<rect x="344.40" y="299.75" width="3.00" height="9.01" fill="#8f87c5"/>
<rect x="88.20" y="309.96" width="29.29" height="9.96" fill="#e2e2e8"/>
<rect x="123.90" y="309.96" width="16.42" height="9.96" fill="#e2e2e8"/>
<rect x="145.80" y="309.96" width="42.16" height="9.96" fill="#e2e2e8"/>
<rect x="194.20" y="309.96" width="132.25" height="9.96" fill="#e2e2e8"/>
<rect x="249.13" y="309.96" width="0.94" height="9.96" fill="#f6f6f8"/>
<rect x="88.20" y="310.06" width="3.55" height="9.21" fill="#c9c9d0"/>
<rect x="92.49" y="310.06" width="3.55" height="9.21" fill="#c9c9d0"/>
<rect x="96.78" y="310.06" width="3.55" height="9.21" fill="#c9c9d0"/>
<rect x="101.07" y="310.06" width="3.55" height="9.21" fill="#c9c9d0"/>
<rect x="105.36" y="310.06" width="3.55" height="9.21" fill="#c9c9d0"/>
<rect x="109.65" y="310.06" width="3.55" height="9.21" fill="#c9c9d0"/>
<rect x="113.94" y="310.06" width="3.55" height="9.21" fill="#c9c9d0"/>
<rect x="123.90" y="310.06" width="3.55" height="9.21" fill="#c9c9d0"/>
<rect x="128.19" y="310.06" width="3.55" height="9.21" fill="#c9c9d0"/>
<rect x="132.48" y="310.06" width="3.55" height="9.21" fill="#c9c9d0"/>
<rect x="136.77" y="310.06" width="3.55" height="9.21" fill="#c9c9d0"/>
<rect x="145.80" y="310.06" width="3.55" height="9.21" fill="#c9c9d0"/>
<rect x="150.09" y="310.06" width="3.55" height="9.21" fill="#c9c9d0"/>
<rect x="154.38" y="310.06" width="3.55" height="9.21" fill="#c9c9d0"/>
<rect x="158.67" y="310.06" width="3.55" height="9.21" fill="#c9c9d0"/>
<rect x="162.96" y="310.06" width="3.55" height="9.21" fill="#c9c9d0"/>
<rect x="167.25" y="310.06" width="3.55" height="9.21" fill="#c9c9d0"/>
<rect x="171.54" y="310.06" width="3.55" height="9.21" fill="#c9c9d0"/>
<rect x="175.83" y="310.06" width="3.55" height="9.21" fill="#c9c9d0"/>
<rect x="180.12" y="310.06" width="3.55" height="9.21" fill="#c9c9d0"/>
<rect x="184.41" y="310.06" width="3.55" height="9.21" fill="#c9c9d0"/>
<rect x="194.20" y="310.06" width="3.55" height="9.21" fill="#c9c9d0"/>
<rect x="198.49" y="310.06" width="3.55" height="9.21" fill="#c9c9d0"/>
<rect x="202.78" y="310.06" width="3.55" height="9.21" fill="#c9c9d0"/>
<rect x="207.07" y="310.06" width="3.55" height="9.21" fill="#c9c9d0"/>
<rect x="211.36" y="310.06" width="3.55" height="9.21" fill="#c9c9d0"/>
<rect x="215.65" y="310.06" width="3.55" height="9.21" fill="#c9c9d0"/>
<rect x="219.94" y="310.06" width="3.55" height="9.21" fill="#c9c9d0"/>
<rect x="224.23" y="310.06" width="3.55" height="9.21" fill="#c9c9d0"/>
<rect x="228.52" y="310.06" width="3.55" height="9.21" fill="#c9c9d0"/>
<rect x="232.81" y="310.06" width="3.55" height="9.21" fill="#c9c9d0"/>
<rect x="237.10" y="310.06" width="3.55" height="9.21" fill="#c9c9d0"/>
<rect x="241.39" y="310.06" width="3.55" height="9.21" fill="#c9c9d0"/>
<rect x="245.68" y="310.06" width="3.55" height="9.21" fill="#c9c9d0"/>
<rect x="249.97" y="310.06" width="3.55" height="9.21" fill="#c9c9d0"/>
<rect x="254.26" y="310.06" width="3.55" height="9.21" fill="#c9c9d0"/>
<rect x="258.55" y="310.06" width="3.55" height="9.21" fill="#c9c9d0"/>
<rect x="262.84" y="310.06" width="3.55" height="9.21" fill="#c9c9d0"/>
<rect x="267.13" y="310.06" width="3.55" height="9.21" fill="#c9c9d0"/>
<rect x="271.42" y="310.06" width="3.55" height="9.21" fill="#c9c9d0"/>
<rect x="275.71" y="310.06" width="3.55" height="9.21" fill="#c9c9d0"/>
<rect x="280.00" y="310.06" width="3.55" height="9.21" fill="#c9c9d0"/>
<rect x="284.29" y="310.06" width="3.55" height="9.21" fill="#c9c9d0"/>
<rect x="288.58" y="310.06" width="3.55" height="9.21" fill="#c9c9d0"/>
<rect x="292.87" y="310.06" width="3.55" height="9.21" fill="#c9c9d0"/>
<rect x="297.16" y="310.06" width="3.55" height="9.21" fill="#c9c9d0"/>
<rect x="301.45" y="310.06" width="3.55" height="9.21" fill="#c9c9d0"/>
<rect x="305.74" y="310.06" width="3.55" height="9.21" fill="#c9c9d0"/>
<rect x="310.03" y="310.06" width="3.55" height="9.21" fill="#c9c9d0"/>
<rect x="314.32" y="310.06" width="3.55" height="9.21" fill="#c9c9d0"/>
<rect x="318.61" y="310.06" width="3.55" height="9.21" fill="#c9c9d0"/>
<rect x="322.90" y="310.06" width="3.55" height="9.21" fill="#c9c9d0"/>
<rect x="88.20" y="310.06" width="3.55" height="9.21" fill="#2a4b8c"/>
<rect x="96.78" y="310.06" width="3.55" height="9.21" fill="#c9c9d0"/>
<text x="98.56" y="316.42" font-size="4.8" text-anchor="middle" font-weight="bold" fill="#1c1c1c">G</text>
<rect x="101.07" y="310.06" width="3.55" height="9.21" fill="#c9c9d0"/>
<text x="102.85" y="316.42" font-size="4.8" text-anchor="middle" font-weight="bold" fill="#1c1c1c">L</text>
<rect x="105.36" y="310.06" width="3.55" height="9.21" fill="#c9c9d0"/>
<text x="107.14" y="316.42" font-size="4.8" text-anchor="middle" font-weight="bold" fill="#1c1c1c">G</text>
<rect x="158.67" y="310.06" width="3.55" height="9.21" fill="#c9c9d0"/>
<text x="160.45" y="316.42" font-size="4.8" text-anchor="middle" font-weight="bold" fill="#1c1c1c">N</text>
<rect x="228.52" y="310.06" width="3.55" height="9.21" fill="#2a4b8c"/>
<rect x="249.97" y="310.06" width="3.55" height="9.21" fill="#c9c9d0"/>
<text x="251.75" y="316.42" font-size="4.8" text-anchor="middle" font-weight="bold" fill="#1c1c1c">G</text>
<rect x="271.42" y="310.06" width="3.55" height="9.21" fill="#c9c9d0"/>
<text x="273.19" y="316.42" font-size="4.8" text-anchor="middle" font-weight="bold" fill="#1c1c1c">N</text>
<rect x="322.90" y="310.06" width="3.55" height="9.21" fill="#c9c9d0"/>
<text x="324.67" y="316.42" font-size="4.8" text-anchor="middle" font-weight="bold" fill="#1c1c1c">G</text>
<text x="84.40" y="317.96" font-size="7.5" text-anchor="end" fill="#1a1a1a" class="lb">CARD11</text>
<rect x="338.40" y="309.61" width="0.90" height="9.01" fill="#e4921f"/>
<rect x="339.30" y="309.61" width="5.10" height="9.01" fill="#8f87c5"/>
<rect x="88.20" y="319.82" width="29.29" height="9.96" fill="#e2e2e8"/>
<rect x="123.90" y="319.82" width="16.42" height="9.96" fill="#e2e2e8"/>
<rect x="145.80" y="319.82" width="42.16" height="9.96" fill="#e2e2e8"/>
<rect x="194.20" y="319.82" width="132.25" height="9.96" fill="#e2e2e8"/>
<rect x="249.13" y="319.82" width="0.94" height="9.96" fill="#f6f6f8"/>
<rect x="88.20" y="319.92" width="3.55" height="9.21" fill="#c9c9d0"/>
<rect x="92.49" y="319.92" width="3.55" height="9.21" fill="#c9c9d0"/>
<rect x="96.78" y="319.92" width="3.55" height="9.21" fill="#c9c9d0"/>
<rect x="101.07" y="319.92" width="3.55" height="9.21" fill="#c9c9d0"/>
<rect x="105.36" y="319.92" width="3.55" height="9.21" fill="#c9c9d0"/>
<rect x="109.65" y="319.92" width="3.55" height="9.21" fill="#c9c9d0"/>
<rect x="113.94" y="319.92" width="3.55" height="9.21" fill="#c9c9d0"/>
<rect x="123.90" y="319.92" width="3.55" height="9.21" fill="#c9c9d0"/>
<rect x="128.19" y="319.92" width="3.55" height="9.21" fill="#c9c9d0"/>
<rect x="132.48" y="319.92" width="3.55" height="9.21" fill="#c9c9d0"/>
<rect x="136.77" y="319.92" width="3.55" height="9.21" fill="#c9c9d0"/>
<rect x="145.80" y="319.92" width="3.55" height="9.21" fill="#c9c9d0"/>
<rect x="150.09" y="319.92" width="3.55" height="9.21" fill="#c9c9d0"/>
<rect x="154.38" y="319.92" width="3.55" height="9.21" fill="#c9c9d0"/>
<rect x="158.67" y="319.92" width="3.55" height="9.21" fill="#c9c9d0"/>
<rect x="162.96" y="319.92" width="3.55" height="9.21" fill="#c9c9d0"/>
<rect x="167.25" y="319.92" width="3.55" height="9.21" fill="#c9c9d0"/>
<rect x="171.54" y="319.92" width="3.55" height="9.21" fill="#c9c9d0"/>
<rect x="175.83" y="319.92" width="3.55" height="9.21" fill="#c9c9d0"/>
<rect x="180.12" y="319.92" width="3.55" height="9.21" fill="#c9c9d0"/>
<rect x="184.41" y="319.92" width="3.55" height="9.21" fill="#c9c9d0"/>
<rect x="194.20" y="319.92" width="3.55" height="9.21" fill="#c9c9d0"/>
<rect x="198.49" y="319.92" width="3.55" height="9.21" fill="#c9c9d0"/>
<rect x="202.78" y="319.92" width="3.55" height="9.21" fill="#c9c9d0"/>
<rect x="207.07" y="319.92" width="3.55" height="9.21" fill="#c9c9d0"/>
<rect x="211.36" y="319.92" width="3.55" height="9.21" fill="#c9c9d0"/>
<rect x="215.65" y="319.92" width="3.55" height="9.21" fill="#c9c9d0"/>
<rect x="219.94" y="319.92" width="3.55" height="9.21" fill="#c9c9d0"/>
<rect x="224.23" y="319.92" width="3.55" height="9.21" fill="#c9c9d0"/>
<rect x="228.52" y="319.92" width="3.55" height="9.21" fill="#c9c9d0"/>
<rect x="232.81" y="319.92" width="3.55" height="9.21" fill="#c9c9d0"/>
<rect x="237.10" y="319.92" width="3.55" height="9.21" fill="#c9c9d0"/>
<rect x="241.39" y="319.92" width="3.55" height="9.21" fill="#c9c9d0"/>
<rect x="245.68" y="319.92" width="3.55" height="9.21" fill="#c9c9d0"/>
<rect x="249.97" y="319.92" width="3.55" height="9.21" fill="#c9c9d0"/>
<rect x="254.26" y="319.92" width="3.55" height="9.21" fill="#c9c9d0"/>
<rect x="258.55" y="319.92" width="3.55" height="9.21" fill="#c9c9d0"/>
<rect x="262.84" y="319.92" width="3.55" height="9.21" fill="#c9c9d0"/>
<rect x="267.13" y="319.92" width="3.55" height="9.21" fill="#c9c9d0"/>
<rect x="271.42" y="319.92" width="3.55" height="9.21" fill="#c9c9d0"/>
<rect x="275.71" y="319.92" width="3.55" height="9.21" fill="#c9c9d0"/>
<rect x="280.00" y="319.92" width="3.55" height="9.21" fill="#c9c9d0"/>
<rect x="284.29" y="319.92" width="3.55" height="9.21" fill="#c9c9d0"/>
<rect x="288.58" y="319.92" width="3.55" height="9.21" fill="#c9c9d0"/>
<rect x="292.87" y="319.92" width="3.55" height="9.21" fill="#c9c9d0"/>
<rect x="297.16" y="319.92" width="3.55" height="9.21" fill="#c9c9d0"/>
<rect x="301.45" y="319.92" width="3.55" height="9.21" fill="#c9c9d0"/>
<rect x="305.74" y="319.92" width="3.55" height="9.21" fill="#c9c9d0"/>
<rect x="310.03" y="319.92" width="3.55" height="9.21" fill="#c9c9d0"/>
<rect x="314.32" y="319.92" width="3.55" height="9.21" fill="#c9c9d0"/>
<rect x="318.61" y="319.92" width="3.55" height="9.21" fill="#c9c9d0"/>
<rect x="322.90" y="319.92" width="3.55" height="9.21" fill="#c9c9d0"/>
<rect x="113.94" y="319.92" width="3.55" height="9.21" fill="#c9c9d0"/>
<text x="115.72" y="326.28" font-size="4.8" text-anchor="middle" font-weight="bold" fill="#1c1c1c">N</text>
<rect x="180.12" y="319.92" width="3.55" height="9.21" fill="#b4702c"/>
<text x="181.90" y="326.28" font-size="4.8" text-anchor="middle" font-weight="bold" fill="#1c1c1c">L</text>
<rect x="318.61" y="319.92" width="3.55" height="9.21" fill="#2a4b8c"/>
<text x="84.40" y="327.82" font-size="7.5" text-anchor="end" fill="#1a1a1a" class="lb">MYD88</text>
<rect x="338.40" y="319.47" width="1.20" height="9.01" fill="#f0c026"/>
<rect x="339.60" y="319.47" width="4.80" height="9.01" fill="#8f87c5"/>
<rect x="88.20" y="329.68" width="29.29" height="9.96" fill="#e2e2e8"/>
<rect x="123.90" y="329.68" width="16.42" height="9.96" fill="#e2e2e8"/>
<rect x="145.80" y="329.68" width="42.16" height="9.96" fill="#e2e2e8"/>
<rect x="194.20" y="329.68" width="132.25" height="9.96" fill="#e2e2e8"/>
<rect x="249.13" y="329.68" width="0.94" height="9.96" fill="#f6f6f8"/>
<rect x="88.20" y="329.78" width="3.55" height="9.21" fill="#c9c9d0"/>
<rect x="92.49" y="329.78" width="3.55" height="9.21" fill="#c9c9d0"/>
<rect x="96.78" y="329.78" width="3.55" height="9.21" fill="#c9c9d0"/>
<rect x="101.07" y="329.78" width="3.55" height="9.21" fill="#c9c9d0"/>
<rect x="105.36" y="329.78" width="3.55" height="9.21" fill="#c9c9d0"/>
<rect x="109.65" y="329.78" width="3.55" height="9.21" fill="#c9c9d0"/>
<rect x="113.94" y="329.78" width="3.55" height="9.21" fill="#c9c9d0"/>
<rect x="123.90" y="329.78" width="3.55" height="9.21" fill="#c9c9d0"/>
<rect x="128.19" y="329.78" width="3.55" height="9.21" fill="#c9c9d0"/>
<rect x="132.48" y="329.78" width="3.55" height="9.21" fill="#c9c9d0"/>
<rect x="136.77" y="329.78" width="3.55" height="9.21" fill="#c9c9d0"/>
<rect x="145.80" y="329.78" width="3.55" height="9.21" fill="#c9c9d0"/>
<rect x="150.09" y="329.78" width="3.55" height="9.21" fill="#c9c9d0"/>
<rect x="154.38" y="329.78" width="3.55" height="9.21" fill="#c9c9d0"/>
<rect x="158.67" y="329.78" width="3.55" height="9.21" fill="#c9c9d0"/>
<rect x="162.96" y="329.78" width="3.55" height="9.21" fill="#c9c9d0"/>
<rect x="167.25" y="329.78" width="3.55" height="9.21" fill="#c9c9d0"/>
<rect x="171.54" y="329.78" width="3.55" height="9.21" fill="#c9c9d0"/>
<rect x="175.83" y="329.78" width="3.55" height="9.21" fill="#c9c9d0"/>
<rect x="180.12" y="329.78" width="3.55" height="9.21" fill="#c9c9d0"/>
<rect x="184.41" y="329.78" width="3.55" height="9.21" fill="#c9c9d0"/>
<rect x="194.20" y="329.78" width="3.55" height="9.21" fill="#c9c9d0"/>
<rect x="198.49" y="329.78" width="3.55" height="9.21" fill="#c9c9d0"/>
<rect x="202.78" y="329.78" width="3.55" height="9.21" fill="#c9c9d0"/>
<rect x="207.07" y="329.78" width="3.55" height="9.21" fill="#c9c9d0"/>
<rect x="211.36" y="329.78" width="3.55" height="9.21" fill="#c9c9d0"/>
<rect x="215.65" y="329.78" width="3.55" height="9.21" fill="#c9c9d0"/>
<rect x="219.94" y="329.78" width="3.55" height="9.21" fill="#c9c9d0"/>
<rect x="224.23" y="329.78" width="3.55" height="9.21" fill="#c9c9d0"/>
<rect x="228.52" y="329.78" width="3.55" height="9.21" fill="#c9c9d0"/>
<rect x="232.81" y="329.78" width="3.55" height="9.21" fill="#c9c9d0"/>
<rect x="237.10" y="329.78" width="3.55" height="9.21" fill="#c9c9d0"/>
<rect x="241.39" y="329.78" width="3.55" height="9.21" fill="#c9c9d0"/>
<rect x="245.68" y="329.78" width="3.55" height="9.21" fill="#c9c9d0"/>
<rect x="249.97" y="329.78" width="3.55" height="9.21" fill="#c9c9d0"/>
<rect x="254.26" y="329.78" width="3.55" height="9.21" fill="#c9c9d0"/>
<rect x="258.55" y="329.78" width="3.55" height="9.21" fill="#c9c9d0"/>
<rect x="262.84" y="329.78" width="3.55" height="9.21" fill="#c9c9d0"/>
<rect x="267.13" y="329.78" width="3.55" height="9.21" fill="#c9c9d0"/>
<rect x="271.42" y="329.78" width="3.55" height="9.21" fill="#c9c9d0"/>
<rect x="275.71" y="329.78" width="3.55" height="9.21" fill="#c9c9d0"/>
<rect x="280.00" y="329.78" width="3.55" height="9.21" fill="#c9c9d0"/>
<rect x="284.29" y="329.78" width="3.55" height="9.21" fill="#c9c9d0"/>
<rect x="288.58" y="329.78" width="3.55" height="9.21" fill="#c9c9d0"/>
<rect x="292.87" y="329.78" width="3.55" height="9.21" fill="#c9c9d0"/>
<rect x="297.16" y="329.78" width="3.55" height="9.21" fill="#c9c9d0"/>
<rect x="301.45" y="329.78" width="3.55" height="9.21" fill="#c9c9d0"/>
<rect x="305.74" y="329.78" width="3.55" height="9.21" fill="#c9c9d0"/>
<rect x="310.03" y="329.78" width="3.55" height="9.21" fill="#c9c9d0"/>
<rect x="314.32" y="329.78" width="3.55" height="9.21" fill="#c9c9d0"/>
<rect x="318.61" y="329.78" width="3.55" height="9.21" fill="#c9c9d0"/>
<rect x="322.90" y="329.78" width="3.55" height="9.21" fill="#c9c9d0"/>
<rect x="92.49" y="329.78" width="3.55" height="9.21" fill="#2a4b8c"/>
<rect x="128.19" y="329.78" width="3.55" height="9.21" fill="#c9c9d0"/>
<text x="129.97" y="336.13" font-size="4.8" text-anchor="middle" font-weight="bold" fill="#1c1c1c">N</text>
<rect x="158.67" y="329.78" width="3.55" height="9.21" fill="#c9c9d0"/>
<text x="160.45" y="336.13" font-size="4.8" text-anchor="middle" font-weight="bold" fill="#1c1c1c">G</text>
<rect x="175.83" y="329.78" width="3.55" height="9.21" fill="#2a4b8c"/>
<rect x="254.26" y="329.78" width="3.55" height="9.21" fill="#c9c9d0"/>
<text x="256.03" y="336.13" font-size="4.8" text-anchor="middle" font-weight="bold" fill="#1c1c1c">N</text>
<text x="84.40" y="337.68" font-size="7.5" text-anchor="end" fill="#1a1a1a" class="lb">PAX5</text>
<rect x="338.40" y="329.33" width="6.00" height="9.01" fill="#f0c026"/>
<rect x="88.20" y="339.54" width="29.29" height="9.96" fill="#e2e2e8"/>
<rect x="123.90" y="339.54" width="16.42" height="9.96" fill="#e2e2e8"/>
<rect x="145.80" y="339.54" width="42.16" height="9.96" fill="#e2e2e8"/>
<rect x="194.20" y="339.54" width="132.25" height="9.96" fill="#e2e2e8"/>
<rect x="249.13" y="339.54" width="0.94" height="9.96" fill="#f6f6f8"/>
<rect x="88.20" y="339.64" width="3.55" height="9.21" fill="#c9c9d0"/>
<rect x="92.49" y="339.64" width="3.55" height="9.21" fill="#c9c9d0"/>
<rect x="96.78" y="339.64" width="3.55" height="9.21" fill="#c9c9d0"/>
<rect x="101.07" y="339.64" width="3.55" height="9.21" fill="#c9c9d0"/>
<rect x="105.36" y="339.64" width="3.55" height="9.21" fill="#c9c9d0"/>
<rect x="109.65" y="339.64" width="3.55" height="9.21" fill="#c9c9d0"/>
<rect x="113.94" y="339.64" width="3.55" height="9.21" fill="#c9c9d0"/>
<rect x="123.90" y="339.64" width="3.55" height="9.21" fill="#c9c9d0"/>
<rect x="128.19" y="339.64" width="3.55" height="9.21" fill="#c9c9d0"/>
<rect x="132.48" y="339.64" width="3.55" height="9.21" fill="#c9c9d0"/>
<rect x="136.77" y="339.64" width="3.55" height="9.21" fill="#c9c9d0"/>
<rect x="145.80" y="339.64" width="3.55" height="9.21" fill="#c9c9d0"/>
<rect x="150.09" y="339.64" width="3.55" height="9.21" fill="#c9c9d0"/>
<rect x="154.38" y="339.64" width="3.55" height="9.21" fill="#c9c9d0"/>
<rect x="158.67" y="339.64" width="3.55" height="9.21" fill="#c9c9d0"/>
<rect x="162.96" y="339.64" width="3.55" height="9.21" fill="#c9c9d0"/>
<rect x="167.25" y="339.64" width="3.55" height="9.21" fill="#c9c9d0"/>
<rect x="171.54" y="339.64" width="3.55" height="9.21" fill="#c9c9d0"/>
<rect x="175.83" y="339.64" width="3.55" height="9.21" fill="#c9c9d0"/>
<rect x="180.12" y="339.64" width="3.55" height="9.21" fill="#c9c9d0"/>
<rect x="184.41" y="339.64" width="3.55" height="9.21" fill="#c9c9d0"/>
<rect x="194.20" y="339.64" width="3.55" height="9.21" fill="#c9c9d0"/>
<rect x="198.49" y="339.64" width="3.55" height="9.21" fill="#c9c9d0"/>
<rect x="202.78" y="339.64" width="3.55" height="9.21" fill="#c9c9d0"/>
<rect x="207.07" y="339.64" width="3.55" height="9.21" fill="#c9c9d0"/>
<rect x="211.36" y="339.64" width="3.55" height="9.21" fill="#c9c9d0"/>
<rect x="215.65" y="339.64" width="3.55" height="9.21" fill="#c9c9d0"/>
<rect x="219.94" y="339.64" width="3.55" height="9.21" fill="#c9c9d0"/>
<rect x="224.23" y="339.64" width="3.55" height="9.21" fill="#c9c9d0"/>
<rect x="228.52" y="339.64" width="3.55" height="9.21" fill="#c9c9d0"/>
<rect x="232.81" y="339.64" width="3.55" height="9.21" fill="#c9c9d0"/>
<rect x="237.10" y="339.64" width="3.55" height="9.21" fill="#c9c9d0"/>
<rect x="241.39" y="339.64" width="3.55" height="9.21" fill="#c9c9d0"/>
<rect x="245.68" y="339.64" width="3.55" height="9.21" fill="#c9c9d0"/>
<rect x="249.97" y="339.64" width="3.55" height="9.21" fill="#c9c9d0"/>
<rect x="254.26" y="339.64" width="3.55" height="9.21" fill="#c9c9d0"/>
<rect x="258.55" y="339.64" width="3.55" height="9.21" fill="#c9c9d0"/>
<rect x="262.84" y="339.64" width="3.55" height="9.21" fill="#c9c9d0"/>
<rect x="267.13" y="339.64" width="3.55" height="9.21" fill="#c9c9d0"/>
<rect x="271.42" y="339.64" width="3.55" height="9.21" fill="#c9c9d0"/>
<rect x="275.71" y="339.64" width="3.55" height="9.21" fill="#c9c9d0"/>
<rect x="280.00" y="339.64" width="3.55" height="9.21" fill="#c9c9d0"/>
<rect x="284.29" y="339.64" width="3.55" height="9.21" fill="#c9c9d0"/>
<rect x="288.58" y="339.64" width="3.55" height="9.21" fill="#c9c9d0"/>
<rect x="292.87" y="339.64" width="3.55" height="9.21" fill="#c9c9d0"/>
<rect x="297.16" y="339.64" width="3.55" height="9.21" fill="#c9c9d0"/>
<rect x="301.45" y="339.64" width="3.55" height="9.21" fill="#c9c9d0"/>
<rect x="305.74" y="339.64" width="3.55" height="9.21" fill="#c9c9d0"/>
<rect x="310.03" y="339.64" width="3.55" height="9.21" fill="#c9c9d0"/>
<rect x="314.32" y="339.64" width="3.55" height="9.21" fill="#c9c9d0"/>
<rect x="318.61" y="339.64" width="3.55" height="9.21" fill="#c9c9d0"/>
<rect x="322.90" y="339.64" width="3.55" height="9.21" fill="#c9c9d0"/>
<rect x="109.65" y="339.64" width="3.55" height="9.21" fill="#c9c9d0"/>
<text x="111.43" y="346.00" font-size="4.8" text-anchor="middle" font-weight="bold" fill="#1c1c1c">G</text>
<rect x="128.19" y="339.64" width="3.55" height="9.21" fill="#c9c9d0"/>
<text x="129.97" y="346.00" font-size="4.8" text-anchor="middle" font-weight="bold" fill="#1c1c1c">N</text>
<rect x="136.77" y="339.64" width="3.55" height="9.21" fill="#b3102e"/>
<rect x="184.41" y="339.64" width="3.55" height="9.21" fill="#c9c9d0"/>
<text x="186.19" y="346.00" font-size="4.8" text-anchor="middle" font-weight="bold" fill="#1c1c1c">N</text>
<text x="84.40" y="347.54" font-size="7.5" text-anchor="end" fill="#1a1a1a" class="lb">BCL10</text>
<rect x="338.40" y="339.19" width="3.00" height="9.01" fill="#a8102a"/>
<rect x="88.20" y="349.40" width="29.29" height="9.96" fill="#e2e2e8"/>
<rect x="123.90" y="349.40" width="16.42" height="9.96" fill="#e2e2e8"/>
<rect x="145.80" y="349.40" width="42.16" height="9.96" fill="#e2e2e8"/>
<rect x="194.20" y="349.40" width="132.25" height="9.96" fill="#e2e2e8"/>
<rect x="249.13" y="349.40" width="0.94" height="9.96" fill="#f6f6f8"/>
<rect x="88.20" y="349.50" width="3.55" height="9.21" fill="#c9c9d0"/>
<rect x="92.49" y="349.50" width="3.55" height="9.21" fill="#c9c9d0"/>
<rect x="96.78" y="349.50" width="3.55" height="9.21" fill="#c9c9d0"/>
<rect x="101.07" y="349.50" width="3.55" height="9.21" fill="#c9c9d0"/>
<rect x="105.36" y="349.50" width="3.55" height="9.21" fill="#c9c9d0"/>
<rect x="109.65" y="349.50" width="3.55" height="9.21" fill="#c9c9d0"/>
<rect x="113.94" y="349.50" width="3.55" height="9.21" fill="#c9c9d0"/>
<rect x="123.90" y="349.50" width="3.55" height="9.21" fill="#c9c9d0"/>
<rect x="128.19" y="349.50" width="3.55" height="9.21" fill="#c9c9d0"/>
<rect x="132.48" y="349.50" width="3.55" height="9.21" fill="#c9c9d0"/>
<rect x="136.77" y="349.50" width="3.55" height="9.21" fill="#c9c9d0"/>
<rect x="145.80" y="349.50" width="3.55" height="9.21" fill="#c9c9d0"/>
<rect x="150.09" y="349.50" width="3.55" height="9.21" fill="#c9c9d0"/>
<rect x="154.38" y="349.50" width="3.55" height="9.21" fill="#c9c9d0"/>
<rect x="158.67" y="349.50" width="3.55" height="9.21" fill="#c9c9d0"/>
<rect x="162.96" y="349.50" width="3.55" height="9.21" fill="#c9c9d0"/>
<rect x="167.25" y="349.50" width="3.55" height="9.21" fill="#c9c9d0"/>
<rect x="171.54" y="349.50" width="3.55" height="9.21" fill="#c9c9d0"/>
<rect x="175.83" y="349.50" width="3.55" height="9.21" fill="#c9c9d0"/>
<rect x="180.12" y="349.50" width="3.55" height="9.21" fill="#c9c9d0"/>
<rect x="184.41" y="349.50" width="3.55" height="9.21" fill="#c9c9d0"/>
<rect x="194.20" y="349.50" width="3.55" height="9.21" fill="#c9c9d0"/>
<rect x="198.49" y="349.50" width="3.55" height="9.21" fill="#c9c9d0"/>
<rect x="202.78" y="349.50" width="3.55" height="9.21" fill="#c9c9d0"/>
<rect x="207.07" y="349.50" width="3.55" height="9.21" fill="#c9c9d0"/>
<rect x="211.36" y="349.50" width="3.55" height="9.21" fill="#c9c9d0"/>
<rect x="215.65" y="349.50" width="3.55" height="9.21" fill="#c9c9d0"/>
<rect x="219.94" y="349.50" width="3.55" height="9.21" fill="#c9c9d0"/>
<rect x="224.23" y="349.50" width="3.55" height="9.21" fill="#c9c9d0"/>
<rect x="228.52" y="349.50" width="3.55" height="9.21" fill="#c9c9d0"/>
<rect x="232.81" y="349.50" width="3.55" height="9.21" fill="#c9c9d0"/>
<rect x="237.10" y="349.50" width="3.55" height="9.21" fill="#c9c9d0"/>
<rect x="241.39" y="349.50" width="3.55" height="9.21" fill="#c9c9d0"/>
<rect x="245.68" y="349.50" width="3.55" height="9.21" fill="#c9c9d0"/>
<rect x="249.97" y="349.50" width="3.55" height="9.21" fill="#c9c9d0"/>
<rect x="254.26" y="349.50" width="3.55" height="9.21" fill="#c9c9d0"/>
<rect x="258.55" y="349.50" width="3.55" height="9.21" fill="#c9c9d0"/>
<rect x="262.84" y="349.50" width="3.55" height="9.21" fill="#c9c9d0"/>
<rect x="267.13" y="349.50" width="3.55" height="9.21" fill="#c9c9d0"/>
<rect x="271.42" y="349.50" width="3.55" height="9.21" fill="#c9c9d0"/>
<rect x="275.71" y="349.50" width="3.55" height="9.21" fill="#c9c9d0"/>
<rect x="280.00" y="349.50" width="3.55" height="9.21" fill="#c9c9d0"/>
<rect x="284.29" y="349.50" width="3.55" height="9.21" fill="#c9c9d0"/>
<rect x="288.58" y="349.50" width="3.55" height="9.21" fill="#c9c9d0"/>
<rect x="292.87" y="349.50" width="3.55" height="9.21" fill="#c9c9d0"/>
<rect x="297.16" y="349.50" width="3.55" height="9.21" fill="#c9c9d0"/>
<rect x="301.45" y="349.50" width="3.55" height="9.21" fill="#c9c9d0"/>
<rect x="305.74" y="349.50" width="3.55" height="9.21" fill="#c9c9d0"/>
<rect x="310.03" y="349.50" width="3.55" height="9.21" fill="#c9c9d0"/>
<rect x="314.32" y="349.50" width="3.55" height="9.21" fill="#c9c9d0"/>
<rect x="318.61" y="349.50" width="3.55" height="9.21" fill="#c9c9d0"/>
<rect x="322.90" y="349.50" width="3.55" height="9.21" fill="#c9c9d0"/>
<rect x="96.78" y="349.50" width="3.55" height="9.21" fill="#2a4b8c"/>
<rect x="241.39" y="349.50" width="3.55" height="9.21" fill="#c9c9d0"/>
<text x="243.16" y="355.86" font-size="4.8" text-anchor="middle" font-weight="bold" fill="#1c1c1c">N</text>
<rect x="310.03" y="349.50" width="3.55" height="9.21" fill="#c9c9d0"/>
<text x="311.80" y="355.86" font-size="4.8" text-anchor="middle" font-weight="bold" fill="#1c1c1c">G</text>
<text x="84.40" y="357.40" font-size="7.5" text-anchor="end" fill="#1a1a1a" class="lb">CD79A</text>
<rect x="338.40" y="349.05" width="3.00" height="9.01" fill="#f0c026"/>
<rect x="88.20" y="359.26" width="29.29" height="9.96" fill="#e2e2e8"/>
<rect x="123.90" y="359.26" width="16.42" height="9.96" fill="#e2e2e8"/>
<rect x="145.80" y="359.26" width="42.16" height="9.96" fill="#e2e2e8"/>
<rect x="194.20" y="359.26" width="132.25" height="9.96" fill="#e2e2e8"/>
<rect x="249.13" y="359.26" width="0.94" height="9.96" fill="#f6f6f8"/>
<rect x="88.20" y="359.36" width="3.55" height="9.21" fill="#c9c9d0"/>
<rect x="92.49" y="359.36" width="3.55" height="9.21" fill="#c9c9d0"/>
<rect x="96.78" y="359.36" width="3.55" height="9.21" fill="#c9c9d0"/>
<rect x="101.07" y="359.36" width="3.55" height="9.21" fill="#c9c9d0"/>
<rect x="105.36" y="359.36" width="3.55" height="9.21" fill="#c9c9d0"/>
<rect x="109.65" y="359.36" width="3.55" height="9.21" fill="#c9c9d0"/>
<rect x="113.94" y="359.36" width="3.55" height="9.21" fill="#c9c9d0"/>
<rect x="123.90" y="359.36" width="3.55" height="9.21" fill="#c9c9d0"/>
<rect x="128.19" y="359.36" width="3.55" height="9.21" fill="#c9c9d0"/>
<rect x="132.48" y="359.36" width="3.55" height="9.21" fill="#c9c9d0"/>
<rect x="136.77" y="359.36" width="3.55" height="9.21" fill="#c9c9d0"/>
<rect x="145.80" y="359.36" width="3.55" height="9.21" fill="#c9c9d0"/>
<rect x="150.09" y="359.36" width="3.55" height="9.21" fill="#c9c9d0"/>
<rect x="154.38" y="359.36" width="3.55" height="9.21" fill="#c9c9d0"/>
<rect x="158.67" y="359.36" width="3.55" height="9.21" fill="#c9c9d0"/>
<rect x="162.96" y="359.36" width="3.55" height="9.21" fill="#c9c9d0"/>
<rect x="167.25" y="359.36" width="3.55" height="9.21" fill="#c9c9d0"/>
<rect x="171.54" y="359.36" width="3.55" height="9.21" fill="#c9c9d0"/>
<rect x="175.83" y="359.36" width="3.55" height="9.21" fill="#c9c9d0"/>
<rect x="180.12" y="359.36" width="3.55" height="9.21" fill="#c9c9d0"/>
<rect x="184.41" y="359.36" width="3.55" height="9.21" fill="#c9c9d0"/>
<rect x="194.20" y="359.36" width="3.55" height="9.21" fill="#c9c9d0"/>
<rect x="198.49" y="359.36" width="3.55" height="9.21" fill="#c9c9d0"/>
<rect x="202.78" y="359.36" width="3.55" height="9.21" fill="#c9c9d0"/>
<rect x="207.07" y="359.36" width="3.55" height="9.21" fill="#c9c9d0"/>
<rect x="211.36" y="359.36" width="3.55" height="9.21" fill="#c9c9d0"/>
<rect x="215.65" y="359.36" width="3.55" height="9.21" fill="#c9c9d0"/>
<rect x="219.94" y="359.36" width="3.55" height="9.21" fill="#c9c9d0"/>
<rect x="224.23" y="359.36" width="3.55" height="9.21" fill="#c9c9d0"/>
<rect x="228.52" y="359.36" width="3.55" height="9.21" fill="#c9c9d0"/>
<rect x="232.81" y="359.36" width="3.55" height="9.21" fill="#c9c9d0"/>
<rect x="237.10" y="359.36" width="3.55" height="9.21" fill="#c9c9d0"/>
<rect x="241.39" y="359.36" width="3.55" height="9.21" fill="#c9c9d0"/>
<rect x="245.68" y="359.36" width="3.55" height="9.21" fill="#c9c9d0"/>
<rect x="249.97" y="359.36" width="3.55" height="9.21" fill="#c9c9d0"/>
<rect x="254.26" y="359.36" width="3.55" height="9.21" fill="#c9c9d0"/>
<rect x="258.55" y="359.36" width="3.55" height="9.21" fill="#c9c9d0"/>
<rect x="262.84" y="359.36" width="3.55" height="9.21" fill="#c9c9d0"/>
<rect x="267.13" y="359.36" width="3.55" height="9.21" fill="#c9c9d0"/>
<rect x="271.42" y="359.36" width="3.55" height="9.21" fill="#c9c9d0"/>
<rect x="275.71" y="359.36" width="3.55" height="9.21" fill="#c9c9d0"/>
<rect x="280.00" y="359.36" width="3.55" height="9.21" fill="#c9c9d0"/>
<rect x="284.29" y="359.36" width="3.55" height="9.21" fill="#c9c9d0"/>
<rect x="288.58" y="359.36" width="3.55" height="9.21" fill="#c9c9d0"/>
<rect x="292.87" y="359.36" width="3.55" height="9.21" fill="#c9c9d0"/>
<rect x="297.16" y="359.36" width="3.55" height="9.21" fill="#c9c9d0"/>
<rect x="301.45" y="359.36" width="3.55" height="9.21" fill="#c9c9d0"/>
<rect x="305.74" y="359.36" width="3.55" height="9.21" fill="#c9c9d0"/>
<rect x="310.03" y="359.36" width="3.55" height="9.21" fill="#c9c9d0"/>
<rect x="314.32" y="359.36" width="3.55" height="9.21" fill="#c9c9d0"/>
<rect x="318.61" y="359.36" width="3.55" height="9.21" fill="#c9c9d0"/>
<rect x="322.90" y="359.36" width="3.55" height="9.21" fill="#c9c9d0"/>
<rect x="88.20" y="359.36" width="3.55" height="9.21" fill="#2a4b8c"/>
<rect x="96.78" y="359.36" width="3.55" height="9.21" fill="#c9c9d0"/>
<text x="98.56" y="365.72" font-size="4.8" text-anchor="middle" font-weight="bold" fill="#1c1c1c">N</text>
<rect x="245.68" y="359.36" width="3.55" height="9.21" fill="#c9c9d0"/>
<text x="247.46" y="365.72" font-size="4.8" text-anchor="middle" font-weight="bold" fill="#1c1c1c">N</text>
<text x="84.40" y="367.26" font-size="7.5" text-anchor="end" fill="#1a1a1a" class="lb">SYK</text>
<rect x="338.40" y="358.91" width="3.00" height="9.01" fill="#f0c026"/>
<path d="M337.9 369.6 V250.0 H432.6 V370.5" fill="none" stroke="#111" stroke-width="1.5"/>
<text x="436.60" y="313.30" font-size="11" text-anchor="start" font-weight="bold" fill="#111">BCR/PI3K</text>
<rect x="88.20" y="384.40" width="29.29" height="9.95" fill="#e2e2e8"/>
<rect x="123.90" y="384.40" width="16.42" height="9.95" fill="#e2e2e8"/>
<rect x="145.80" y="384.40" width="42.16" height="9.95" fill="#e2e2e8"/>
<rect x="194.20" y="384.40" width="132.25" height="9.95" fill="#e2e2e8"/>
<rect x="249.13" y="384.40" width="0.94" height="9.95" fill="#f6f6f8"/>
<rect x="88.20" y="384.50" width="3.55" height="9.20" fill="#c9c9d0"/>
<rect x="92.49" y="384.50" width="3.55" height="9.20" fill="#c9c9d0"/>
<rect x="96.78" y="384.50" width="3.55" height="9.20" fill="#c9c9d0"/>
<rect x="101.07" y="384.50" width="3.55" height="9.20" fill="#c9c9d0"/>
<rect x="105.36" y="384.50" width="3.55" height="9.20" fill="#c9c9d0"/>
<rect x="109.65" y="384.50" width="3.55" height="9.20" fill="#c9c9d0"/>
<rect x="113.94" y="384.50" width="3.55" height="9.20" fill="#c9c9d0"/>
<rect x="123.90" y="384.50" width="3.55" height="9.20" fill="#c9c9d0"/>
<rect x="128.19" y="384.50" width="3.55" height="9.20" fill="#c9c9d0"/>
<rect x="132.48" y="384.50" width="3.55" height="9.20" fill="#c9c9d0"/>
<rect x="136.77" y="384.50" width="3.55" height="9.20" fill="#c9c9d0"/>
<rect x="145.80" y="384.50" width="3.55" height="9.20" fill="#c9c9d0"/>
<rect x="150.09" y="384.50" width="3.55" height="9.20" fill="#c9c9d0"/>
<rect x="154.38" y="384.50" width="3.55" height="9.20" fill="#c9c9d0"/>
<rect x="158.67" y="384.50" width="3.55" height="9.20" fill="#c9c9d0"/>
<rect x="162.96" y="384.50" width="3.55" height="9.20" fill="#c9c9d0"/>
<rect x="167.25" y="384.50" width="3.55" height="9.20" fill="#c9c9d0"/>
<rect x="171.54" y="384.50" width="3.55" height="9.20" fill="#c9c9d0"/>
<rect x="175.83" y="384.50" width="3.55" height="9.20" fill="#c9c9d0"/>
<rect x="180.12" y="384.50" width="3.55" height="9.20" fill="#c9c9d0"/>
<rect x="184.41" y="384.50" width="3.55" height="9.20" fill="#c9c9d0"/>
<rect x="194.20" y="384.50" width="3.55" height="9.20" fill="#c9c9d0"/>
<rect x="198.49" y="384.50" width="3.55" height="9.20" fill="#c9c9d0"/>
<rect x="202.78" y="384.50" width="3.55" height="9.20" fill="#c9c9d0"/>
<rect x="207.07" y="384.50" width="3.55" height="9.20" fill="#c9c9d0"/>
<rect x="211.36" y="384.50" width="3.55" height="9.20" fill="#c9c9d0"/>
<rect x="215.65" y="384.50" width="3.55" height="9.20" fill="#c9c9d0"/>
<rect x="219.94" y="384.50" width="3.55" height="9.20" fill="#c9c9d0"/>
<rect x="224.23" y="384.50" width="3.55" height="9.20" fill="#c9c9d0"/>
<rect x="228.52" y="384.50" width="3.55" height="9.20" fill="#c9c9d0"/>
<rect x="232.81" y="384.50" width="3.55" height="9.20" fill="#c9c9d0"/>
<rect x="237.10" y="384.50" width="3.55" height="9.20" fill="#c9c9d0"/>
<rect x="241.39" y="384.50" width="3.55" height="9.20" fill="#c9c9d0"/>
<rect x="245.68" y="384.50" width="3.55" height="9.20" fill="#c9c9d0"/>
<rect x="249.97" y="384.50" width="3.55" height="9.20" fill="#c9c9d0"/>
<rect x="254.26" y="384.50" width="3.55" height="9.20" fill="#c9c9d0"/>
<rect x="258.55" y="384.50" width="3.55" height="9.20" fill="#c9c9d0"/>
<rect x="262.84" y="384.50" width="3.55" height="9.20" fill="#c9c9d0"/>
<rect x="267.13" y="384.50" width="3.55" height="9.20" fill="#c9c9d0"/>
<rect x="271.42" y="384.50" width="3.55" height="9.20" fill="#c9c9d0"/>
<rect x="275.71" y="384.50" width="3.55" height="9.20" fill="#c9c9d0"/>
<rect x="280.00" y="384.50" width="3.55" height="9.20" fill="#c9c9d0"/>
<rect x="284.29" y="384.50" width="3.55" height="9.20" fill="#c9c9d0"/>
<rect x="288.58" y="384.50" width="3.55" height="9.20" fill="#c9c9d0"/>
<rect x="292.87" y="384.50" width="3.55" height="9.20" fill="#c9c9d0"/>
<rect x="297.16" y="384.50" width="3.55" height="9.20" fill="#c9c9d0"/>
<rect x="301.45" y="384.50" width="3.55" height="9.20" fill="#c9c9d0"/>
<rect x="305.74" y="384.50" width="3.55" height="9.20" fill="#c9c9d0"/>
<rect x="310.03" y="384.50" width="3.55" height="9.20" fill="#c9c9d0"/>
<rect x="314.32" y="384.50" width="3.55" height="9.20" fill="#c9c9d0"/>
<rect x="318.61" y="384.50" width="3.55" height="9.20" fill="#c9c9d0"/>
<rect x="322.90" y="384.50" width="3.55" height="9.20" fill="#c9c9d0"/>
<rect x="145.80" y="384.50" width="3.55" height="9.20" fill="#2a4b8c"/>
<rect x="154.38" y="384.50" width="3.55" height="9.20" fill="#2a4b8c"/>
<rect x="158.67" y="384.50" width="3.55" height="9.20" fill="#c9c9d0"/>
<text x="160.45" y="390.85" font-size="4.8" text-anchor="middle" font-weight="bold" fill="#1c1c1c">L</text>
<rect x="180.12" y="384.50" width="3.55" height="9.20" fill="#c9c9d0"/>
<text x="181.90" y="390.85" font-size="4.8" text-anchor="middle" font-weight="bold" fill="#1c1c1c">L</text>
<rect x="207.07" y="384.50" width="3.55" height="9.20" fill="#2a4b8c"/>
<rect x="215.65" y="384.50" width="3.55" height="9.20" fill="#2a4b8c"/>
<rect x="224.23" y="384.50" width="3.55" height="9.20" fill="#2a4b8c"/>
<rect x="241.39" y="384.50" width="3.55" height="9.20" fill="#2a4b8c"/>
<rect x="245.68" y="384.50" width="3.55" height="9.20" fill="#c9c9d0"/>
<text x="247.46" y="390.85" font-size="4.8" text-anchor="middle" font-weight="bold" fill="#1c1c1c">G</text>
<rect x="258.55" y="384.50" width="3.55" height="9.20" fill="#2a4b8c"/>
<rect x="267.13" y="384.50" width="3.55" height="9.20" fill="#2a4b8c"/>
<rect x="275.71" y="384.50" width="3.55" height="9.20" fill="#2a4b8c"/>
<rect x="280.00" y="384.50" width="3.55" height="9.20" fill="#2a4b8c"/>
<rect x="288.58" y="384.50" width="3.55" height="9.20" fill="#2a4b8c"/>
<rect x="292.87" y="384.50" width="3.55" height="9.20" fill="#2a4b8c"/>
<rect x="297.16" y="384.50" width="3.55" height="9.20" fill="#2a4b8c"/>
<rect x="301.45" y="384.50" width="3.55" height="9.20" fill="#c9c9d0"/>
<text x="303.22" y="390.85" font-size="4.8" text-anchor="middle" font-weight="bold" fill="#1c1c1c">L</text>
<rect x="310.03" y="384.50" width="3.55" height="9.20" fill="#c9c9d0"/>
<text x="311.80" y="390.85" font-size="4.8" text-anchor="middle" font-weight="bold" fill="#1c1c1c">G</text>
<text x="84.40" y="392.40" font-size="7.5" text-anchor="end" fill="#1a1a1a" class="lb">SMARCA4</text>
<rect x="338.40" y="384.05" width="6.00" height="9.00" fill="#f0c026"/>
<rect x="344.40" y="384.05" width="33.00" height="9.00" fill="#8f87c5"/>
<rect x="88.20" y="394.25" width="29.29" height="9.95" fill="#e2e2e8"/>
<rect x="123.90" y="394.25" width="16.42" height="9.95" fill="#e2e2e8"/>
<rect x="145.80" y="394.25" width="42.16" height="9.95" fill="#e2e2e8"/>
<rect x="194.20" y="394.25" width="132.25" height="9.95" fill="#e2e2e8"/>
<rect x="249.13" y="394.25" width="0.94" height="9.95" fill="#f6f6f8"/>
<rect x="88.20" y="394.35" width="3.55" height="9.20" fill="#c9c9d0"/>
<rect x="92.49" y="394.35" width="3.55" height="9.20" fill="#c9c9d0"/>
<rect x="96.78" y="394.35" width="3.55" height="9.20" fill="#c9c9d0"/>
<rect x="101.07" y="394.35" width="3.55" height="9.20" fill="#c9c9d0"/>
<rect x="105.36" y="394.35" width="3.55" height="9.20" fill="#c9c9d0"/>
<rect x="109.65" y="394.35" width="3.55" height="9.20" fill="#c9c9d0"/>
<rect x="113.94" y="394.35" width="3.55" height="9.20" fill="#c9c9d0"/>
<rect x="123.90" y="394.35" width="3.55" height="9.20" fill="#c9c9d0"/>
<rect x="128.19" y="394.35" width="3.55" height="9.20" fill="#c9c9d0"/>
<rect x="132.48" y="394.35" width="3.55" height="9.20" fill="#c9c9d0"/>
<rect x="136.77" y="394.35" width="3.55" height="9.20" fill="#c9c9d0"/>
<rect x="145.80" y="394.35" width="3.55" height="9.20" fill="#c9c9d0"/>
<rect x="150.09" y="394.35" width="3.55" height="9.20" fill="#c9c9d0"/>
<rect x="154.38" y="394.35" width="3.55" height="9.20" fill="#c9c9d0"/>
<rect x="158.67" y="394.35" width="3.55" height="9.20" fill="#c9c9d0"/>
<rect x="162.96" y="394.35" width="3.55" height="9.20" fill="#c9c9d0"/>
<rect x="167.25" y="394.35" width="3.55" height="9.20" fill="#c9c9d0"/>
<rect x="171.54" y="394.35" width="3.55" height="9.20" fill="#c9c9d0"/>
<rect x="175.83" y="394.35" width="3.55" height="9.20" fill="#c9c9d0"/>
<rect x="180.12" y="394.35" width="3.55" height="9.20" fill="#c9c9d0"/>
<rect x="184.41" y="394.35" width="3.55" height="9.20" fill="#c9c9d0"/>
<rect x="194.20" y="394.35" width="3.55" height="9.20" fill="#c9c9d0"/>
<rect x="198.49" y="394.35" width="3.55" height="9.20" fill="#c9c9d0"/>
<rect x="202.78" y="394.35" width="3.55" height="9.20" fill="#c9c9d0"/>
<rect x="207.07" y="394.35" width="3.55" height="9.20" fill="#c9c9d0"/>
<rect x="211.36" y="394.35" width="3.55" height="9.20" fill="#c9c9d0"/>
<rect x="215.65" y="394.35" width="3.55" height="9.20" fill="#c9c9d0"/>
<rect x="219.94" y="394.35" width="3.55" height="9.20" fill="#c9c9d0"/>
<rect x="224.23" y="394.35" width="3.55" height="9.20" fill="#c9c9d0"/>
<rect x="228.52" y="394.35" width="3.55" height="9.20" fill="#c9c9d0"/>
<rect x="232.81" y="394.35" width="3.55" height="9.20" fill="#c9c9d0"/>
<rect x="237.10" y="394.35" width="3.55" height="9.20" fill="#c9c9d0"/>
<rect x="241.39" y="394.35" width="3.55" height="9.20" fill="#c9c9d0"/>
<rect x="245.68" y="394.35" width="3.55" height="9.20" fill="#c9c9d0"/>
<rect x="249.97" y="394.35" width="3.55" height="9.20" fill="#c9c9d0"/>
<rect x="254.26" y="394.35" width="3.55" height="9.20" fill="#c9c9d0"/>
<rect x="258.55" y="394.35" width="3.55" height="9.20" fill="#c9c9d0"/>
<rect x="262.84" y="394.35" width="3.55" height="9.20" fill="#c9c9d0"/>
<rect x="267.13" y="394.35" width="3.55" height="9.20" fill="#c9c9d0"/>
<rect x="271.42" y="394.35" width="3.55" height="9.20" fill="#c9c9d0"/>
<rect x="275.71" y="394.35" width="3.55" height="9.20" fill="#c9c9d0"/>
<rect x="280.00" y="394.35" width="3.55" height="9.20" fill="#c9c9d0"/>
<rect x="284.29" y="394.35" width="3.55" height="9.20" fill="#c9c9d0"/>
<rect x="288.58" y="394.35" width="3.55" height="9.20" fill="#c9c9d0"/>
<rect x="292.87" y="394.35" width="3.55" height="9.20" fill="#c9c9d0"/>
<rect x="297.16" y="394.35" width="3.55" height="9.20" fill="#c9c9d0"/>
<rect x="301.45" y="394.35" width="3.55" height="9.20" fill="#c9c9d0"/>
<rect x="305.74" y="394.35" width="3.55" height="9.20" fill="#c9c9d0"/>
<rect x="310.03" y="394.35" width="3.55" height="9.20" fill="#c9c9d0"/>
<rect x="314.32" y="394.35" width="3.55" height="9.20" fill="#c9c9d0"/>
<rect x="318.61" y="394.35" width="3.55" height="9.20" fill="#c9c9d0"/>
<rect x="322.90" y="394.35" width="3.55" height="9.20" fill="#c9c9d0"/>
<rect x="88.20" y="394.35" width="3.55" height="9.20" fill="#2a4b8c"/>
<rect x="105.36" y="394.35" width="3.55" height="9.20" fill="#b3102e"/>
<rect x="109.65" y="394.35" width="3.55" height="9.20" fill="#c9c9d0"/>
<text x="111.43" y="400.70" font-size="4.8" text-anchor="middle" font-weight="bold" fill="#1c1c1c">G</text>
<rect x="128.19" y="394.35" width="3.55" height="9.20" fill="#5aab47"/>
<text x="129.97" y="400.70" font-size="4.8" text-anchor="middle" font-weight="bold" fill="#1c1c1c">N</text>
<rect x="145.80" y="394.35" width="3.55" height="9.20" fill="#5aab47"/>
<rect x="158.67" y="394.35" width="3.55" height="9.20" fill="#c9c9d0"/>
<text x="160.45" y="400.70" font-size="4.8" text-anchor="middle" font-weight="bold" fill="#1c1c1c">N</text>
<rect x="180.12" y="394.35" width="3.55" height="9.20" fill="#2a4b8c"/>
<rect x="194.20" y="394.35" width="3.55" height="9.20" fill="#b3102e"/>
<rect x="198.49" y="394.35" width="3.55" height="9.20" fill="#c9c9d0"/>
<text x="200.26" y="400.70" font-size="4.8" text-anchor="middle" font-weight="bold" fill="#1c1c1c">N</text>
<rect x="202.78" y="394.35" width="3.55" height="9.20" fill="#5aab47"/>
<rect x="211.36" y="394.35" width="3.55" height="9.20" fill="#5aab47"/>
<rect x="232.81" y="394.35" width="3.55" height="9.20" fill="#5aab47"/>
<rect x="254.26" y="394.35" width="3.55" height="9.20" fill="#2a4b8c"/>
<text x="256.03" y="400.70" font-size="4.8" text-anchor="middle" font-weight="bold" fill="#1c1c1c">N</text>
<rect x="262.84" y="394.35" width="3.55" height="9.20" fill="#5aab47"/>
<rect x="280.00" y="394.35" width="3.55" height="9.20" fill="#c9c9d0"/>
<text x="281.77" y="400.70" font-size="4.8" text-anchor="middle" font-weight="bold" fill="#1c1c1c">N</text>
<text x="84.40" y="402.25" font-size="7.5" text-anchor="end" fill="#1a1a1a" class="lb">ARID1A</text>
<rect x="338.40" y="393.90" width="6.00" height="9.00" fill="#e4921f"/>
<rect x="344.40" y="393.90" width="3.00" height="9.00" fill="#a8102a"/>
<rect x="347.40" y="393.90" width="6.00" height="9.00" fill="#f0c026"/>
<rect x="353.40" y="393.90" width="18.00" height="9.00" fill="#8f87c5"/>
<rect x="88.20" y="404.10" width="29.29" height="9.95" fill="#e2e2e8"/>
<rect x="123.90" y="404.10" width="16.42" height="9.95" fill="#e2e2e8"/>
<rect x="145.80" y="404.10" width="42.16" height="9.95" fill="#e2e2e8"/>
<rect x="194.20" y="404.10" width="132.25" height="9.95" fill="#e2e2e8"/>
<rect x="249.13" y="404.10" width="0.94" height="9.95" fill="#f6f6f8"/>
<rect x="88.20" y="404.20" width="3.55" height="9.20" fill="#c9c9d0"/>
<rect x="92.49" y="404.20" width="3.55" height="9.20" fill="#c9c9d0"/>
<rect x="96.78" y="404.20" width="3.55" height="9.20" fill="#c9c9d0"/>
<rect x="101.07" y="404.20" width="3.55" height="9.20" fill="#c9c9d0"/>
<rect x="105.36" y="404.20" width="3.55" height="9.20" fill="#c9c9d0"/>
<rect x="109.65" y="404.20" width="3.55" height="9.20" fill="#c9c9d0"/>
<rect x="113.94" y="404.20" width="3.55" height="9.20" fill="#c9c9d0"/>
<rect x="123.90" y="404.20" width="3.55" height="9.20" fill="#c9c9d0"/>
<rect x="128.19" y="404.20" width="3.55" height="9.20" fill="#c9c9d0"/>
<rect x="132.48" y="404.20" width="3.55" height="9.20" fill="#c9c9d0"/>
<rect x="136.77" y="404.20" width="3.55" height="9.20" fill="#c9c9d0"/>
<rect x="145.80" y="404.20" width="3.55" height="9.20" fill="#c9c9d0"/>
<rect x="150.09" y="404.20" width="3.55" height="9.20" fill="#c9c9d0"/>
<rect x="154.38" y="404.20" width="3.55" height="9.20" fill="#c9c9d0"/>
<rect x="158.67" y="404.20" width="3.55" height="9.20" fill="#c9c9d0"/>
<rect x="162.96" y="404.20" width="3.55" height="9.20" fill="#c9c9d0"/>
<rect x="167.25" y="404.20" width="3.55" height="9.20" fill="#c9c9d0"/>
<rect x="171.54" y="404.20" width="3.55" height="9.20" fill="#c9c9d0"/>
<rect x="175.83" y="404.20" width="3.55" height="9.20" fill="#c9c9d0"/>
<rect x="180.12" y="404.20" width="3.55" height="9.20" fill="#c9c9d0"/>
<rect x="184.41" y="404.20" width="3.55" height="9.20" fill="#c9c9d0"/>
<rect x="194.20" y="404.20" width="3.55" height="9.20" fill="#c9c9d0"/>
<rect x="198.49" y="404.20" width="3.55" height="9.20" fill="#c9c9d0"/>
<rect x="202.78" y="404.20" width="3.55" height="9.20" fill="#c9c9d0"/>
<rect x="207.07" y="404.20" width="3.55" height="9.20" fill="#c9c9d0"/>
<rect x="211.36" y="404.20" width="3.55" height="9.20" fill="#c9c9d0"/>
<rect x="215.65" y="404.20" width="3.55" height="9.20" fill="#c9c9d0"/>
<rect x="219.94" y="404.20" width="3.55" height="9.20" fill="#c9c9d0"/>
<rect x="224.23" y="404.20" width="3.55" height="9.20" fill="#c9c9d0"/>
<rect x="228.52" y="404.20" width="3.55" height="9.20" fill="#c9c9d0"/>
<rect x="232.81" y="404.20" width="3.55" height="9.20" fill="#c9c9d0"/>
<rect x="237.10" y="404.20" width="3.55" height="9.20" fill="#c9c9d0"/>
<rect x="241.39" y="404.20" width="3.55" height="9.20" fill="#c9c9d0"/>
<rect x="245.68" y="404.20" width="3.55" height="9.20" fill="#c9c9d0"/>
<rect x="249.97" y="404.20" width="3.55" height="9.20" fill="#c9c9d0"/>
<rect x="254.26" y="404.20" width="3.55" height="9.20" fill="#c9c9d0"/>
<rect x="258.55" y="404.20" width="3.55" height="9.20" fill="#c9c9d0"/>
<rect x="262.84" y="404.20" width="3.55" height="9.20" fill="#c9c9d0"/>
<rect x="267.13" y="404.20" width="3.55" height="9.20" fill="#c9c9d0"/>
<rect x="271.42" y="404.20" width="3.55" height="9.20" fill="#c9c9d0"/>
<rect x="275.71" y="404.20" width="3.55" height="9.20" fill="#c9c9d0"/>
<rect x="280.00" y="404.20" width="3.55" height="9.20" fill="#c9c9d0"/>
<rect x="284.29" y="404.20" width="3.55" height="9.20" fill="#c9c9d0"/>
<rect x="288.58" y="404.20" width="3.55" height="9.20" fill="#c9c9d0"/>
<rect x="292.87" y="404.20" width="3.55" height="9.20" fill="#c9c9d0"/>
<rect x="297.16" y="404.20" width="3.55" height="9.20" fill="#c9c9d0"/>
<rect x="301.45" y="404.20" width="3.55" height="9.20" fill="#c9c9d0"/>
<rect x="305.74" y="404.20" width="3.55" height="9.20" fill="#c9c9d0"/>
<rect x="310.03" y="404.20" width="3.55" height="9.20" fill="#c9c9d0"/>
<rect x="314.32" y="404.20" width="3.55" height="9.20" fill="#c9c9d0"/>
<rect x="318.61" y="404.20" width="3.55" height="9.20" fill="#c9c9d0"/>
<rect x="322.90" y="404.20" width="3.55" height="9.20" fill="#c9c9d0"/>
<rect x="109.65" y="404.20" width="3.55" height="9.20" fill="#2a4b8c"/>
<text x="111.43" y="410.55" font-size="4.8" text-anchor="middle" font-weight="bold" fill="#1c1c1c">N</text>
<rect x="158.67" y="404.20" width="3.55" height="9.20" fill="#2a4b8c"/>
<rect x="162.96" y="404.20" width="3.55" height="9.20" fill="#f2c31e"/>
<rect x="175.83" y="404.20" width="3.55" height="4.60" fill="#f2c31e"/>
<rect x="175.83" y="408.80" width="3.55" height="4.60" fill="#27575f"/>
<rect x="184.41" y="404.20" width="3.55" height="9.20" fill="#c9c9d0"/>
<text x="186.19" y="410.55" font-size="4.8" text-anchor="middle" font-weight="bold" fill="#1c1c1c">N</text>
<rect x="245.68" y="404.20" width="3.55" height="9.20" fill="#c9c9d0"/>
<text x="247.46" y="410.55" font-size="4.8" text-anchor="middle" font-weight="bold" fill="#1c1c1c">L</text>
<rect x="254.26" y="404.20" width="3.55" height="9.20" fill="#b3102e"/>
<rect x="297.16" y="404.20" width="3.55" height="9.20" fill="#2a4b8c"/>
<rect x="301.45" y="404.20" width="3.55" height="9.20" fill="#5aab47"/>
<text x="84.40" y="412.10" font-size="7.5" text-anchor="end" fill="#1a1a1a" class="lb">CREBBP</text>
<rect x="338.40" y="403.75" width="12.00" height="9.00" fill="#f0c026"/>
<rect x="350.40" y="403.75" width="9.00" height="9.00" fill="#8f87c5"/>
<rect x="88.20" y="413.95" width="29.29" height="9.95" fill="#e2e2e8"/>
<rect x="123.90" y="413.95" width="16.42" height="9.95" fill="#e2e2e8"/>
<rect x="145.80" y="413.95" width="42.16" height="9.95" fill="#e2e2e8"/>
<rect x="194.20" y="413.95" width="132.25" height="9.95" fill="#e2e2e8"/>
<rect x="249.13" y="413.95" width="0.94" height="9.95" fill="#f6f6f8"/>
<rect x="88.20" y="414.05" width="3.55" height="9.20" fill="#c9c9d0"/>
<rect x="92.49" y="414.05" width="3.55" height="9.20" fill="#c9c9d0"/>
<rect x="96.78" y="414.05" width="3.55" height="9.20" fill="#c9c9d0"/>
<rect x="101.07" y="414.05" width="3.55" height="9.20" fill="#c9c9d0"/>
<rect x="105.36" y="414.05" width="3.55" height="9.20" fill="#c9c9d0"/>
<rect x="109.65" y="414.05" width="3.55" height="9.20" fill="#c9c9d0"/>
<rect x="113.94" y="414.05" width="3.55" height="9.20" fill="#c9c9d0"/>
<rect x="123.90" y="414.05" width="3.55" height="9.20" fill="#c9c9d0"/>
<rect x="128.19" y="414.05" width="3.55" height="9.20" fill="#c9c9d0"/>
<rect x="132.48" y="414.05" width="3.55" height="9.20" fill="#c9c9d0"/>
<rect x="136.77" y="414.05" width="3.55" height="9.20" fill="#c9c9d0"/>
<rect x="145.80" y="414.05" width="3.55" height="9.20" fill="#c9c9d0"/>
<rect x="150.09" y="414.05" width="3.55" height="9.20" fill="#c9c9d0"/>
<rect x="154.38" y="414.05" width="3.55" height="9.20" fill="#c9c9d0"/>
<rect x="158.67" y="414.05" width="3.55" height="9.20" fill="#c9c9d0"/>
<rect x="162.96" y="414.05" width="3.55" height="9.20" fill="#c9c9d0"/>
<rect x="167.25" y="414.05" width="3.55" height="9.20" fill="#c9c9d0"/>
<rect x="171.54" y="414.05" width="3.55" height="9.20" fill="#c9c9d0"/>
<rect x="175.83" y="414.05" width="3.55" height="9.20" fill="#c9c9d0"/>
<rect x="180.12" y="414.05" width="3.55" height="9.20" fill="#c9c9d0"/>
<rect x="184.41" y="414.05" width="3.55" height="9.20" fill="#c9c9d0"/>
<rect x="194.20" y="414.05" width="3.55" height="9.20" fill="#c9c9d0"/>
<rect x="198.49" y="414.05" width="3.55" height="9.20" fill="#c9c9d0"/>
<rect x="202.78" y="414.05" width="3.55" height="9.20" fill="#c9c9d0"/>
<rect x="207.07" y="414.05" width="3.55" height="9.20" fill="#c9c9d0"/>
<rect x="211.36" y="414.05" width="3.55" height="9.20" fill="#c9c9d0"/>
<rect x="215.65" y="414.05" width="3.55" height="9.20" fill="#c9c9d0"/>
<rect x="219.94" y="414.05" width="3.55" height="9.20" fill="#c9c9d0"/>
<rect x="224.23" y="414.05" width="3.55" height="9.20" fill="#c9c9d0"/>
<rect x="228.52" y="414.05" width="3.55" height="9.20" fill="#c9c9d0"/>
<rect x="232.81" y="414.05" width="3.55" height="9.20" fill="#c9c9d0"/>
<rect x="237.10" y="414.05" width="3.55" height="9.20" fill="#c9c9d0"/>
<rect x="241.39" y="414.05" width="3.55" height="9.20" fill="#c9c9d0"/>
<rect x="245.68" y="414.05" width="3.55" height="9.20" fill="#c9c9d0"/>
<rect x="249.97" y="414.05" width="3.55" height="9.20" fill="#c9c9d0"/>
<rect x="254.26" y="414.05" width="3.55" height="9.20" fill="#c9c9d0"/>
<rect x="258.55" y="414.05" width="3.55" height="9.20" fill="#c9c9d0"/>
<rect x="262.84" y="414.05" width="3.55" height="9.20" fill="#c9c9d0"/>
<rect x="267.13" y="414.05" width="3.55" height="9.20" fill="#c9c9d0"/>
<rect x="271.42" y="414.05" width="3.55" height="9.20" fill="#c9c9d0"/>
<rect x="275.71" y="414.05" width="3.55" height="9.20" fill="#c9c9d0"/>
<rect x="280.00" y="414.05" width="3.55" height="9.20" fill="#c9c9d0"/>
<rect x="284.29" y="414.05" width="3.55" height="9.20" fill="#c9c9d0"/>
<rect x="288.58" y="414.05" width="3.55" height="9.20" fill="#c9c9d0"/>
<rect x="292.87" y="414.05" width="3.55" height="9.20" fill="#c9c9d0"/>
<rect x="297.16" y="414.05" width="3.55" height="9.20" fill="#c9c9d0"/>
<rect x="301.45" y="414.05" width="3.55" height="9.20" fill="#c9c9d0"/>
<rect x="305.74" y="414.05" width="3.55" height="9.20" fill="#c9c9d0"/>
<rect x="310.03" y="414.05" width="3.55" height="9.20" fill="#c9c9d0"/>
<rect x="314.32" y="414.05" width="3.55" height="9.20" fill="#c9c9d0"/>
<rect x="318.61" y="414.05" width="3.55" height="9.20" fill="#c9c9d0"/>
<rect x="322.90" y="414.05" width="3.55" height="9.20" fill="#c9c9d0"/>
<rect x="92.49" y="414.05" width="3.55" height="9.20" fill="#2a4b8c"/>
<rect x="96.78" y="414.05" width="3.55" height="4.60" fill="#f2c31e"/>
<rect x="96.78" y="418.65" width="3.55" height="4.60" fill="#5aab47"/>
<rect x="101.07" y="414.05" width="3.55" height="9.20" fill="#5aab47"/>
<rect x="105.36" y="414.05" width="3.55" height="4.60" fill="#2a4b8c"/>
<rect x="105.36" y="418.65" width="3.55" height="4.60" fill="#5aab47"/>
<rect x="113.94" y="414.05" width="3.55" height="9.20" fill="#b3102e"/>
<rect x="171.54" y="414.05" width="3.55" height="9.20" fill="#c9c9d0"/>
<text x="173.32" y="420.40" font-size="4.8" text-anchor="middle" font-weight="bold" fill="#1c1c1c">G</text>
<rect x="175.83" y="414.05" width="3.55" height="9.20" fill="#b3102e"/>
<rect x="202.78" y="414.05" width="3.55" height="9.20" fill="#2a4b8c"/>
<rect x="211.36" y="414.05" width="3.55" height="9.20" fill="#2a4b8c"/>
<rect x="249.97" y="414.05" width="3.55" height="9.20" fill="#c9c9d0"/>
<text x="251.75" y="420.40" font-size="4.8" text-anchor="middle" font-weight="bold" fill="#1c1c1c">N</text>
<text x="84.40" y="421.95" font-size="7.5" text-anchor="end" fill="#1a1a1a" class="lb">KMT2D</text>
<rect x="338.40" y="413.60" width="15.00" height="9.00" fill="#e4921f"/>
<rect x="353.40" y="413.60" width="3.00" height="9.00" fill="#f0c026"/>
<rect x="356.40" y="413.60" width="6.00" height="9.00" fill="#8f87c5"/>
<rect x="88.20" y="423.80" width="29.29" height="9.95" fill="#e2e2e8"/>
<rect x="123.90" y="423.80" width="16.42" height="9.95" fill="#e2e2e8"/>
<rect x="145.80" y="423.80" width="42.16" height="9.95" fill="#e2e2e8"/>
<rect x="194.20" y="423.80" width="132.25" height="9.95" fill="#e2e2e8"/>
<rect x="249.13" y="423.80" width="0.94" height="9.95" fill="#f6f6f8"/>
<rect x="88.20" y="423.90" width="3.55" height="9.20" fill="#c9c9d0"/>
<rect x="92.49" y="423.90" width="3.55" height="9.20" fill="#c9c9d0"/>
<rect x="96.78" y="423.90" width="3.55" height="9.20" fill="#c9c9d0"/>
<rect x="101.07" y="423.90" width="3.55" height="9.20" fill="#c9c9d0"/>
<rect x="105.36" y="423.90" width="3.55" height="9.20" fill="#c9c9d0"/>
<rect x="109.65" y="423.90" width="3.55" height="9.20" fill="#c9c9d0"/>
<rect x="113.94" y="423.90" width="3.55" height="9.20" fill="#c9c9d0"/>
<rect x="123.90" y="423.90" width="3.55" height="9.20" fill="#c9c9d0"/>
<rect x="128.19" y="423.90" width="3.55" height="9.20" fill="#c9c9d0"/>
<rect x="132.48" y="423.90" width="3.55" height="9.20" fill="#c9c9d0"/>
<rect x="136.77" y="423.90" width="3.55" height="9.20" fill="#c9c9d0"/>
<rect x="145.80" y="423.90" width="3.55" height="9.20" fill="#c9c9d0"/>
<rect x="150.09" y="423.90" width="3.55" height="9.20" fill="#c9c9d0"/>
<rect x="154.38" y="423.90" width="3.55" height="9.20" fill="#c9c9d0"/>
<rect x="158.67" y="423.90" width="3.55" height="9.20" fill="#c9c9d0"/>
<rect x="162.96" y="423.90" width="3.55" height="9.20" fill="#c9c9d0"/>
<rect x="167.25" y="423.90" width="3.55" height="9.20" fill="#c9c9d0"/>
<rect x="171.54" y="423.90" width="3.55" height="9.20" fill="#c9c9d0"/>
<rect x="175.83" y="423.90" width="3.55" height="9.20" fill="#c9c9d0"/>
<rect x="180.12" y="423.90" width="3.55" height="9.20" fill="#c9c9d0"/>
<rect x="184.41" y="423.90" width="3.55" height="9.20" fill="#c9c9d0"/>
<rect x="194.20" y="423.90" width="3.55" height="9.20" fill="#c9c9d0"/>
<rect x="198.49" y="423.90" width="3.55" height="9.20" fill="#c9c9d0"/>
<rect x="202.78" y="423.90" width="3.55" height="9.20" fill="#c9c9d0"/>
<rect x="207.07" y="423.90" width="3.55" height="9.20" fill="#c9c9d0"/>
<rect x="211.36" y="423.90" width="3.55" height="9.20" fill="#c9c9d0"/>
<rect x="215.65" y="423.90" width="3.55" height="9.20" fill="#c9c9d0"/>
<rect x="219.94" y="423.90" width="3.55" height="9.20" fill="#c9c9d0"/>
<rect x="224.23" y="423.90" width="3.55" height="9.20" fill="#c9c9d0"/>
<rect x="228.52" y="423.90" width="3.55" height="9.20" fill="#c9c9d0"/>
<rect x="232.81" y="423.90" width="3.55" height="9.20" fill="#c9c9d0"/>
<rect x="237.10" y="423.90" width="3.55" height="9.20" fill="#c9c9d0"/>
<rect x="241.39" y="423.90" width="3.55" height="9.20" fill="#c9c9d0"/>
<rect x="245.68" y="423.90" width="3.55" height="9.20" fill="#c9c9d0"/>
<rect x="249.97" y="423.90" width="3.55" height="9.20" fill="#c9c9d0"/>
<rect x="254.26" y="423.90" width="3.55" height="9.20" fill="#c9c9d0"/>
<rect x="258.55" y="423.90" width="3.55" height="9.20" fill="#c9c9d0"/>
<rect x="262.84" y="423.90" width="3.55" height="9.20" fill="#c9c9d0"/>
<rect x="267.13" y="423.90" width="3.55" height="9.20" fill="#c9c9d0"/>
<rect x="271.42" y="423.90" width="3.55" height="9.20" fill="#c9c9d0"/>
<rect x="275.71" y="423.90" width="3.55" height="9.20" fill="#c9c9d0"/>
<rect x="280.00" y="423.90" width="3.55" height="9.20" fill="#c9c9d0"/>
<rect x="284.29" y="423.90" width="3.55" height="9.20" fill="#c9c9d0"/>
<rect x="288.58" y="423.90" width="3.55" height="9.20" fill="#c9c9d0"/>
<rect x="292.87" y="423.90" width="3.55" height="9.20" fill="#c9c9d0"/>
<rect x="297.16" y="423.90" width="3.55" height="9.20" fill="#c9c9d0"/>
<rect x="301.45" y="423.90" width="3.55" height="9.20" fill="#c9c9d0"/>
<rect x="305.74" y="423.90" width="3.55" height="9.20" fill="#c9c9d0"/>
<rect x="310.03" y="423.90" width="3.55" height="9.20" fill="#c9c9d0"/>
<rect x="314.32" y="423.90" width="3.55" height="9.20" fill="#c9c9d0"/>
<rect x="318.61" y="423.90" width="3.55" height="9.20" fill="#c9c9d0"/>
<rect x="322.90" y="423.90" width="3.55" height="9.20" fill="#c9c9d0"/>
<rect x="92.49" y="423.90" width="3.55" height="4.60" fill="#b3102e"/>
<rect x="92.49" y="428.50" width="3.55" height="4.60" fill="#f2c31e"/>
<rect x="109.65" y="423.90" width="3.55" height="9.20" fill="#2a4b8c"/>
<rect x="113.94" y="423.90" width="3.55" height="4.60" fill="#2a4b8c"/>
<rect x="113.94" y="428.50" width="3.55" height="4.60" fill="#f2c31e"/>
<rect x="171.54" y="423.90" width="3.55" height="9.20" fill="#c9c9d0"/>
<text x="173.32" y="430.25" font-size="4.8" text-anchor="middle" font-weight="bold" fill="#1c1c1c">G</text>
<rect x="175.83" y="423.90" width="3.55" height="9.20" fill="#2a4b8c"/>
<rect x="219.94" y="423.90" width="3.55" height="4.60" fill="#2a4b8c"/>
<rect x="219.94" y="428.50" width="3.55" height="4.60" fill="#f2c31e"/>
<rect x="249.97" y="423.90" width="3.55" height="9.20" fill="#c9c9d0"/>
<text x="251.75" y="430.25" font-size="4.8" text-anchor="middle" font-weight="bold" fill="#1c1c1c">N</text>
<text x="84.40" y="431.80" font-size="7.5" text-anchor="end" fill="#1a1a1a" class="lb">BCL7A</text>
<rect x="338.40" y="423.45" width="9.00" height="9.00" fill="#e4921f"/>
<rect x="347.40" y="423.45" width="3.00" height="9.00" fill="#f0c026"/>
<rect x="350.40" y="423.45" width="3.00" height="9.00" fill="#8f87c5"/>
<rect x="88.20" y="433.65" width="29.29" height="9.95" fill="#e2e2e8"/>
<rect x="123.90" y="433.65" width="16.42" height="9.95" fill="#e2e2e8"/>
<rect x="145.80" y="433.65" width="42.16" height="9.95" fill="#e2e2e8"/>
<rect x="194.20" y="433.65" width="132.25" height="9.95" fill="#e2e2e8"/>
<rect x="249.13" y="433.65" width="0.94" height="9.95" fill="#f6f6f8"/>
<rect x="88.20" y="433.75" width="3.55" height="9.20" fill="#c9c9d0"/>
<rect x="92.49" y="433.75" width="3.55" height="9.20" fill="#c9c9d0"/>
<rect x="96.78" y="433.75" width="3.55" height="9.20" fill="#c9c9d0"/>
<rect x="101.07" y="433.75" width="3.55" height="9.20" fill="#c9c9d0"/>
<rect x="105.36" y="433.75" width="3.55" height="9.20" fill="#c9c9d0"/>
<rect x="109.65" y="433.75" width="3.55" height="9.20" fill="#c9c9d0"/>
<rect x="113.94" y="433.75" width="3.55" height="9.20" fill="#c9c9d0"/>
<rect x="123.90" y="433.75" width="3.55" height="9.20" fill="#c9c9d0"/>
<rect x="128.19" y="433.75" width="3.55" height="9.20" fill="#c9c9d0"/>
<rect x="132.48" y="433.75" width="3.55" height="9.20" fill="#c9c9d0"/>
<rect x="136.77" y="433.75" width="3.55" height="9.20" fill="#c9c9d0"/>
<rect x="145.80" y="433.75" width="3.55" height="9.20" fill="#c9c9d0"/>
<rect x="150.09" y="433.75" width="3.55" height="9.20" fill="#c9c9d0"/>
<rect x="154.38" y="433.75" width="3.55" height="9.20" fill="#c9c9d0"/>
<rect x="158.67" y="433.75" width="3.55" height="9.20" fill="#c9c9d0"/>
<rect x="162.96" y="433.75" width="3.55" height="9.20" fill="#c9c9d0"/>
<rect x="167.25" y="433.75" width="3.55" height="9.20" fill="#c9c9d0"/>
<rect x="171.54" y="433.75" width="3.55" height="9.20" fill="#c9c9d0"/>
<rect x="175.83" y="433.75" width="3.55" height="9.20" fill="#c9c9d0"/>
<rect x="180.12" y="433.75" width="3.55" height="9.20" fill="#c9c9d0"/>
<rect x="184.41" y="433.75" width="3.55" height="9.20" fill="#c9c9d0"/>
<rect x="194.20" y="433.75" width="3.55" height="9.20" fill="#c9c9d0"/>
<rect x="198.49" y="433.75" width="3.55" height="9.20" fill="#c9c9d0"/>
<rect x="202.78" y="433.75" width="3.55" height="9.20" fill="#c9c9d0"/>
<rect x="207.07" y="433.75" width="3.55" height="9.20" fill="#c9c9d0"/>
<rect x="211.36" y="433.75" width="3.55" height="9.20" fill="#c9c9d0"/>
<rect x="215.65" y="433.75" width="3.55" height="9.20" fill="#c9c9d0"/>
<rect x="219.94" y="433.75" width="3.55" height="9.20" fill="#c9c9d0"/>
<rect x="224.23" y="433.75" width="3.55" height="9.20" fill="#c9c9d0"/>
<rect x="228.52" y="433.75" width="3.55" height="9.20" fill="#c9c9d0"/>
<rect x="232.81" y="433.75" width="3.55" height="9.20" fill="#c9c9d0"/>
<rect x="237.10" y="433.75" width="3.55" height="9.20" fill="#c9c9d0"/>
<rect x="241.39" y="433.75" width="3.55" height="9.20" fill="#c9c9d0"/>
<rect x="245.68" y="433.75" width="3.55" height="9.20" fill="#c9c9d0"/>
<rect x="249.97" y="433.75" width="3.55" height="9.20" fill="#c9c9d0"/>
<rect x="254.26" y="433.75" width="3.55" height="9.20" fill="#c9c9d0"/>
<rect x="258.55" y="433.75" width="3.55" height="9.20" fill="#c9c9d0"/>
<rect x="262.84" y="433.75" width="3.55" height="9.20" fill="#c9c9d0"/>
<rect x="267.13" y="433.75" width="3.55" height="9.20" fill="#c9c9d0"/>
<rect x="271.42" y="433.75" width="3.55" height="9.20" fill="#c9c9d0"/>
<rect x="275.71" y="433.75" width="3.55" height="9.20" fill="#c9c9d0"/>
<rect x="280.00" y="433.75" width="3.55" height="9.20" fill="#c9c9d0"/>
<rect x="284.29" y="433.75" width="3.55" height="9.20" fill="#c9c9d0"/>
<rect x="288.58" y="433.75" width="3.55" height="9.20" fill="#c9c9d0"/>
<rect x="292.87" y="433.75" width="3.55" height="9.20" fill="#c9c9d0"/>
<rect x="297.16" y="433.75" width="3.55" height="9.20" fill="#c9c9d0"/>
<rect x="301.45" y="433.75" width="3.55" height="9.20" fill="#c9c9d0"/>
<rect x="305.74" y="433.75" width="3.55" height="9.20" fill="#c9c9d0"/>
<rect x="310.03" y="433.75" width="3.55" height="9.20" fill="#c9c9d0"/>
<rect x="314.32" y="433.75" width="3.55" height="9.20" fill="#c9c9d0"/>
<rect x="318.61" y="433.75" width="3.55" height="9.20" fill="#c9c9d0"/>
<rect x="322.90" y="433.75" width="3.55" height="9.20" fill="#c9c9d0"/>
<rect x="92.49" y="433.75" width="3.55" height="9.20" fill="#c9c9d0"/>
<text x="94.27" y="440.10" font-size="4.8" text-anchor="middle" font-weight="bold" fill="#1c1c1c">G</text>
<rect x="113.94" y="433.75" width="3.55" height="9.20" fill="#c9c9d0"/>
<text x="115.72" y="440.10" font-size="4.8" text-anchor="middle" font-weight="bold" fill="#1c1c1c">L</text>
<rect x="132.48" y="433.75" width="3.55" height="9.20" fill="#2a4b8c"/>
<rect x="158.67" y="433.75" width="3.55" height="9.20" fill="#2a4b8c"/>
<rect x="180.12" y="433.75" width="3.55" height="9.20" fill="#2a4b8c"/>
<rect x="207.07" y="433.75" width="3.55" height="9.20" fill="#2a4b8c"/>
<rect x="219.94" y="433.75" width="3.55" height="9.20" fill="#2a4b8c"/>
<rect x="245.68" y="433.75" width="3.55" height="9.20" fill="#c9c9d0"/>
<text x="247.46" y="440.10" font-size="4.8" text-anchor="middle" font-weight="bold" fill="#1c1c1c">G</text>
<rect x="254.26" y="433.75" width="3.55" height="9.20" fill="#c9c9d0"/>
<text x="256.03" y="440.10" font-size="4.8" text-anchor="middle" font-weight="bold" fill="#1c1c1c">L</text>
<rect x="262.84" y="433.75" width="3.55" height="9.20" fill="#2a4b8c"/>
<rect x="310.03" y="433.75" width="3.55" height="9.20" fill="#c9c9d0"/>
<text x="311.80" y="440.10" font-size="4.8" text-anchor="middle" font-weight="bold" fill="#1c1c1c">N</text>
<text x="84.40" y="441.65" font-size="7.5" text-anchor="end" fill="#1a1a1a" class="lb">ARID1B</text>
<rect x="338.40" y="433.30" width="3.00" height="9.00" fill="#a8102a"/>
<rect x="341.40" y="433.30" width="6.00" height="9.00" fill="#f0c026"/>
<rect x="347.40" y="433.30" width="9.00" height="9.00" fill="#8f87c5"/>
<rect x="88.20" y="443.50" width="29.29" height="9.95" fill="#e2e2e8"/>
<rect x="123.90" y="443.50" width="16.42" height="9.95" fill="#e2e2e8"/>
<rect x="145.80" y="443.50" width="42.16" height="9.95" fill="#e2e2e8"/>
<rect x="194.20" y="443.50" width="132.25" height="9.95" fill="#e2e2e8"/>
<rect x="249.13" y="443.50" width="0.94" height="9.95" fill="#f6f6f8"/>
<rect x="88.20" y="443.60" width="3.55" height="9.20" fill="#c9c9d0"/>
<rect x="92.49" y="443.60" width="3.55" height="9.20" fill="#c9c9d0"/>
<rect x="96.78" y="443.60" width="3.55" height="9.20" fill="#c9c9d0"/>
<rect x="101.07" y="443.60" width="3.55" height="9.20" fill="#c9c9d0"/>
<rect x="105.36" y="443.60" width="3.55" height="9.20" fill="#c9c9d0"/>
<rect x="109.65" y="443.60" width="3.55" height="9.20" fill="#c9c9d0"/>
<rect x="113.94" y="443.60" width="3.55" height="9.20" fill="#c9c9d0"/>
<rect x="123.90" y="443.60" width="3.55" height="9.20" fill="#c9c9d0"/>
<rect x="128.19" y="443.60" width="3.55" height="9.20" fill="#c9c9d0"/>
<rect x="132.48" y="443.60" width="3.55" height="9.20" fill="#c9c9d0"/>
<rect x="136.77" y="443.60" width="3.55" height="9.20" fill="#c9c9d0"/>
<rect x="145.80" y="443.60" width="3.55" height="9.20" fill="#c9c9d0"/>
<rect x="150.09" y="443.60" width="3.55" height="9.20" fill="#c9c9d0"/>
<rect x="154.38" y="443.60" width="3.55" height="9.20" fill="#c9c9d0"/>
<rect x="158.67" y="443.60" width="3.55" height="9.20" fill="#c9c9d0"/>
<rect x="162.96" y="443.60" width="3.55" height="9.20" fill="#c9c9d0"/>
<rect x="167.25" y="443.60" width="3.55" height="9.20" fill="#c9c9d0"/>
<rect x="171.54" y="443.60" width="3.55" height="9.20" fill="#c9c9d0"/>
<rect x="175.83" y="443.60" width="3.55" height="9.20" fill="#c9c9d0"/>
<rect x="180.12" y="443.60" width="3.55" height="9.20" fill="#c9c9d0"/>
<rect x="184.41" y="443.60" width="3.55" height="9.20" fill="#c9c9d0"/>
<rect x="194.20" y="443.60" width="3.55" height="9.20" fill="#c9c9d0"/>
<rect x="198.49" y="443.60" width="3.55" height="9.20" fill="#c9c9d0"/>
<rect x="202.78" y="443.60" width="3.55" height="9.20" fill="#c9c9d0"/>
<rect x="207.07" y="443.60" width="3.55" height="9.20" fill="#c9c9d0"/>
<rect x="211.36" y="443.60" width="3.55" height="9.20" fill="#c9c9d0"/>
<rect x="215.65" y="443.60" width="3.55" height="9.20" fill="#c9c9d0"/>
<rect x="219.94" y="443.60" width="3.55" height="9.20" fill="#c9c9d0"/>
<rect x="224.23" y="443.60" width="3.55" height="9.20" fill="#c9c9d0"/>
<rect x="228.52" y="443.60" width="3.55" height="9.20" fill="#c9c9d0"/>
<rect x="232.81" y="443.60" width="3.55" height="9.20" fill="#c9c9d0"/>
<rect x="237.10" y="443.60" width="3.55" height="9.20" fill="#c9c9d0"/>
<rect x="241.39" y="443.60" width="3.55" height="9.20" fill="#c9c9d0"/>
<rect x="245.68" y="443.60" width="3.55" height="9.20" fill="#c9c9d0"/>
<rect x="249.97" y="443.60" width="3.55" height="9.20" fill="#c9c9d0"/>
<rect x="254.26" y="443.60" width="3.55" height="9.20" fill="#c9c9d0"/>
<rect x="258.55" y="443.60" width="3.55" height="9.20" fill="#c9c9d0"/>
<rect x="262.84" y="443.60" width="3.55" height="9.20" fill="#c9c9d0"/>
<rect x="267.13" y="443.60" width="3.55" height="9.20" fill="#c9c9d0"/>
<rect x="271.42" y="443.60" width="3.55" height="9.20" fill="#c9c9d0"/>
<rect x="275.71" y="443.60" width="3.55" height="9.20" fill="#c9c9d0"/>
<rect x="280.00" y="443.60" width="3.55" height="9.20" fill="#c9c9d0"/>
<rect x="284.29" y="443.60" width="3.55" height="9.20" fill="#c9c9d0"/>
<rect x="288.58" y="443.60" width="3.55" height="9.20" fill="#c9c9d0"/>
<rect x="292.87" y="443.60" width="3.55" height="9.20" fill="#c9c9d0"/>
<rect x="297.16" y="443.60" width="3.55" height="9.20" fill="#c9c9d0"/>
<rect x="301.45" y="443.60" width="3.55" height="9.20" fill="#c9c9d0"/>
<rect x="305.74" y="443.60" width="3.55" height="9.20" fill="#c9c9d0"/>
<rect x="310.03" y="443.60" width="3.55" height="9.20" fill="#c9c9d0"/>
<rect x="314.32" y="443.60" width="3.55" height="9.20" fill="#c9c9d0"/>
<rect x="318.61" y="443.60" width="3.55" height="9.20" fill="#c9c9d0"/>
<rect x="322.90" y="443.60" width="3.55" height="9.20" fill="#c9c9d0"/>
<rect x="96.78" y="443.60" width="3.55" height="9.20" fill="#2a4b8c"/>
<rect x="105.36" y="443.60" width="3.55" height="9.20" fill="#c9c9d0"/>
<text x="107.14" y="449.95" font-size="4.8" text-anchor="middle" font-weight="bold" fill="#1c1c1c">G</text>
<rect x="175.83" y="443.60" width="3.55" height="9.20" fill="#2a4b8c"/>
<rect x="245.68" y="443.60" width="3.55" height="9.20" fill="#2a4b8c"/>
<rect x="284.29" y="443.60" width="3.55" height="9.20" fill="#c9c9d0"/>
<text x="286.06" y="449.95" font-size="4.8" text-anchor="middle" font-weight="bold" fill="#1c1c1c">G</text>
<rect x="322.90" y="443.60" width="3.55" height="9.20" fill="#c9c9d0"/>
<text x="324.67" y="449.95" font-size="4.8" text-anchor="middle" font-weight="bold" fill="#1c1c1c">G</text>
<text x="84.40" y="451.50" font-size="7.5" text-anchor="end" fill="#1a1a1a" class="lb">EZH2</text>
<rect x="338.40" y="443.15" width="6.00" height="9.00" fill="#f0c026"/>
<rect x="344.40" y="443.15" width="3.00" height="9.00" fill="#8f87c5"/>
<rect x="88.20" y="453.35" width="29.29" height="9.95" fill="#e2e2e8"/>
<rect x="123.90" y="453.35" width="16.42" height="9.95" fill="#e2e2e8"/>
<rect x="145.80" y="453.35" width="42.16" height="9.95" fill="#e2e2e8"/>
<rect x="194.20" y="453.35" width="132.25" height="9.95" fill="#e2e2e8"/>
<rect x="249.13" y="453.35" width="0.94" height="9.95" fill="#f6f6f8"/>
<rect x="88.20" y="453.45" width="3.55" height="9.20" fill="#c9c9d0"/>
<rect x="92.49" y="453.45" width="3.55" height="9.20" fill="#c9c9d0"/>
<rect x="96.78" y="453.45" width="3.55" height="9.20" fill="#c9c9d0"/>
<rect x="101.07" y="453.45" width="3.55" height="9.20" fill="#c9c9d0"/>
<rect x="105.36" y="453.45" width="3.55" height="9.20" fill="#c9c9d0"/>
<rect x="109.65" y="453.45" width="3.55" height="9.20" fill="#c9c9d0"/>
<rect x="113.94" y="453.45" width="3.55" height="9.20" fill="#c9c9d0"/>
<rect x="123.90" y="453.45" width="3.55" height="9.20" fill="#c9c9d0"/>
<rect x="128.19" y="453.45" width="3.55" height="9.20" fill="#c9c9d0"/>
<rect x="132.48" y="453.45" width="3.55" height="9.20" fill="#c9c9d0"/>
<rect x="136.77" y="453.45" width="3.55" height="9.20" fill="#c9c9d0"/>
<rect x="145.80" y="453.45" width="3.55" height="9.20" fill="#c9c9d0"/>
<rect x="150.09" y="453.45" width="3.55" height="9.20" fill="#c9c9d0"/>
<rect x="154.38" y="453.45" width="3.55" height="9.20" fill="#c9c9d0"/>
<rect x="158.67" y="453.45" width="3.55" height="9.20" fill="#c9c9d0"/>
<rect x="162.96" y="453.45" width="3.55" height="9.20" fill="#c9c9d0"/>
<rect x="167.25" y="453.45" width="3.55" height="9.20" fill="#c9c9d0"/>
<rect x="171.54" y="453.45" width="3.55" height="9.20" fill="#c9c9d0"/>
<rect x="175.83" y="453.45" width="3.55" height="9.20" fill="#c9c9d0"/>
<rect x="180.12" y="453.45" width="3.55" height="9.20" fill="#c9c9d0"/>
<rect x="184.41" y="453.45" width="3.55" height="9.20" fill="#c9c9d0"/>
<rect x="194.20" y="453.45" width="3.55" height="9.20" fill="#c9c9d0"/>
<rect x="198.49" y="453.45" width="3.55" height="9.20" fill="#c9c9d0"/>
<rect x="202.78" y="453.45" width="3.55" height="9.20" fill="#c9c9d0"/>
<rect x="207.07" y="453.45" width="3.55" height="9.20" fill="#c9c9d0"/>
<rect x="211.36" y="453.45" width="3.55" height="9.20" fill="#c9c9d0"/>
<rect x="215.65" y="453.45" width="3.55" height="9.20" fill="#c9c9d0"/>
<rect x="219.94" y="453.45" width="3.55" height="9.20" fill="#c9c9d0"/>
<rect x="224.23" y="453.45" width="3.55" height="9.20" fill="#c9c9d0"/>
<rect x="228.52" y="453.45" width="3.55" height="9.20" fill="#c9c9d0"/>
<rect x="232.81" y="453.45" width="3.55" height="9.20" fill="#c9c9d0"/>
<rect x="237.10" y="453.45" width="3.55" height="9.20" fill="#c9c9d0"/>
<rect x="241.39" y="453.45" width="3.55" height="9.20" fill="#c9c9d0"/>
<rect x="245.68" y="453.45" width="3.55" height="9.20" fill="#c9c9d0"/>
<rect x="249.97" y="453.45" width="3.55" height="9.20" fill="#c9c9d0"/>
<rect x="254.26" y="453.45" width="3.55" height="9.20" fill="#c9c9d0"/>
<rect x="258.55" y="453.45" width="3.55" height="9.20" fill="#c9c9d0"/>
<rect x="262.84" y="453.45" width="3.55" height="9.20" fill="#c9c9d0"/>
<rect x="267.13" y="453.45" width="3.55" height="9.20" fill="#c9c9d0"/>
<rect x="271.42" y="453.45" width="3.55" height="9.20" fill="#c9c9d0"/>
<rect x="275.71" y="453.45" width="3.55" height="9.20" fill="#c9c9d0"/>
<rect x="280.00" y="453.45" width="3.55" height="9.20" fill="#c9c9d0"/>
<rect x="284.29" y="453.45" width="3.55" height="9.20" fill="#c9c9d0"/>
<rect x="288.58" y="453.45" width="3.55" height="9.20" fill="#c9c9d0"/>
<rect x="292.87" y="453.45" width="3.55" height="9.20" fill="#c9c9d0"/>
<rect x="297.16" y="453.45" width="3.55" height="9.20" fill="#c9c9d0"/>
<rect x="301.45" y="453.45" width="3.55" height="9.20" fill="#c9c9d0"/>
<rect x="305.74" y="453.45" width="3.55" height="9.20" fill="#c9c9d0"/>
<rect x="310.03" y="453.45" width="3.55" height="9.20" fill="#c9c9d0"/>
<rect x="314.32" y="453.45" width="3.55" height="9.20" fill="#c9c9d0"/>
<rect x="318.61" y="453.45" width="3.55" height="9.20" fill="#c9c9d0"/>
<rect x="322.90" y="453.45" width="3.55" height="9.20" fill="#c9c9d0"/>
<rect x="158.67" y="453.45" width="3.55" height="9.20" fill="#c9c9d0"/>
<text x="160.45" y="459.80" font-size="4.8" text-anchor="middle" font-weight="bold" fill="#1c1c1c">G</text>
<rect x="167.25" y="453.45" width="3.55" height="9.20" fill="#2a4b8c"/>
<rect x="180.12" y="453.45" width="3.55" height="9.20" fill="#c9c9d0"/>
<text x="181.90" y="459.80" font-size="4.8" text-anchor="middle" font-weight="bold" fill="#1c1c1c">L</text>
<rect x="184.41" y="453.45" width="3.55" height="9.20" fill="#c9c9d0"/>
<text x="186.19" y="459.80" font-size="4.8" text-anchor="middle" font-weight="bold" fill="#1c1c1c">G</text>
<rect x="228.52" y="453.45" width="3.55" height="4.60" fill="#2a4b8c"/>
<rect x="228.52" y="458.05" width="3.55" height="4.60" fill="#b3102e"/>
<rect x="245.68" y="453.45" width="3.55" height="9.20" fill="#c9c9d0"/>
<text x="247.46" y="459.80" font-size="4.8" text-anchor="middle" font-weight="bold" fill="#1c1c1c">G</text>
<rect x="288.58" y="453.45" width="3.55" height="9.20" fill="#c9c9d0"/>
<text x="290.35" y="459.80" font-size="4.8" text-anchor="middle" font-weight="bold" fill="#1c1c1c">G</text>
<text x="84.40" y="461.35" font-size="7.5" text-anchor="end" fill="#1a1a1a" class="lb">KMT2A</text>
<rect x="338.40" y="453.00" width="3.00" height="9.00" fill="#f0c026"/>
<rect x="341.40" y="453.00" width="3.00" height="9.00" fill="#8f87c5"/>
<rect x="88.20" y="463.20" width="29.29" height="9.95" fill="#e2e2e8"/>
<rect x="123.90" y="463.20" width="16.42" height="9.95" fill="#e2e2e8"/>
<rect x="145.80" y="463.20" width="42.16" height="9.95" fill="#e2e2e8"/>
<rect x="194.20" y="463.20" width="132.25" height="9.95" fill="#e2e2e8"/>
<rect x="249.13" y="463.20" width="0.94" height="9.95" fill="#f6f6f8"/>
<rect x="88.20" y="463.30" width="3.55" height="9.20" fill="#c9c9d0"/>
<rect x="92.49" y="463.30" width="3.55" height="9.20" fill="#c9c9d0"/>
<rect x="96.78" y="463.30" width="3.55" height="9.20" fill="#c9c9d0"/>
<rect x="101.07" y="463.30" width="3.55" height="9.20" fill="#c9c9d0"/>
<rect x="105.36" y="463.30" width="3.55" height="9.20" fill="#c9c9d0"/>
<rect x="109.65" y="463.30" width="3.55" height="9.20" fill="#c9c9d0"/>
<rect x="113.94" y="463.30" width="3.55" height="9.20" fill="#c9c9d0"/>
<rect x="123.90" y="463.30" width="3.55" height="9.20" fill="#c9c9d0"/>
<rect x="128.19" y="463.30" width="3.55" height="9.20" fill="#c9c9d0"/>
<rect x="132.48" y="463.30" width="3.55" height="9.20" fill="#c9c9d0"/>
<rect x="136.77" y="463.30" width="3.55" height="9.20" fill="#c9c9d0"/>
<rect x="145.80" y="463.30" width="3.55" height="9.20" fill="#c9c9d0"/>
<rect x="150.09" y="463.30" width="3.55" height="9.20" fill="#c9c9d0"/>
<rect x="154.38" y="463.30" width="3.55" height="9.20" fill="#c9c9d0"/>
<rect x="158.67" y="463.30" width="3.55" height="9.20" fill="#c9c9d0"/>
<rect x="162.96" y="463.30" width="3.55" height="9.20" fill="#c9c9d0"/>
<rect x="167.25" y="463.30" width="3.55" height="9.20" fill="#c9c9d0"/>
<rect x="171.54" y="463.30" width="3.55" height="9.20" fill="#c9c9d0"/>
<rect x="175.83" y="463.30" width="3.55" height="9.20" fill="#c9c9d0"/>
<rect x="180.12" y="463.30" width="3.55" height="9.20" fill="#c9c9d0"/>
<rect x="184.41" y="463.30" width="3.55" height="9.20" fill="#c9c9d0"/>
<rect x="194.20" y="463.30" width="3.55" height="9.20" fill="#c9c9d0"/>
<rect x="198.49" y="463.30" width="3.55" height="9.20" fill="#c9c9d0"/>
<rect x="202.78" y="463.30" width="3.55" height="9.20" fill="#c9c9d0"/>
<rect x="207.07" y="463.30" width="3.55" height="9.20" fill="#c9c9d0"/>
<rect x="211.36" y="463.30" width="3.55" height="9.20" fill="#c9c9d0"/>
<rect x="215.65" y="463.30" width="3.55" height="9.20" fill="#c9c9d0"/>
<rect x="219.94" y="463.30" width="3.55" height="9.20" fill="#c9c9d0"/>
<rect x="224.23" y="463.30" width="3.55" height="9.20" fill="#c9c9d0"/>
<rect x="228.52" y="463.30" width="3.55" height="9.20" fill="#c9c9d0"/>
<rect x="232.81" y="463.30" width="3.55" height="9.20" fill="#c9c9d0"/>
<rect x="237.10" y="463.30" width="3.55" height="9.20" fill="#c9c9d0"/>
<rect x="241.39" y="463.30" width="3.55" height="9.20" fill="#c9c9d0"/>
<rect x="245.68" y="463.30" width="3.55" height="9.20" fill="#c9c9d0"/>
<rect x="249.97" y="463.30" width="3.55" height="9.20" fill="#c9c9d0"/>
<rect x="254.26" y="463.30" width="3.55" height="9.20" fill="#c9c9d0"/>
<rect x="258.55" y="463.30" width="3.55" height="9.20" fill="#c9c9d0"/>
<rect x="262.84" y="463.30" width="3.55" height="9.20" fill="#c9c9d0"/>
<rect x="267.13" y="463.30" width="3.55" height="9.20" fill="#c9c9d0"/>
<rect x="271.42" y="463.30" width="3.55" height="9.20" fill="#c9c9d0"/>
<rect x="275.71" y="463.30" width="3.55" height="9.20" fill="#c9c9d0"/>
<rect x="280.00" y="463.30" width="3.55" height="9.20" fill="#c9c9d0"/>
<rect x="284.29" y="463.30" width="3.55" height="9.20" fill="#c9c9d0"/>
<rect x="288.58" y="463.30" width="3.55" height="9.20" fill="#c9c9d0"/>
<rect x="292.87" y="463.30" width="3.55" height="9.20" fill="#c9c9d0"/>
<rect x="297.16" y="463.30" width="3.55" height="9.20" fill="#c9c9d0"/>
<rect x="301.45" y="463.30" width="3.55" height="9.20" fill="#c9c9d0"/>
<rect x="305.74" y="463.30" width="3.55" height="9.20" fill="#c9c9d0"/>
<rect x="310.03" y="463.30" width="3.55" height="9.20" fill="#c9c9d0"/>
<rect x="314.32" y="463.30" width="3.55" height="9.20" fill="#c9c9d0"/>
<rect x="318.61" y="463.30" width="3.55" height="9.20" fill="#c9c9d0"/>
<rect x="322.90" y="463.30" width="3.55" height="9.20" fill="#c9c9d0"/>
<rect x="96.78" y="463.30" width="3.55" height="9.20" fill="#c9c9d0"/>
<text x="98.56" y="469.65" font-size="4.8" text-anchor="middle" font-weight="bold" fill="#1c1c1c">G</text>
<rect x="105.36" y="463.30" width="3.55" height="9.20" fill="#c9c9d0"/>
<text x="107.14" y="469.65" font-size="4.8" text-anchor="middle" font-weight="bold" fill="#1c1c1c">G</text>
<rect x="219.94" y="463.30" width="3.55" height="9.20" fill="#2a4b8c"/>
<rect x="258.55" y="463.30" width="3.55" height="9.20" fill="#2a4b8c"/>
<rect x="280.00" y="463.30" width="3.55" height="9.20" fill="#2a4b8c"/>
<rect x="284.29" y="463.30" width="3.55" height="9.20" fill="#c9c9d0"/>
<text x="286.06" y="469.65" font-size="4.8" text-anchor="middle" font-weight="bold" fill="#1c1c1c">G</text>
<rect x="322.90" y="463.30" width="3.55" height="9.20" fill="#c9c9d0"/>
<text x="324.67" y="469.65" font-size="4.8" text-anchor="middle" font-weight="bold" fill="#1c1c1c">G</text>
<text x="84.40" y="471.20" font-size="7.5" text-anchor="end" fill="#1a1a1a" class="lb">KMT2C</text>
<rect x="338.40" y="462.85" width="9.00" height="9.00" fill="#8f87c5"/>
<path d="M337.9 474.5 V385.2 H432.6 V474.7" fill="none" stroke="#111" stroke-width="1.5"/>
<text x="436.60" y="433.20" font-size="11" text-anchor="start" font-weight="bold" fill="#111">Epigenetics</text>
<rect x="88.20" y="484.20" width="29.29" height="9.95" fill="#e2e2e8"/>
<rect x="123.90" y="484.20" width="16.42" height="9.95" fill="#e2e2e8"/>
<rect x="145.80" y="484.20" width="42.16" height="9.95" fill="#e2e2e8"/>
<rect x="194.20" y="484.20" width="132.25" height="9.95" fill="#e2e2e8"/>
<rect x="249.13" y="484.20" width="0.94" height="9.95" fill="#f6f6f8"/>
<rect x="88.20" y="484.30" width="3.55" height="9.20" fill="#c9c9d0"/>
<rect x="92.49" y="484.30" width="3.55" height="9.20" fill="#c9c9d0"/>
<rect x="96.78" y="484.30" width="3.55" height="9.20" fill="#c9c9d0"/>
<rect x="101.07" y="484.30" width="3.55" height="9.20" fill="#c9c9d0"/>
<rect x="105.36" y="484.30" width="3.55" height="9.20" fill="#c9c9d0"/>
<rect x="109.65" y="484.30" width="3.55" height="9.20" fill="#c9c9d0"/>
<rect x="113.94" y="484.30" width="3.55" height="9.20" fill="#c9c9d0"/>
<rect x="123.90" y="484.30" width="3.55" height="9.20" fill="#c9c9d0"/>
<rect x="128.19" y="484.30" width="3.55" height="9.20" fill="#c9c9d0"/>
<rect x="132.48" y="484.30" width="3.55" height="9.20" fill="#c9c9d0"/>
<rect x="136.77" y="484.30" width="3.55" height="9.20" fill="#c9c9d0"/>
<rect x="145.80" y="484.30" width="3.55" height="9.20" fill="#c9c9d0"/>
<rect x="150.09" y="484.30" width="3.55" height="9.20" fill="#c9c9d0"/>
<rect x="154.38" y="484.30" width="3.55" height="9.20" fill="#c9c9d0"/>
<rect x="158.67" y="484.30" width="3.55" height="9.20" fill="#c9c9d0"/>
<rect x="162.96" y="484.30" width="3.55" height="9.20" fill="#c9c9d0"/>
<rect x="167.25" y="484.30" width="3.55" height="9.20" fill="#c9c9d0"/>
<rect x="171.54" y="484.30" width="3.55" height="9.20" fill="#c9c9d0"/>
<rect x="175.83" y="484.30" width="3.55" height="9.20" fill="#c9c9d0"/>
<rect x="180.12" y="484.30" width="3.55" height="9.20" fill="#c9c9d0"/>
<rect x="184.41" y="484.30" width="3.55" height="9.20" fill="#c9c9d0"/>
<rect x="194.20" y="484.30" width="3.55" height="9.20" fill="#c9c9d0"/>
<rect x="198.49" y="484.30" width="3.55" height="9.20" fill="#c9c9d0"/>
<rect x="202.78" y="484.30" width="3.55" height="9.20" fill="#c9c9d0"/>
<rect x="207.07" y="484.30" width="3.55" height="9.20" fill="#c9c9d0"/>
<rect x="211.36" y="484.30" width="3.55" height="9.20" fill="#c9c9d0"/>
<rect x="215.65" y="484.30" width="3.55" height="9.20" fill="#c9c9d0"/>
<rect x="219.94" y="484.30" width="3.55" height="9.20" fill="#c9c9d0"/>
<rect x="224.23" y="484.30" width="3.55" height="9.20" fill="#c9c9d0"/>
<rect x="228.52" y="484.30" width="3.55" height="9.20" fill="#c9c9d0"/>
<rect x="232.81" y="484.30" width="3.55" height="9.20" fill="#c9c9d0"/>
<rect x="237.10" y="484.30" width="3.55" height="9.20" fill="#c9c9d0"/>
<rect x="241.39" y="484.30" width="3.55" height="9.20" fill="#c9c9d0"/>
<rect x="245.68" y="484.30" width="3.55" height="9.20" fill="#c9c9d0"/>
<rect x="249.97" y="484.30" width="3.55" height="9.20" fill="#c9c9d0"/>
<rect x="254.26" y="484.30" width="3.55" height="9.20" fill="#c9c9d0"/>
<rect x="258.55" y="484.30" width="3.55" height="9.20" fill="#c9c9d0"/>
<rect x="262.84" y="484.30" width="3.55" height="9.20" fill="#c9c9d0"/>
<rect x="267.13" y="484.30" width="3.55" height="9.20" fill="#c9c9d0"/>
<rect x="271.42" y="484.30" width="3.55" height="9.20" fill="#c9c9d0"/>
<rect x="275.71" y="484.30" width="3.55" height="9.20" fill="#c9c9d0"/>
<rect x="280.00" y="484.30" width="3.55" height="9.20" fill="#c9c9d0"/>
<rect x="284.29" y="484.30" width="3.55" height="9.20" fill="#c9c9d0"/>
<rect x="288.58" y="484.30" width="3.55" height="9.20" fill="#c9c9d0"/>
<rect x="292.87" y="484.30" width="3.55" height="9.20" fill="#c9c9d0"/>
<rect x="297.16" y="484.30" width="3.55" height="9.20" fill="#c9c9d0"/>
<rect x="301.45" y="484.30" width="3.55" height="9.20" fill="#c9c9d0"/>
<rect x="305.74" y="484.30" width="3.55" height="9.20" fill="#c9c9d0"/>
<rect x="310.03" y="484.30" width="3.55" height="9.20" fill="#c9c9d0"/>
<rect x="314.32" y="484.30" width="3.55" height="9.20" fill="#c9c9d0"/>
<rect x="318.61" y="484.30" width="3.55" height="9.20" fill="#c9c9d0"/>
<rect x="322.90" y="484.30" width="3.55" height="9.20" fill="#c9c9d0"/>
<rect x="96.78" y="484.30" width="3.55" height="9.20" fill="#c9c9d0"/>
<text x="98.56" y="490.65" font-size="4.8" text-anchor="middle" font-weight="bold" fill="#1c1c1c">G</text>
<rect x="113.94" y="484.30" width="3.55" height="9.20" fill="#c9c9d0"/>
<text x="115.72" y="490.65" font-size="4.8" text-anchor="middle" font-weight="bold" fill="#1c1c1c">G</text>
<rect x="132.48" y="484.30" width="3.55" height="9.20" fill="#2a4b8c"/>
<rect x="171.54" y="484.30" width="3.55" height="9.20" fill="#b3102e"/>
<rect x="202.78" y="484.30" width="3.55" height="9.20" fill="#c9c9d0"/>
<text x="204.56" y="490.65" font-size="4.8" text-anchor="middle" font-weight="bold" fill="#1c1c1c">N</text>
<rect x="219.94" y="484.30" width="3.55" height="9.20" fill="#2a4b8c"/>
<rect x="232.81" y="484.30" width="3.55" height="4.60" fill="#5aab47"/>
<rect x="232.81" y="488.90" width="3.55" height="4.60" fill="#b3102e"/>
<rect x="237.10" y="484.30" width="3.55" height="9.20" fill="#2a4b8c"/>
<rect x="241.39" y="484.30" width="3.55" height="9.20" fill="#b3102e"/>
<rect x="262.84" y="484.30" width="3.55" height="9.20" fill="#2a4b8c"/>
<rect x="275.71" y="484.30" width="3.55" height="9.20" fill="#5aab47"/>
<rect x="280.00" y="484.30" width="3.55" height="9.20" fill="#2a4b8c"/>
<rect x="292.87" y="484.30" width="3.55" height="9.20" fill="#5aab47"/>
<text x="294.64" y="490.65" font-size="4.8" text-anchor="middle" font-weight="bold" fill="#1c1c1c">N</text>
<rect x="301.45" y="484.30" width="3.55" height="9.20" fill="#c9c9d0"/>
<text x="303.22" y="490.65" font-size="4.8" text-anchor="middle" font-weight="bold" fill="#1c1c1c">L</text>
<rect x="305.74" y="484.30" width="3.55" height="4.60" fill="#f2c31e"/>
<rect x="305.74" y="488.90" width="3.55" height="4.60" fill="#5aab47"/>
<rect x="310.03" y="484.30" width="3.55" height="9.20" fill="#c9c9d0"/>
<text x="311.80" y="490.65" font-size="4.8" text-anchor="middle" font-weight="bold" fill="#1c1c1c">N</text>
<text x="84.40" y="492.20" font-size="7.5" text-anchor="end" fill="#1a1a1a" class="lb">GNA13</text>
<rect x="338.40" y="483.85" width="3.00" height="9.00" fill="#a8102a"/>
<rect x="341.40" y="483.85" width="3.00" height="9.00" fill="#f0c026"/>
<rect x="344.40" y="483.85" width="27.00" height="9.00" fill="#8f87c5"/>
<rect x="88.20" y="494.05" width="29.29" height="9.95" fill="#e2e2e8"/>
<rect x="123.90" y="494.05" width="16.42" height="9.95" fill="#e2e2e8"/>
<rect x="145.80" y="494.05" width="42.16" height="9.95" fill="#e2e2e8"/>
<rect x="194.20" y="494.05" width="132.25" height="9.95" fill="#e2e2e8"/>
<rect x="249.13" y="494.05" width="0.94" height="9.95" fill="#f6f6f8"/>
<rect x="88.20" y="494.15" width="3.55" height="9.20" fill="#c9c9d0"/>
<rect x="92.49" y="494.15" width="3.55" height="9.20" fill="#c9c9d0"/>
<rect x="96.78" y="494.15" width="3.55" height="9.20" fill="#c9c9d0"/>
<rect x="101.07" y="494.15" width="3.55" height="9.20" fill="#c9c9d0"/>
<rect x="105.36" y="494.15" width="3.55" height="9.20" fill="#c9c9d0"/>
<rect x="109.65" y="494.15" width="3.55" height="9.20" fill="#c9c9d0"/>
<rect x="113.94" y="494.15" width="3.55" height="9.20" fill="#c9c9d0"/>
<rect x="123.90" y="494.15" width="3.55" height="9.20" fill="#c9c9d0"/>
<rect x="128.19" y="494.15" width="3.55" height="9.20" fill="#c9c9d0"/>
<rect x="132.48" y="494.15" width="3.55" height="9.20" fill="#c9c9d0"/>
<rect x="136.77" y="494.15" width="3.55" height="9.20" fill="#c9c9d0"/>
<rect x="145.80" y="494.15" width="3.55" height="9.20" fill="#c9c9d0"/>
<rect x="150.09" y="494.15" width="3.55" height="9.20" fill="#c9c9d0"/>
<rect x="154.38" y="494.15" width="3.55" height="9.20" fill="#c9c9d0"/>
<rect x="158.67" y="494.15" width="3.55" height="9.20" fill="#c9c9d0"/>
<rect x="162.96" y="494.15" width="3.55" height="9.20" fill="#c9c9d0"/>
<rect x="167.25" y="494.15" width="3.55" height="9.20" fill="#c9c9d0"/>
<rect x="171.54" y="494.15" width="3.55" height="9.20" fill="#c9c9d0"/>
<rect x="175.83" y="494.15" width="3.55" height="9.20" fill="#c9c9d0"/>
<rect x="180.12" y="494.15" width="3.55" height="9.20" fill="#c9c9d0"/>
<rect x="184.41" y="494.15" width="3.55" height="9.20" fill="#c9c9d0"/>
<rect x="194.20" y="494.15" width="3.55" height="9.20" fill="#c9c9d0"/>
<rect x="198.49" y="494.15" width="3.55" height="9.20" fill="#c9c9d0"/>
<rect x="202.78" y="494.15" width="3.55" height="9.20" fill="#c9c9d0"/>
<rect x="207.07" y="494.15" width="3.55" height="9.20" fill="#c9c9d0"/>
<rect x="211.36" y="494.15" width="3.55" height="9.20" fill="#c9c9d0"/>
<rect x="215.65" y="494.15" width="3.55" height="9.20" fill="#c9c9d0"/>
<rect x="219.94" y="494.15" width="3.55" height="9.20" fill="#c9c9d0"/>
<rect x="224.23" y="494.15" width="3.55" height="9.20" fill="#c9c9d0"/>
<rect x="228.52" y="494.15" width="3.55" height="9.20" fill="#c9c9d0"/>
<rect x="232.81" y="494.15" width="3.55" height="9.20" fill="#c9c9d0"/>
<rect x="237.10" y="494.15" width="3.55" height="9.20" fill="#c9c9d0"/>
<rect x="241.39" y="494.15" width="3.55" height="9.20" fill="#c9c9d0"/>
<rect x="245.68" y="494.15" width="3.55" height="9.20" fill="#c9c9d0"/>
<rect x="249.97" y="494.15" width="3.55" height="9.20" fill="#c9c9d0"/>
<rect x="254.26" y="494.15" width="3.55" height="9.20" fill="#c9c9d0"/>
<rect x="258.55" y="494.15" width="3.55" height="9.20" fill="#c9c9d0"/>
<rect x="262.84" y="494.15" width="3.55" height="9.20" fill="#c9c9d0"/>
<rect x="267.13" y="494.15" width="3.55" height="9.20" fill="#c9c9d0"/>
<rect x="271.42" y="494.15" width="3.55" height="9.20" fill="#c9c9d0"/>
<rect x="275.71" y="494.15" width="3.55" height="9.20" fill="#c9c9d0"/>
<rect x="280.00" y="494.15" width="3.55" height="9.20" fill="#c9c9d0"/>
<rect x="284.29" y="494.15" width="3.55" height="9.20" fill="#c9c9d0"/>
<rect x="288.58" y="494.15" width="3.55" height="9.20" fill="#c9c9d0"/>
<rect x="292.87" y="494.15" width="3.55" height="9.20" fill="#c9c9d0"/>
<rect x="297.16" y="494.15" width="3.55" height="9.20" fill="#c9c9d0"/>
<rect x="301.45" y="494.15" width="3.55" height="9.20" fill="#c9c9d0"/>
<rect x="305.74" y="494.15" width="3.55" height="9.20" fill="#c9c9d0"/>
<rect x="310.03" y="494.15" width="3.55" height="9.20" fill="#c9c9d0"/>
<rect x="314.32" y="494.15" width="3.55" height="9.20" fill="#c9c9d0"/>
<rect x="318.61" y="494.15" width="3.55" height="9.20" fill="#c9c9d0"/>
<rect x="322.90" y="494.15" width="3.55" height="9.20" fill="#c9c9d0"/>
<rect x="113.94" y="494.15" width="3.55" height="9.20" fill="#c9c9d0"/>
<text x="115.72" y="500.50" font-size="4.8" text-anchor="middle" font-weight="bold" fill="#1c1c1c">N</text>
<rect x="123.90" y="494.15" width="3.55" height="9.20" fill="#2a4b8c"/>
<rect x="162.96" y="494.15" width="3.55" height="9.20" fill="#2a4b8c"/>
<rect x="207.07" y="494.15" width="3.55" height="9.20" fill="#2a4b8c"/>
<rect x="211.36" y="494.15" width="3.55" height="9.20" fill="#2a4b8c"/>
<rect x="267.13" y="494.15" width="3.55" height="9.20" fill="#2a4b8c"/>
<rect x="292.87" y="494.15" width="3.55" height="9.20" fill="#2a4b8c"/>
<rect x="318.61" y="494.15" width="3.55" height="9.20" fill="#2a4b8c"/>
<text x="84.40" y="502.05" font-size="7.5" text-anchor="end" fill="#1a1a1a" class="lb">GNAI2</text>
<rect x="338.40" y="493.70" width="3.00" height="9.00" fill="#a8102a"/>
<rect x="341.40" y="493.70" width="3.00" height="9.00" fill="#f0c026"/>
<rect x="344.40" y="493.70" width="15.00" height="9.00" fill="#8f87c5"/>
<rect x="88.20" y="503.90" width="29.29" height="9.95" fill="#e2e2e8"/>
<rect x="123.90" y="503.90" width="16.42" height="9.95" fill="#e2e2e8"/>
<rect x="145.80" y="503.90" width="42.16" height="9.95" fill="#e2e2e8"/>
<rect x="194.20" y="503.90" width="132.25" height="9.95" fill="#e2e2e8"/>
<rect x="249.13" y="503.90" width="0.94" height="9.95" fill="#f6f6f8"/>
<rect x="88.20" y="504.00" width="3.55" height="9.20" fill="#c9c9d0"/>
<rect x="92.49" y="504.00" width="3.55" height="9.20" fill="#c9c9d0"/>
<rect x="96.78" y="504.00" width="3.55" height="9.20" fill="#c9c9d0"/>
<rect x="101.07" y="504.00" width="3.55" height="9.20" fill="#c9c9d0"/>
<rect x="105.36" y="504.00" width="3.55" height="9.20" fill="#c9c9d0"/>
<rect x="109.65" y="504.00" width="3.55" height="9.20" fill="#c9c9d0"/>
<rect x="113.94" y="504.00" width="3.55" height="9.20" fill="#c9c9d0"/>
<rect x="123.90" y="504.00" width="3.55" height="9.20" fill="#c9c9d0"/>
<rect x="128.19" y="504.00" width="3.55" height="9.20" fill="#c9c9d0"/>
<rect x="132.48" y="504.00" width="3.55" height="9.20" fill="#c9c9d0"/>
<rect x="136.77" y="504.00" width="3.55" height="9.20" fill="#c9c9d0"/>
<rect x="145.80" y="504.00" width="3.55" height="9.20" fill="#c9c9d0"/>
<rect x="150.09" y="504.00" width="3.55" height="9.20" fill="#c9c9d0"/>
<rect x="154.38" y="504.00" width="3.55" height="9.20" fill="#c9c9d0"/>
<rect x="158.67" y="504.00" width="3.55" height="9.20" fill="#c9c9d0"/>
<rect x="162.96" y="504.00" width="3.55" height="9.20" fill="#c9c9d0"/>
<rect x="167.25" y="504.00" width="3.55" height="9.20" fill="#c9c9d0"/>
<rect x="171.54" y="504.00" width="3.55" height="9.20" fill="#c9c9d0"/>
<rect x="175.83" y="504.00" width="3.55" height="9.20" fill="#c9c9d0"/>
<rect x="180.12" y="504.00" width="3.55" height="9.20" fill="#c9c9d0"/>
<rect x="184.41" y="504.00" width="3.55" height="9.20" fill="#c9c9d0"/>
<rect x="194.20" y="504.00" width="3.55" height="9.20" fill="#c9c9d0"/>
<rect x="198.49" y="504.00" width="3.55" height="9.20" fill="#c9c9d0"/>
<rect x="202.78" y="504.00" width="3.55" height="9.20" fill="#c9c9d0"/>
<rect x="207.07" y="504.00" width="3.55" height="9.20" fill="#c9c9d0"/>
<rect x="211.36" y="504.00" width="3.55" height="9.20" fill="#c9c9d0"/>
<rect x="215.65" y="504.00" width="3.55" height="9.20" fill="#c9c9d0"/>
<rect x="219.94" y="504.00" width="3.55" height="9.20" fill="#c9c9d0"/>
<rect x="224.23" y="504.00" width="3.55" height="9.20" fill="#c9c9d0"/>
<rect x="228.52" y="504.00" width="3.55" height="9.20" fill="#c9c9d0"/>
<rect x="232.81" y="504.00" width="3.55" height="9.20" fill="#c9c9d0"/>
<rect x="237.10" y="504.00" width="3.55" height="9.20" fill="#c9c9d0"/>
<rect x="241.39" y="504.00" width="3.55" height="9.20" fill="#c9c9d0"/>
<rect x="245.68" y="504.00" width="3.55" height="9.20" fill="#c9c9d0"/>
<rect x="249.97" y="504.00" width="3.55" height="9.20" fill="#c9c9d0"/>
<rect x="254.26" y="504.00" width="3.55" height="9.20" fill="#c9c9d0"/>
<rect x="258.55" y="504.00" width="3.55" height="9.20" fill="#c9c9d0"/>
<rect x="262.84" y="504.00" width="3.55" height="9.20" fill="#c9c9d0"/>
<rect x="267.13" y="504.00" width="3.55" height="9.20" fill="#c9c9d0"/>
<rect x="271.42" y="504.00" width="3.55" height="9.20" fill="#c9c9d0"/>
<rect x="275.71" y="504.00" width="3.55" height="9.20" fill="#c9c9d0"/>
<rect x="280.00" y="504.00" width="3.55" height="9.20" fill="#c9c9d0"/>
<rect x="284.29" y="504.00" width="3.55" height="9.20" fill="#c9c9d0"/>
<rect x="288.58" y="504.00" width="3.55" height="9.20" fill="#c9c9d0"/>
<rect x="292.87" y="504.00" width="3.55" height="9.20" fill="#c9c9d0"/>
<rect x="297.16" y="504.00" width="3.55" height="9.20" fill="#c9c9d0"/>
<rect x="301.45" y="504.00" width="3.55" height="9.20" fill="#c9c9d0"/>
<rect x="305.74" y="504.00" width="3.55" height="9.20" fill="#c9c9d0"/>
<rect x="310.03" y="504.00" width="3.55" height="9.20" fill="#c9c9d0"/>
<rect x="314.32" y="504.00" width="3.55" height="9.20" fill="#c9c9d0"/>
<rect x="318.61" y="504.00" width="3.55" height="9.20" fill="#c9c9d0"/>
<rect x="322.90" y="504.00" width="3.55" height="9.20" fill="#c9c9d0"/>
<rect x="113.94" y="504.00" width="3.55" height="9.20" fill="#c9c9d0"/>
<text x="115.72" y="510.35" font-size="4.8" text-anchor="middle" font-weight="bold" fill="#1c1c1c">N</text>
<rect x="154.38" y="504.00" width="3.55" height="9.20" fill="#2a4b8c"/>
<rect x="180.12" y="504.00" width="3.55" height="9.20" fill="#c9c9d0"/>
<text x="181.90" y="510.35" font-size="4.8" text-anchor="middle" font-weight="bold" fill="#1c1c1c">L</text>
<rect x="184.41" y="504.00" width="3.55" height="9.20" fill="#2a4b8c"/>
<rect x="271.42" y="504.00" width="3.55" height="9.20" fill="#2a4b8c"/>
<text x="84.40" y="511.90" font-size="7.5" text-anchor="end" fill="#1a1a1a" class="lb">RHOA</text>
<rect x="338.40" y="503.55" width="6.00" height="9.00" fill="#f0c026"/>
<rect x="344.40" y="503.55" width="3.00" height="9.00" fill="#8f87c5"/>
<path d="M337.9 513.2 V485.9 H432.6 V516.3" fill="none" stroke="#111" stroke-width="1.5"/>
<text x="436.60" y="504.10" font-size="11" text-anchor="start" font-weight="bold" fill="#111">RHOA</text>
<rect x="88.20" y="520.50" width="29.29" height="10.00" fill="#e2e2e8"/>
<rect x="123.90" y="520.50" width="16.42" height="10.00" fill="#e2e2e8"/>
<rect x="145.80" y="520.50" width="42.16" height="10.00" fill="#e2e2e8"/>
<rect x="194.20" y="520.50" width="132.25" height="10.00" fill="#e2e2e8"/>
<rect x="249.13" y="520.50" width="0.94" height="10.00" fill="#f6f6f8"/>
<rect x="88.20" y="520.60" width="3.55" height="9.25" fill="#c9c9d0"/>
<rect x="92.49" y="520.60" width="3.55" height="9.25" fill="#c9c9d0"/>
<rect x="96.78" y="520.60" width="3.55" height="9.25" fill="#c9c9d0"/>
<rect x="101.07" y="520.60" width="3.55" height="9.25" fill="#c9c9d0"/>
<rect x="105.36" y="520.60" width="3.55" height="9.25" fill="#c9c9d0"/>
<rect x="109.65" y="520.60" width="3.55" height="9.25" fill="#c9c9d0"/>
<rect x="113.94" y="520.60" width="3.55" height="9.25" fill="#c9c9d0"/>
<rect x="123.90" y="520.60" width="3.55" height="9.25" fill="#c9c9d0"/>
<rect x="128.19" y="520.60" width="3.55" height="9.25" fill="#c9c9d0"/>
<rect x="132.48" y="520.60" width="3.55" height="9.25" fill="#c9c9d0"/>
<rect x="136.77" y="520.60" width="3.55" height="9.25" fill="#c9c9d0"/>
<rect x="145.80" y="520.60" width="3.55" height="9.25" fill="#c9c9d0"/>
<rect x="150.09" y="520.60" width="3.55" height="9.25" fill="#c9c9d0"/>
<rect x="154.38" y="520.60" width="3.55" height="9.25" fill="#c9c9d0"/>
<rect x="158.67" y="520.60" width="3.55" height="9.25" fill="#c9c9d0"/>
<rect x="162.96" y="520.60" width="3.55" height="9.25" fill="#c9c9d0"/>
<rect x="167.25" y="520.60" width="3.55" height="9.25" fill="#c9c9d0"/>
<rect x="171.54" y="520.60" width="3.55" height="9.25" fill="#c9c9d0"/>
<rect x="175.83" y="520.60" width="3.55" height="9.25" fill="#c9c9d0"/>
<rect x="180.12" y="520.60" width="3.55" height="9.25" fill="#c9c9d0"/>
<rect x="184.41" y="520.60" width="3.55" height="9.25" fill="#c9c9d0"/>
<rect x="194.20" y="520.60" width="3.55" height="9.25" fill="#c9c9d0"/>
<rect x="198.49" y="520.60" width="3.55" height="9.25" fill="#c9c9d0"/>
<rect x="202.78" y="520.60" width="3.55" height="9.25" fill="#c9c9d0"/>
<rect x="207.07" y="520.60" width="3.55" height="9.25" fill="#c9c9d0"/>
<rect x="211.36" y="520.60" width="3.55" height="9.25" fill="#c9c9d0"/>
<rect x="215.65" y="520.60" width="3.55" height="9.25" fill="#c9c9d0"/>
<rect x="219.94" y="520.60" width="3.55" height="9.25" fill="#c9c9d0"/>
<rect x="224.23" y="520.60" width="3.55" height="9.25" fill="#c9c9d0"/>
<rect x="228.52" y="520.60" width="3.55" height="9.25" fill="#c9c9d0"/>
<rect x="232.81" y="520.60" width="3.55" height="9.25" fill="#c9c9d0"/>
<rect x="237.10" y="520.60" width="3.55" height="9.25" fill="#c9c9d0"/>
<rect x="241.39" y="520.60" width="3.55" height="9.25" fill="#c9c9d0"/>
<rect x="245.68" y="520.60" width="3.55" height="9.25" fill="#c9c9d0"/>
<rect x="249.97" y="520.60" width="3.55" height="9.25" fill="#c9c9d0"/>
<rect x="254.26" y="520.60" width="3.55" height="9.25" fill="#c9c9d0"/>
<rect x="258.55" y="520.60" width="3.55" height="9.25" fill="#c9c9d0"/>
<rect x="262.84" y="520.60" width="3.55" height="9.25" fill="#c9c9d0"/>
<rect x="267.13" y="520.60" width="3.55" height="9.25" fill="#c9c9d0"/>
<rect x="271.42" y="520.60" width="3.55" height="9.25" fill="#c9c9d0"/>
<rect x="275.71" y="520.60" width="3.55" height="9.25" fill="#c9c9d0"/>
<rect x="280.00" y="520.60" width="3.55" height="9.25" fill="#c9c9d0"/>
<rect x="284.29" y="520.60" width="3.55" height="9.25" fill="#c9c9d0"/>
<rect x="288.58" y="520.60" width="3.55" height="9.25" fill="#c9c9d0"/>
<rect x="292.87" y="520.60" width="3.55" height="9.25" fill="#c9c9d0"/>
<rect x="297.16" y="520.60" width="3.55" height="9.25" fill="#c9c9d0"/>
<rect x="301.45" y="520.60" width="3.55" height="9.25" fill="#c9c9d0"/>
<rect x="305.74" y="520.60" width="3.55" height="9.25" fill="#c9c9d0"/>
<rect x="310.03" y="520.60" width="3.55" height="9.25" fill="#c9c9d0"/>
<rect x="314.32" y="520.60" width="3.55" height="9.25" fill="#c9c9d0"/>
<rect x="318.61" y="520.60" width="3.55" height="9.25" fill="#c9c9d0"/>
<rect x="322.90" y="520.60" width="3.55" height="9.25" fill="#c9c9d0"/>
<rect x="96.78" y="520.60" width="3.55" height="9.25" fill="#2a4b8c"/>
<rect x="109.65" y="520.60" width="3.55" height="9.25" fill="#c9c9d0"/>
<text x="111.43" y="526.98" font-size="4.8" text-anchor="middle" font-weight="bold" fill="#1c1c1c">N</text>
<rect x="113.94" y="520.60" width="3.55" height="4.62" fill="#5aab47"/>
<rect x="113.94" y="525.23" width="3.55" height="4.62" fill="#2a4b8c"/>
<rect x="245.68" y="520.60" width="3.55" height="9.25" fill="#c9c9d0"/>
<text x="247.46" y="526.98" font-size="4.8" text-anchor="middle" font-weight="bold" fill="#1c1c1c">L</text>
<rect x="249.97" y="520.60" width="3.55" height="9.25" fill="#c9c9d0"/>
<text x="251.75" y="526.98" font-size="4.8" text-anchor="middle" font-weight="bold" fill="#1c1c1c">G</text>
<text x="84.40" y="528.50" font-size="7.5" text-anchor="end" fill="#1a1a1a" class="lb">SOCS1</text>
<rect x="338.40" y="520.15" width="6.00" height="9.05" fill="#e4921f"/>
<rect x="88.20" y="530.40" width="29.29" height="10.00" fill="#e2e2e8"/>
<rect x="123.90" y="530.40" width="16.42" height="10.00" fill="#e2e2e8"/>
<rect x="145.80" y="530.40" width="42.16" height="10.00" fill="#e2e2e8"/>
<rect x="194.20" y="530.40" width="132.25" height="10.00" fill="#e2e2e8"/>
<rect x="249.13" y="530.40" width="0.94" height="10.00" fill="#f6f6f8"/>
<rect x="88.20" y="530.50" width="3.55" height="9.25" fill="#c9c9d0"/>
<rect x="92.49" y="530.50" width="3.55" height="9.25" fill="#c9c9d0"/>
<rect x="96.78" y="530.50" width="3.55" height="9.25" fill="#c9c9d0"/>
<rect x="101.07" y="530.50" width="3.55" height="9.25" fill="#c9c9d0"/>
<rect x="105.36" y="530.50" width="3.55" height="9.25" fill="#c9c9d0"/>
<rect x="109.65" y="530.50" width="3.55" height="9.25" fill="#c9c9d0"/>
<rect x="113.94" y="530.50" width="3.55" height="9.25" fill="#c9c9d0"/>
<rect x="123.90" y="530.50" width="3.55" height="9.25" fill="#c9c9d0"/>
<rect x="128.19" y="530.50" width="3.55" height="9.25" fill="#c9c9d0"/>
<rect x="132.48" y="530.50" width="3.55" height="9.25" fill="#c9c9d0"/>
<rect x="136.77" y="530.50" width="3.55" height="9.25" fill="#c9c9d0"/>
<rect x="145.80" y="530.50" width="3.55" height="9.25" fill="#c9c9d0"/>
<rect x="150.09" y="530.50" width="3.55" height="9.25" fill="#c9c9d0"/>
<rect x="154.38" y="530.50" width="3.55" height="9.25" fill="#c9c9d0"/>
<rect x="158.67" y="530.50" width="3.55" height="9.25" fill="#c9c9d0"/>
<rect x="162.96" y="530.50" width="3.55" height="9.25" fill="#c9c9d0"/>
<rect x="167.25" y="530.50" width="3.55" height="9.25" fill="#c9c9d0"/>
<rect x="171.54" y="530.50" width="3.55" height="9.25" fill="#c9c9d0"/>
<rect x="175.83" y="530.50" width="3.55" height="9.25" fill="#c9c9d0"/>
<rect x="180.12" y="530.50" width="3.55" height="9.25" fill="#c9c9d0"/>
<rect x="184.41" y="530.50" width="3.55" height="9.25" fill="#c9c9d0"/>
<rect x="194.20" y="530.50" width="3.55" height="9.25" fill="#c9c9d0"/>
<rect x="198.49" y="530.50" width="3.55" height="9.25" fill="#c9c9d0"/>
<rect x="202.78" y="530.50" width="3.55" height="9.25" fill="#c9c9d0"/>
<rect x="207.07" y="530.50" width="3.55" height="9.25" fill="#c9c9d0"/>
<rect x="211.36" y="530.50" width="3.55" height="9.25" fill="#c9c9d0"/>
<rect x="215.65" y="530.50" width="3.55" height="9.25" fill="#c9c9d0"/>
<rect x="219.94" y="530.50" width="3.55" height="9.25" fill="#c9c9d0"/>
<rect x="224.23" y="530.50" width="3.55" height="9.25" fill="#c9c9d0"/>
<rect x="228.52" y="530.50" width="3.55" height="9.25" fill="#c9c9d0"/>
<rect x="232.81" y="530.50" width="3.55" height="9.25" fill="#c9c9d0"/>
<rect x="237.10" y="530.50" width="3.55" height="9.25" fill="#c9c9d0"/>
<rect x="241.39" y="530.50" width="3.55" height="9.25" fill="#c9c9d0"/>
<rect x="245.68" y="530.50" width="3.55" height="9.25" fill="#c9c9d0"/>
<rect x="249.97" y="530.50" width="3.55" height="9.25" fill="#c9c9d0"/>
<rect x="254.26" y="530.50" width="3.55" height="9.25" fill="#c9c9d0"/>
<rect x="258.55" y="530.50" width="3.55" height="9.25" fill="#c9c9d0"/>
<rect x="262.84" y="530.50" width="3.55" height="9.25" fill="#c9c9d0"/>
<rect x="267.13" y="530.50" width="3.55" height="9.25" fill="#c9c9d0"/>
<rect x="271.42" y="530.50" width="3.55" height="9.25" fill="#c9c9d0"/>
<rect x="275.71" y="530.50" width="3.55" height="9.25" fill="#c9c9d0"/>
<rect x="280.00" y="530.50" width="3.55" height="9.25" fill="#c9c9d0"/>
<rect x="284.29" y="530.50" width="3.55" height="9.25" fill="#c9c9d0"/>
<rect x="288.58" y="530.50" width="3.55" height="9.25" fill="#c9c9d0"/>
<rect x="292.87" y="530.50" width="3.55" height="9.25" fill="#c9c9d0"/>
<rect x="297.16" y="530.50" width="3.55" height="9.25" fill="#c9c9d0"/>
<rect x="301.45" y="530.50" width="3.55" height="9.25" fill="#c9c9d0"/>
<rect x="305.74" y="530.50" width="3.55" height="9.25" fill="#c9c9d0"/>
<rect x="310.03" y="530.50" width="3.55" height="9.25" fill="#c9c9d0"/>
<rect x="314.32" y="530.50" width="3.55" height="9.25" fill="#c9c9d0"/>
<rect x="318.61" y="530.50" width="3.55" height="9.25" fill="#c9c9d0"/>
<rect x="322.90" y="530.50" width="3.55" height="9.25" fill="#c9c9d0"/>
<rect x="92.49" y="530.50" width="3.55" height="9.25" fill="#c9c9d0"/>
<text x="94.27" y="536.88" font-size="4.8" text-anchor="middle" font-weight="bold" fill="#1c1c1c">N</text>
<rect x="109.65" y="530.50" width="3.55" height="9.25" fill="#2a4b8c"/>
<rect x="113.94" y="530.50" width="3.55" height="9.25" fill="#c9c9d0"/>
<text x="115.72" y="536.88" font-size="4.8" text-anchor="middle" font-weight="bold" fill="#1c1c1c">G</text>
<rect x="158.67" y="530.50" width="3.55" height="9.25" fill="#2a4b8c"/>
<rect x="171.54" y="530.50" width="3.55" height="9.25" fill="#c9c9d0"/>
<text x="173.32" y="536.88" font-size="4.8" text-anchor="middle" font-weight="bold" fill="#1c1c1c">G</text>
<rect x="249.97" y="530.50" width="3.55" height="9.25" fill="#c9c9d0"/>
<text x="251.75" y="536.88" font-size="4.8" text-anchor="middle" font-weight="bold" fill="#1c1c1c">N</text>
<text x="84.40" y="538.40" font-size="7.5" text-anchor="end" fill="#1a1a1a" class="lb">STAT6</text>
<rect x="338.40" y="530.05" width="6.00" height="9.05" fill="#f0c026"/>
<path d="M337.9 539.7 V521.2 H432.6 V541.7" fill="none" stroke="#111" stroke-width="1.5"/>
<text x="436.60" y="527.20" font-size="11" text-anchor="start" font-weight="bold" fill="#111">JAK/</text>
<text x="436.60" y="540.60" font-size="11" text-anchor="start" font-weight="bold" fill="#111">STAT</text>
<line x1="337.9" y1="49.3" x2="337.9" y2="52.3" stroke="#111" stroke-width="1"/>
<text x="0" y="0" font-size="9" text-anchor="middle" fill="#1a1a1a" transform="translate(337.9 43.9) scale(1 1.12)">0</text>
<line x1="367.8" y1="49.3" x2="367.8" y2="52.3" stroke="#111" stroke-width="1"/>
<text x="0" y="0" font-size="9" text-anchor="middle" fill="#1a1a1a" transform="translate(367.8 43.9) scale(1 1.12)">10</text>
<line x1="397.7" y1="49.3" x2="397.7" y2="52.3" stroke="#111" stroke-width="1"/>
<text x="0" y="0" font-size="9" text-anchor="middle" fill="#1a1a1a" transform="translate(397.7 43.9) scale(1 1.12)">20</text>
<line x1="427.6" y1="49.3" x2="427.6" y2="52.3" stroke="#111" stroke-width="1"/>
<text x="0" y="0" font-size="9" text-anchor="middle" fill="#1a1a1a" transform="translate(427.6 43.9) scale(1 1.12)">30</text>
<text x="0" y="0" font-size="10" text-anchor="middle" fill="#1a1a1a" transform="translate(383.6 18.1) scale(1 1.16)">&#35; of cases with</text>
<text x="0" y="0" font-size="10.4" text-anchor="middle" fill="#1a1a1a" transform="translate(384.7 31.7) scale(1 1.14)">mutation</text>
<rect x="29.80" y="545.70" width="29.40" height="14.40" fill="#d9d9d9"/>
<text x="44.50" y="551.70" font-size="6.3" text-anchor="middle" fill="#111" class="lb">classifier</text>
<text x="44.50" y="559.10" font-size="6.2" text-anchor="middle" fill="#111" class="lb">probability</text>
<rect x="60.60" y="545.70" width="1.50" height="14.40" fill="#111"/>
<rect x="62.60" y="545.70" width="24.90" height="14.40" fill="#d9d9d9"/>
<text x="75.00" y="551.70" font-size="6.3" text-anchor="middle" fill="#111" class="lb">Dave</text>
<text x="75.00" y="559.10" font-size="6.2" text-anchor="middle" fill="#111" class="lb">Hummel</text>
<rect x="88.20" y="547.50" width="30.00" height="3.80" fill="#b5103a"/>
<rect x="88.20" y="551.30" width="30.00" height="0.70" fill="#d06a80"/>
<rect x="88.20" y="552.00" width="30.00" height="4.70" fill="#b8122e"/>
<rect x="123.40" y="547.50" width="17.20" height="3.80" fill="#b5103a"/>
<rect x="123.40" y="551.30" width="17.20" height="0.70" fill="#d06a80"/>
<rect x="123.40" y="552.00" width="17.20" height="4.70" fill="#b8122e"/>
<rect x="145.80" y="547.50" width="42.50" height="3.80" fill="#b5103a"/>
<rect x="145.80" y="551.30" width="42.50" height="0.70" fill="#d06a80"/>
<rect x="145.80" y="552.00" width="42.50" height="4.70" fill="#b8122e"/>
<rect x="194.20" y="547.50" width="132.80" height="3.80" fill="#b5103a"/>
<rect x="194.20" y="551.30" width="132.80" height="0.70" fill="#d06a80"/>
<rect x="194.20" y="552.00" width="132.80" height="4.70" fill="#b8122e"/>
<rect x="113.94" y="552.00" width="4.05" height="4.70" fill="#a9c897"/>
<rect x="158.67" y="552.00" width="3.85" height="4.70" fill="#cf8a42"/>
<rect x="245.68" y="552.00" width="3.85" height="4.70" fill="#dcc8a6"/>
<text x="94.27" y="550.20" font-size="10" text-anchor="middle" font-weight="bold" fill="#6a2020">*</text>
<text x="125.68" y="550.20" font-size="10" text-anchor="middle" font-weight="bold" fill="#111">*</text>
<text x="147.58" y="550.20" font-size="10" text-anchor="middle" font-weight="bold" fill="#111">*</text>
<text x="160.45" y="550.20" font-size="10" text-anchor="middle" font-weight="bold" fill="#8a4030">*</text>
<text x="177.61" y="550.20" font-size="10" text-anchor="middle" font-weight="bold" fill="#111">*</text>
<text x="217.42" y="550.20" font-size="10" text-anchor="middle" font-weight="bold" fill="#111">*</text>
<text x="230.29" y="550.20" font-size="10" text-anchor="middle" font-weight="bold" fill="#111">*</text>
<text x="247.46" y="550.20" font-size="10" text-anchor="middle" font-weight="bold" fill="#8a3a4a">*</text>
<text x="251.75" y="550.20" font-size="10" text-anchor="middle" font-weight="bold" fill="#c02040">*</text>
<text x="268.90" y="550.20" font-size="10" text-anchor="middle" font-weight="bold" fill="#111">*</text>
<text x="294.64" y="550.20" font-size="10" text-anchor="middle" font-weight="bold" fill="#111">*</text>
<text x="298.93" y="550.20" font-size="10" text-anchor="middle" font-weight="bold" fill="#111">*</text>
<text x="303.22" y="550.20" font-size="10" text-anchor="middle" font-weight="bold" fill="#b04050">*</text>
<line x1="87.4" y1="562.2" x2="87.4" y2="604.6" stroke="#111" stroke-width="1.3"/>
<line x1="87.4" y1="583.3" x2="118.2" y2="583.3" stroke="#111" stroke-width="1.3"/>
<line x1="87.4" y1="592.8" x2="118.2" y2="592.8" stroke="#111" stroke-width="1.3"/>
<line x1="87.4" y1="602.5" x2="118.2" y2="602.5" stroke="#111" stroke-width="1.3"/>
<line x1="87.9" y1="602.5" x2="87.9" y2="605.0" stroke="#111" stroke-width="0.8"/>
<line x1="92.2" y1="602.5" x2="92.2" y2="605.0" stroke="#111" stroke-width="0.8"/>
<line x1="96.5" y1="602.5" x2="96.5" y2="605.0" stroke="#111" stroke-width="0.8"/>
<line x1="100.8" y1="602.5" x2="100.8" y2="605.0" stroke="#111" stroke-width="0.8"/>
<line x1="105.1" y1="602.5" x2="105.1" y2="605.0" stroke="#111" stroke-width="0.8"/>
<line x1="109.4" y1="602.5" x2="109.4" y2="605.0" stroke="#111" stroke-width="0.8"/>
<line x1="113.6" y1="602.5" x2="113.6" y2="605.0" stroke="#111" stroke-width="0.8"/>
<line x1="117.9" y1="602.5" x2="117.9" y2="605.0" stroke="#111" stroke-width="0.8"/>
<line x1="122.6" y1="562.2" x2="122.6" y2="604.6" stroke="#111" stroke-width="1.3"/>
<line x1="122.6" y1="583.3" x2="140.9" y2="583.3" stroke="#111" stroke-width="1.3"/>
<line x1="122.6" y1="592.8" x2="140.9" y2="592.8" stroke="#111" stroke-width="1.3"/>
<line x1="122.6" y1="602.5" x2="140.9" y2="602.5" stroke="#111" stroke-width="1.3"/>
<line x1="123.6" y1="602.5" x2="123.6" y2="605.0" stroke="#111" stroke-width="0.8"/>
<line x1="127.9" y1="602.5" x2="127.9" y2="605.0" stroke="#111" stroke-width="0.8"/>
<line x1="132.2" y1="602.5" x2="132.2" y2="605.0" stroke="#111" stroke-width="0.8"/>
<line x1="136.5" y1="602.5" x2="136.5" y2="605.0" stroke="#111" stroke-width="0.8"/>
<line x1="140.8" y1="602.5" x2="140.8" y2="605.0" stroke="#111" stroke-width="0.8"/>
<line x1="145.3" y1="562.2" x2="145.3" y2="604.6" stroke="#111" stroke-width="1.3"/>
<line x1="145.3" y1="583.3" x2="189.0" y2="583.3" stroke="#111" stroke-width="1.3"/>
<line x1="145.3" y1="592.8" x2="189.0" y2="592.8" stroke="#111" stroke-width="1.3"/>
<line x1="145.3" y1="602.5" x2="189.0" y2="602.5" stroke="#111" stroke-width="1.3"/>
<line x1="145.5" y1="602.5" x2="145.5" y2="605.0" stroke="#111" stroke-width="0.8"/>
<line x1="149.8" y1="602.5" x2="149.8" y2="605.0" stroke="#111" stroke-width="0.8"/>
<line x1="154.1" y1="602.5" x2="154.1" y2="605.0" stroke="#111" stroke-width="0.8"/>
<line x1="158.4" y1="602.5" x2="158.4" y2="605.0" stroke="#111" stroke-width="0.8"/>
<line x1="162.7" y1="602.5" x2="162.7" y2="605.0" stroke="#111" stroke-width="0.8"/>
<line x1="166.9" y1="602.5" x2="166.9" y2="605.0" stroke="#111" stroke-width="0.8"/>
<line x1="171.2" y1="602.5" x2="171.2" y2="605.0" stroke="#111" stroke-width="0.8"/>
<line x1="175.5" y1="602.5" x2="175.5" y2="605.0" stroke="#111" stroke-width="0.8"/>
<line x1="179.8" y1="602.5" x2="179.8" y2="605.0" stroke="#111" stroke-width="0.8"/>
<line x1="184.1" y1="602.5" x2="184.1" y2="605.0" stroke="#111" stroke-width="0.8"/>
<line x1="188.4" y1="602.5" x2="188.4" y2="605.0" stroke="#111" stroke-width="0.8"/>
<line x1="193.9" y1="562.2" x2="193.9" y2="604.6" stroke="#111" stroke-width="1.3"/>
<line x1="193.9" y1="583.3" x2="327.0" y2="583.3" stroke="#111" stroke-width="1.3"/>
<line x1="193.9" y1="592.8" x2="327.0" y2="592.8" stroke="#111" stroke-width="1.3"/>
<line x1="193.9" y1="602.5" x2="327.0" y2="602.5" stroke="#111" stroke-width="1.3"/>
<line x1="193.9" y1="602.5" x2="193.9" y2="605.0" stroke="#111" stroke-width="0.8"/>
<line x1="198.2" y1="602.5" x2="198.2" y2="605.0" stroke="#111" stroke-width="0.8"/>
<line x1="202.5" y1="602.5" x2="202.5" y2="605.0" stroke="#111" stroke-width="0.8"/>
<line x1="206.8" y1="602.5" x2="206.8" y2="605.0" stroke="#111" stroke-width="0.8"/>
<line x1="211.1" y1="602.5" x2="211.1" y2="605.0" stroke="#111" stroke-width="0.8"/>
<line x1="215.3" y1="602.5" x2="215.3" y2="605.0" stroke="#111" stroke-width="0.8"/>
<line x1="219.6" y1="602.5" x2="219.6" y2="605.0" stroke="#111" stroke-width="0.8"/>
<line x1="223.9" y1="602.5" x2="223.9" y2="605.0" stroke="#111" stroke-width="0.8"/>
<line x1="228.2" y1="602.5" x2="228.2" y2="605.0" stroke="#111" stroke-width="0.8"/>
<line x1="232.5" y1="602.5" x2="232.5" y2="605.0" stroke="#111" stroke-width="0.8"/>
<line x1="236.8" y1="602.5" x2="236.8" y2="605.0" stroke="#111" stroke-width="0.8"/>
<line x1="241.1" y1="602.5" x2="241.1" y2="605.0" stroke="#111" stroke-width="0.8"/>
<line x1="245.4" y1="602.5" x2="245.4" y2="605.0" stroke="#111" stroke-width="0.8"/>
<line x1="249.7" y1="602.5" x2="249.7" y2="605.0" stroke="#111" stroke-width="0.8"/>
<line x1="254.0" y1="602.5" x2="254.0" y2="605.0" stroke="#111" stroke-width="0.8"/>
<line x1="258.2" y1="602.5" x2="258.2" y2="605.0" stroke="#111" stroke-width="0.8"/>
<line x1="262.5" y1="602.5" x2="262.5" y2="605.0" stroke="#111" stroke-width="0.8"/>
<line x1="266.8" y1="602.5" x2="266.8" y2="605.0" stroke="#111" stroke-width="0.8"/>
<line x1="271.1" y1="602.5" x2="271.1" y2="605.0" stroke="#111" stroke-width="0.8"/>
<line x1="275.4" y1="602.5" x2="275.4" y2="605.0" stroke="#111" stroke-width="0.8"/>
<line x1="279.7" y1="602.5" x2="279.7" y2="605.0" stroke="#111" stroke-width="0.8"/>
<line x1="284.0" y1="602.5" x2="284.0" y2="605.0" stroke="#111" stroke-width="0.8"/>
<line x1="288.3" y1="602.5" x2="288.3" y2="605.0" stroke="#111" stroke-width="0.8"/>
<line x1="292.6" y1="602.5" x2="292.6" y2="605.0" stroke="#111" stroke-width="0.8"/>
<line x1="296.9" y1="602.5" x2="296.9" y2="605.0" stroke="#111" stroke-width="0.8"/>
<line x1="301.1" y1="602.5" x2="301.1" y2="605.0" stroke="#111" stroke-width="0.8"/>
<line x1="305.4" y1="602.5" x2="305.4" y2="605.0" stroke="#111" stroke-width="0.8"/>
<line x1="309.7" y1="602.5" x2="309.7" y2="605.0" stroke="#111" stroke-width="0.8"/>
<line x1="314.0" y1="602.5" x2="314.0" y2="605.0" stroke="#111" stroke-width="0.8"/>
<line x1="318.3" y1="602.5" x2="318.3" y2="605.0" stroke="#111" stroke-width="0.8"/>
<line x1="322.6" y1="602.5" x2="322.6" y2="605.0" stroke="#111" stroke-width="0.8"/>
<line x1="326.9" y1="602.5" x2="326.9" y2="605.0" stroke="#111" stroke-width="0.8"/>
<text x="0" y="0" font-size="3.8" fill="#333" transform="translate(84.8 571.0) rotate(-90)">2.5</text>
<text x="0" y="0" font-size="3.8" fill="#333" transform="translate(84.8 581.5) rotate(-90)">1.0</text>
<text x="0" y="0" font-size="3.8" fill="#333" transform="translate(84.8 591.0) rotate(-90)">1.5</text>
<text x="0" y="0" font-size="3.8" fill="#333" transform="translate(84.8 601.5) rotate(-90)">1.5</text>
<rect x="87.90" y="577.00" width="4.29" height="6.30" fill="#3a3a3a"/>
<rect x="109.35" y="572.00" width="4.29" height="11.30" fill="#3a3a3a"/>
<rect x="113.64" y="575.90" width="4.29" height="7.40" fill="#3a3a3a"/>
<rect x="92.19" y="582.50" width="4.29" height="0.80" fill="#3a3a3a"/>
<rect x="96.48" y="582.50" width="4.29" height="0.80" fill="#3a3a3a"/>
<rect x="100.77" y="582.50" width="4.29" height="0.80" fill="#3a3a3a"/>
<rect x="105.06" y="582.50" width="4.29" height="0.80" fill="#3a3a3a"/>
<rect x="87.90" y="586.60" width="4.29" height="6.20" fill="#3a3a3a"/>
<rect x="100.77" y="590.60" width="4.29" height="2.20" fill="#3a3a3a"/>
<rect x="92.19" y="600.10" width="4.29" height="2.40" fill="#3a3a3a"/>
<rect x="109.35" y="600.50" width="4.29" height="2.00" fill="#3a3a3a"/>
<rect x="96.48" y="601.70" width="4.29" height="0.80" fill="#3a3a3a"/>
<rect x="105.06" y="601.70" width="4.29" height="0.80" fill="#3a3a3a"/>
<rect x="127.89" y="580.90" width="4.29" height="2.40" fill="#3a3a3a"/>
<rect x="132.18" y="579.30" width="4.29" height="4.00" fill="#3a3a3a"/>
<rect x="136.47" y="579.90" width="4.29" height="3.40" fill="#3a3a3a"/>
<rect x="123.60" y="591.00" width="4.29" height="1.80" fill="#3a3a3a"/>
<rect x="136.47" y="588.80" width="4.29" height="4.00" fill="#3a3a3a"/>
<rect x="127.89" y="600.10" width="4.29" height="2.40" fill="#3a3a3a"/>
<rect x="123.60" y="601.70" width="4.29" height="0.80" fill="#3a3a3a"/>
<rect x="149.79" y="579.70" width="4.29" height="3.60" fill="#3a3a3a"/>
<rect x="162.66" y="576.70" width="4.29" height="6.60" fill="#3a3a3a"/>
<rect x="171.24" y="574.40" width="4.29" height="8.90" fill="#3a3a3a"/>
<rect x="175.53" y="565.20" width="4.29" height="18.10" fill="#3a3a3a"/>
<rect x="179.82" y="570.20" width="4.29" height="13.10" fill="#3a3a3a"/>
<rect x="154.08" y="582.50" width="4.29" height="0.80" fill="#3a3a3a"/>
<rect x="158.37" y="582.50" width="4.29" height="0.80" fill="#3a3a3a"/>
<rect x="166.95" y="582.50" width="4.29" height="0.80" fill="#3a3a3a"/>
<rect x="184.11" y="582.50" width="4.29" height="0.80" fill="#3a3a3a"/>
<rect x="149.79" y="591.80" width="4.29" height="1.00" fill="#3a3a3a"/>
<rect x="166.95" y="592.20" width="4.29" height="0.60" fill="#3a3a3a"/>
<rect x="162.66" y="600.50" width="4.29" height="2.00" fill="#3a3a3a"/>
<rect x="166.95" y="600.50" width="4.29" height="2.00" fill="#3a3a3a"/>
<rect x="179.82" y="601.00" width="4.29" height="1.50" fill="#3a3a3a"/>
<rect x="171.24" y="601.70" width="4.29" height="0.80" fill="#3a3a3a"/>
<rect x="236.80" y="580.50" width="4.29" height="2.80" fill="#3a3a3a"/>
<rect x="253.96" y="578.10" width="4.29" height="5.20" fill="#3a3a3a"/>
<rect x="262.54" y="581.70" width="4.29" height="1.60" fill="#3a3a3a"/>
<rect x="283.99" y="575.20" width="4.29" height="8.10" fill="#3a3a3a"/>
<rect x="288.28" y="582.30" width="4.29" height="1.00" fill="#3a3a3a"/>
<rect x="296.86" y="574.80" width="4.29" height="8.50" fill="#3a3a3a"/>
<rect x="301.15" y="579.00" width="4.29" height="4.30" fill="#3a3a3a"/>
<rect x="305.44" y="581.00" width="4.29" height="2.30" fill="#3a3a3a"/>
<rect x="314.02" y="577.20" width="4.29" height="6.10" fill="#3a3a3a"/>
<rect x="318.31" y="582.10" width="4.29" height="1.20" fill="#3a3a3a"/>
<rect x="322.60" y="577.80" width="4.29" height="5.50" fill="#3a3a3a"/>
<rect x="206.77" y="582.50" width="4.29" height="0.80" fill="#3a3a3a"/>
<rect x="211.06" y="582.50" width="4.29" height="0.80" fill="#3a3a3a"/>
<rect x="228.22" y="582.50" width="4.29" height="0.80" fill="#3a3a3a"/>
<rect x="232.51" y="582.30" width="4.29" height="1.00" fill="#3a3a3a"/>
<rect x="271.12" y="582.50" width="4.29" height="0.80" fill="#3a3a3a"/>
<rect x="275.41" y="582.50" width="4.29" height="0.80" fill="#3a3a3a"/>
<rect x="206.77" y="591.00" width="4.29" height="1.80" fill="#3a3a3a"/>
<rect x="258.25" y="589.20" width="4.29" height="3.60" fill="#3a3a3a"/>
<rect x="262.54" y="591.30" width="4.29" height="1.50" fill="#3a3a3a"/>
<rect x="279.70" y="591.80" width="4.29" height="1.00" fill="#3a3a3a"/>
<rect x="288.28" y="591.60" width="4.29" height="1.20" fill="#3a3a3a"/>
<rect x="309.73" y="591.80" width="4.29" height="1.00" fill="#3a3a3a"/>
<rect x="228.22" y="592.00" width="4.29" height="0.80" fill="#3a3a3a"/>
<rect x="245.38" y="592.00" width="4.29" height="0.80" fill="#3a3a3a"/>
<rect x="249.67" y="598.80" width="4.29" height="3.70" fill="#3a3a3a"/>
<rect x="258.25" y="601.00" width="4.29" height="1.50" fill="#3a3a3a"/>
<rect x="219.64" y="601.30" width="4.29" height="1.20" fill="#3a3a3a"/>
<rect x="271.12" y="599.00" width="4.29" height="3.50" fill="#3a3a3a"/>
<rect x="275.41" y="599.00" width="4.29" height="3.50" fill="#3a3a3a"/>
<rect x="266.83" y="601.00" width="4.29" height="1.50" fill="#3a3a3a"/>
<rect x="288.28" y="600.90" width="4.29" height="1.60" fill="#3a3a3a"/>
<rect x="296.86" y="600.50" width="4.29" height="2.00" fill="#3a3a3a"/>
<rect x="309.73" y="600.70" width="4.29" height="1.80" fill="#3a3a3a"/>
<rect x="322.60" y="600.90" width="4.29" height="1.60" fill="#3a3a3a"/>
<rect x="215.35" y="601.70" width="4.29" height="0.80" fill="#3a3a3a"/>
<rect x="279.70" y="601.50" width="4.29" height="1.00" fill="#3a3a3a"/>
<rect x="305.44" y="601.50" width="4.29" height="1.00" fill="#3a3a3a"/>
<rect x="318.31" y="601.50" width="4.29" height="1.00" fill="#3a3a3a"/>
<text x="0" y="0" font-size="4.2" font-weight="bold" fill="#222" text-anchor="middle" transform="translate(64.9 583) rotate(-90)">fold expression</text>
<text x="0" y="0" font-size="4.2" font-weight="bold" fill="#222" text-anchor="middle" transform="translate(70.7 583) rotate(-90)">mRNA difference</text>
<text x="0" y="0" font-size="4.2" font-weight="bold" fill="#222" text-anchor="middle" transform="translate(76.5 583) rotate(-90)">(relative to median)</text>
<text x="0" y="0" font-size="5.4" fill="#222" transform="translate(328.0 567) rotate(90)">BCL2 KI67 MYC</text>
<rect x="75.40" y="609.80" width="12.90" height="12.20" fill="#b3102e"/>
<text x="90.20" y="619.20" font-size="8.6" text-anchor="start" fill="#1e1e1e">frame shift</text>
<rect x="75.40" y="624.20" width="12.90" height="12.20" fill="#2a4b8c"/>
<text x="90.20" y="633.60" font-size="8.6" text-anchor="start" fill="#1e1e1e">missense</text>
<rect x="75.40" y="639.20" width="12.90" height="12.20" fill="#5aab47"/>
<text x="90.20" y="648.60" font-size="8.6" text-anchor="start" fill="#1e1e1e">nonsense</text>
<rect x="75.40" y="654.60" width="12.90" height="12.20" fill="#b4702c"/>
<text x="90.20" y="664.00" font-size="8.6" text-anchor="start" fill="#1e1e1e">stop−lost</text>
<rect x="144.00" y="610.80" width="13.00" height="12.00" fill="#f2c31e"/>
<text x="158.50" y="620.10" font-size="8.6" text-anchor="start" fill="#1e1e1e">splice-site</text>
<rect x="144.00" y="625.00" width="13.00" height="12.00" fill="#4a2674"/>
<text x="158.50" y="634.30" font-size="8.6" text-anchor="start" fill="#1e1e1e">other abnormality</text>
<rect x="144.00" y="638.00" width="13.00" height="12.00" fill="#e8961c"/>
<text x="158.50" y="647.30" font-size="8.6" text-anchor="start" fill="#1e1e1e">positive for CNA or translocation</text>
<rect x="144.00" y="652.00" width="13.00" height="12.00" fill="#e8961c"/>
<rect x="144.00" y="666.40" width="13.00" height="12.00" fill="#a9c293"/>
<text x="158.50" y="675.70" font-size="8.6" text-anchor="start" fill="#1e1e1e">negative for translocation by FISH</text>
<rect x="144.00" y="682.70" width="13.00" height="12.00" fill="#6cb0e4"/>
<text x="158.50" y="692.00" font-size="8.6" text-anchor="start" fill="#1e1e1e">no evidence of translocation by NGS</text>
<circle cx="150.5" cy="658.0" r="1.1" fill="#111"/>
<text x="158.50" y="656.00" font-size="8.6" text-anchor="start" fill="#222">evidence of translocation</text>
<text x="158.50" y="664.60" font-size="8.6" text-anchor="start" fill="#222">only comes from NGS data</text>
<rect x="339.20" y="551.50" width="12.80" height="11.50" fill="#e4921f"/>
<text x="355.80" y="560.10" font-size="8.6" text-anchor="start" fill="#222">Adult BCL2 Translocation pos</text>
<rect x="339.20" y="565.00" width="12.80" height="11.50" fill="#a8102a"/>
<text x="355.80" y="573.60" font-size="8.6" text-anchor="start" fill="#222">Adult BCL2 Translocation neg</text>
<rect x="339.20" y="578.50" width="12.80" height="11.50" fill="#f2c12e"/>
<text x="355.80" y="587.10" font-size="8.6" text-anchor="start" fill="#222">Adult no evidence of BCL2 Translocation</text>
<rect x="339.20" y="592.00" width="12.80" height="11.50" fill="#9189c9"/>
<text x="355.80" y="600.60" font-size="8.6" text-anchor="start" fill="#222">Ped no evidence of BCL2 Translocation</text>
<text x="344.20" y="618.00" font-size="10" text-anchor="middle" font-weight="bold" fill="#111">*</text>
<text x="348.60" y="615.80" font-size="8.6" text-anchor="start" fill="#222">no SNP array data</text>
<text x="344.20" y="629.00" font-size="10" text-anchor="middle" font-weight="bold" fill="#c8304a">*</text>
<text x="348.60" y="626.80" font-size="8.6" text-anchor="start" fill="#222">DLBCL by pathology</text>
<text x="318.00" y="645.10" font-size="8.6" text-anchor="start" fill="#222">G=copy gain L=copy loss N=cnLOH</text>
<text x="316.60" y="659.10" font-size="8.6" text-anchor="start" fill="#222">classifier probability scale</text>
<rect x="416.50" y="651.60" width="14.50" height="10.10" fill="#5fa84e"/>
<rect x="431.00" y="651.60" width="11.40" height="10.10" fill="#92c376"/>
<rect x="442.40" y="651.60" width="11.60" height="10.10" fill="#d26474"/>
<rect x="454.00" y="651.60" width="13.80" height="10.10" fill="#b0153c"/>
<text x="423.70" y="659.30" font-size="7.5" text-anchor="middle" font-weight="bold" fill="#111">0</text>
<text x="461.00" y="659.30" font-size="7.5" text-anchor="middle" font-weight="bold" fill="#111">1</text>
<text x="11.90" y="730.40" font-size="14" text-anchor="start" font-weight="bold" fill="#000">B</text>
<text x="112.80" y="737.20" font-size="9.3" text-anchor="end" fill="#1a1a1a" class="lb">Age</text>
<rect x="114.60" y="729.60" width="3.79" height="9.50" fill="#e0962a"/>
<rect x="118.39" y="729.60" width="3.79" height="9.50" fill="#e0962a"/>
<rect x="122.17" y="729.60" width="3.79" height="9.50" fill="#e0962a"/>
<rect x="125.96" y="729.60" width="3.79" height="9.50" fill="#e0962a"/>
<rect x="141.10" y="729.60" width="3.79" height="9.50" fill="#e0962a"/>
<rect x="144.89" y="729.60" width="3.79" height="9.50" fill="#e0962a"/>
<rect x="148.67" y="729.60" width="3.79" height="9.50" fill="#e0962a"/>
<rect x="167.60" y="729.60" width="3.79" height="9.50" fill="#e0962a"/>
<rect x="171.39" y="729.60" width="3.79" height="9.50" fill="#e0962a"/>
<rect x="216.82" y="729.60" width="3.79" height="9.50" fill="#e0962a"/>
<rect x="220.61" y="729.60" width="3.79" height="9.50" fill="#e0962a"/>
<rect x="224.39" y="729.60" width="3.79" height="9.50" fill="#e0962a"/>
<rect x="228.18" y="729.60" width="3.79" height="9.50" fill="#e0962a"/>
<rect x="231.97" y="729.60" width="3.79" height="9.50" fill="#e0962a"/>
<rect x="235.75" y="729.60" width="3.79" height="9.50" fill="#e0962a"/>
<rect x="239.54" y="729.60" width="3.79" height="9.50" fill="#e0962a"/>
<rect x="129.74" y="729.60" width="3.79" height="9.50" fill="#6aaee6"/>
<rect x="133.53" y="729.60" width="3.79" height="9.50" fill="#6aaee6"/>
<rect x="137.32" y="729.60" width="3.79" height="9.50" fill="#6aaee6"/>
<rect x="152.46" y="729.60" width="3.79" height="9.50" fill="#6aaee6"/>
<rect x="156.25" y="729.60" width="3.79" height="9.50" fill="#6aaee6"/>
<rect x="160.03" y="729.60" width="3.79" height="9.50" fill="#6aaee6"/>
<rect x="163.82" y="729.60" width="3.79" height="9.50" fill="#6aaee6"/>
<rect x="175.18" y="729.60" width="3.79" height="9.50" fill="#6aaee6"/>
<rect x="178.96" y="729.60" width="3.79" height="9.50" fill="#6aaee6"/>
<rect x="182.75" y="729.60" width="3.79" height="9.50" fill="#6aaee6"/>
<rect x="186.53" y="729.60" width="3.79" height="9.50" fill="#6aaee6"/>
<rect x="190.32" y="729.60" width="3.79" height="9.50" fill="#6aaee6"/>
<rect x="194.11" y="729.60" width="3.79" height="9.50" fill="#6aaee6"/>
<rect x="197.89" y="729.60" width="3.79" height="9.50" fill="#6aaee6"/>
<rect x="201.68" y="729.60" width="3.79" height="9.50" fill="#6aaee6"/>
<rect x="205.46" y="729.60" width="3.79" height="9.50" fill="#6aaee6"/>
<rect x="209.25" y="729.60" width="3.79" height="9.50" fill="#6aaee6"/>
<rect x="213.04" y="729.60" width="3.79" height="9.50" fill="#6aaee6"/>
<rect x="243.32" y="729.60" width="3.79" height="9.50" fill="#6aaee6"/>
<rect x="247.11" y="729.60" width="3.79" height="9.50" fill="#6aaee6"/>
<rect x="250.90" y="729.60" width="3.79" height="9.50" fill="#6aaee6"/>
<rect x="254.68" y="729.60" width="3.79" height="9.50" fill="#6aaee6"/>
<rect x="258.47" y="729.60" width="3.79" height="9.50" fill="#6aaee6"/>
<rect x="262.25" y="729.60" width="3.79" height="9.50" fill="#6aaee6"/>
<rect x="266.04" y="729.60" width="3.79" height="9.50" fill="#6aaee6"/>
<rect x="269.83" y="729.60" width="3.79" height="9.50" fill="#6aaee6"/>
<text x="112.80" y="746.70" font-size="9.3" text-anchor="end" fill="#1a1a1a" class="lb">RB1CN</text>
<rect x="114.60" y="739.10" width="3.79" height="9.50" fill="#5aa843"/>
<rect x="118.39" y="739.10" width="3.79" height="9.50" fill="#5aa843"/>
<rect x="122.17" y="739.10" width="3.79" height="9.50" fill="#5aa843"/>
<rect x="125.96" y="739.10" width="3.79" height="9.50" fill="#5aa843"/>
<rect x="129.74" y="739.10" width="3.79" height="9.50" fill="#5aa843"/>
<rect x="133.53" y="739.10" width="3.79" height="9.50" fill="#5aa843"/>
<rect x="137.32" y="739.10" width="3.79" height="9.50" fill="#5aa843"/>
<text x="112.80" y="756.20" font-size="9.3" text-anchor="end" fill="#1a1a1a" class="lb">RB1mut</text>
<rect x="114.60" y="748.60" width="3.79" height="9.50" fill="#f0c42a"/>
<rect x="122.17" y="748.60" width="3.79" height="9.50" fill="#f0c42a"/>
<text x="112.80" y="765.70" font-size="9.3" text-anchor="end" fill="#1a1a1a" class="lb">CDKN2A/CDKN2B CN</text>
<rect x="141.10" y="758.10" width="3.79" height="9.50" fill="#5aa843"/>
<rect x="144.89" y="758.10" width="3.79" height="9.50" fill="#5aa843"/>
<rect x="148.67" y="758.10" width="3.79" height="9.50" fill="#5aa843"/>
<rect x="152.46" y="758.10" width="3.79" height="9.50" fill="#5aa843"/>
<rect x="156.25" y="758.10" width="3.79" height="9.50" fill="#5aa843"/>
<rect x="160.03" y="758.10" width="3.79" height="9.50" fill="#c8c8c8"/>
<text x="112.80" y="775.40" font-size="9.3" text-anchor="end" fill="#1a1a1a" class="lb">CCND3 mut</text>
<rect x="129.74" y="767.80" width="3.79" height="9.50" fill="#f0c42a"/>
<rect x="141.10" y="767.80" width="3.79" height="9.50" fill="#f0c42a"/>
<rect x="144.89" y="767.80" width="3.79" height="9.50" fill="#f0c42a"/>
<rect x="167.60" y="767.80" width="3.79" height="9.50" fill="#f0c42a"/>
<rect x="171.39" y="767.80" width="3.79" height="9.50" fill="#f0c42a"/>
<rect x="175.18" y="767.80" width="3.79" height="9.50" fill="#f0c42a"/>
<rect x="178.96" y="767.80" width="3.79" height="9.50" fill="#f0c42a"/>
<rect x="182.75" y="767.80" width="3.79" height="9.50" fill="#f0c42a"/>
<rect x="186.53" y="767.80" width="3.79" height="9.50" fill="#f0c42a"/>
<rect x="190.32" y="767.80" width="3.79" height="9.50" fill="#f0c42a"/>
<rect x="194.11" y="767.80" width="3.79" height="9.50" fill="#f0c42a"/>
<rect x="197.89" y="767.80" width="3.79" height="9.50" fill="#f0c42a"/>
<rect x="201.68" y="767.80" width="3.79" height="9.50" fill="#f0c42a"/>
<path d="M114.60 729.60H273.61 M114.60 739.10H273.61 M114.60 748.60H273.61 M114.60 758.10H273.61 M114.60 767.80H273.61 M114.60 777.40H273.61 M114.60 729.60V777.40 M118.39 729.60V777.40 M122.17 729.60V777.40 M125.96 729.60V777.40 M129.74 729.60V777.40 M133.53 729.60V777.40 M137.32 729.60V777.40 M141.10 729.60V777.40 M144.89 729.60V777.40 M148.67 729.60V777.40 M152.46 729.60V777.40 M156.25 729.60V777.40 M160.03 729.60V777.40 M163.82 729.60V777.40 M167.60 729.60V777.40 M171.39 729.60V777.40 M175.18 729.60V777.40 M178.96 729.60V777.40 M182.75 729.60V777.40 M186.53 729.60V777.40 M190.32 729.60V777.40 M194.11 729.60V777.40 M197.89 729.60V777.40 M201.68 729.60V777.40 M205.46 729.60V777.40 M209.25 729.60V777.40 M213.04 729.60V777.40 M216.82 729.60V777.40 M220.61 729.60V777.40 M224.39 729.60V777.40 M228.18 729.60V777.40 M231.97 729.60V777.40 M235.75 729.60V777.40 M239.54 729.60V777.40 M243.32 729.60V777.40 M247.11 729.60V777.40 M250.90 729.60V777.40 M254.68 729.60V777.40 M258.47 729.60V777.40 M262.25 729.60V777.40 M266.04 729.60V777.40 M269.83 729.60V777.40 M273.61 729.60V777.40" stroke="#111" stroke-width="0.9" fill="none"/>
<rect x="95.90" y="787.40" width="4.50" height="9.50" fill="#e0962a"/>
<text x="103.00" y="795.20" font-size="8.8" text-anchor="start" fill="#222">Adult</text>
<rect x="131.00" y="787.40" width="4.50" height="9.50" fill="#6aaee6"/>
<text x="139.90" y="795.20" font-size="8.8" text-anchor="start" fill="#222">Ped</text>
<rect x="164.00" y="787.40" width="4.50" height="9.50" fill="#c8c8c8"/>
<text x="171.40" y="795.20" font-size="8.8" text-anchor="start" fill="#222">cnLOH</text>
<rect x="206.40" y="787.40" width="4.50" height="9.50" fill="#5aa843"/>
<text x="214.50" y="795.20" font-size="8.8" text-anchor="start" fill="#222">copy loss</text>
<rect x="255.00" y="787.40" width="4.50" height="9.50" fill="#f0c42a"/>
<text x="263.60" y="795.20" font-size="8.8" text-anchor="start" fill="#222">mutation</text>
<rect x="0" y="0" width="520" height="1.0" fill="#000"/><rect x="0" y="0" width="1.2" height="806" fill="#000"/><rect x="518.3" y="0" width="1.7" height="806" fill="#000"/><rect x="0" y="804.6" width="520" height="1.4" fill="#000"/>
<text x="11.0" y="16.9" font-size="16" font-weight="bold" fill="#000">A</text>
</svg>
</body></html>
